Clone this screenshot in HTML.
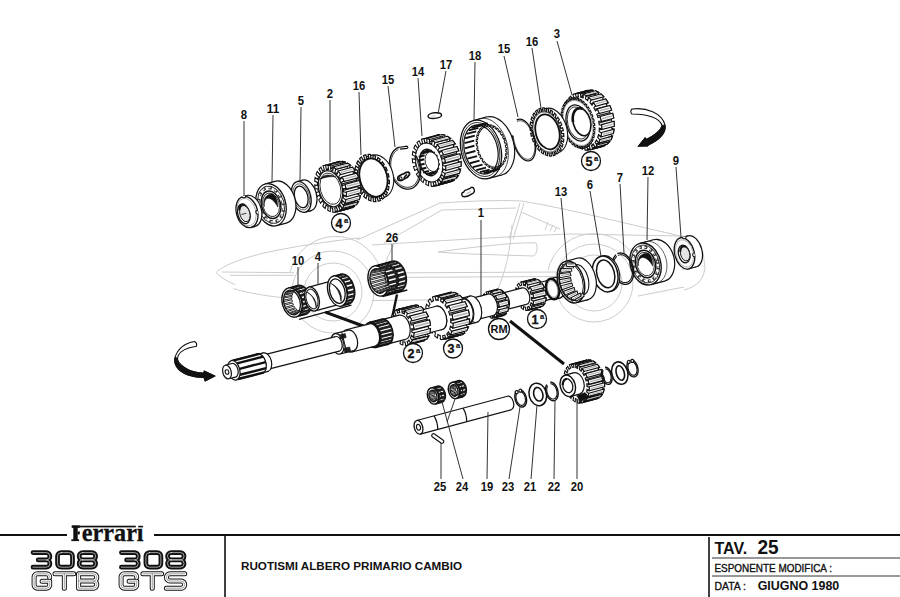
<!DOCTYPE html>
<html><head><meta charset="utf-8"><style>
html,body{margin:0;padding:0;background:#fff;width:900px;height:597px;overflow:hidden}
svg{display:block}
.lb{font-family:"Liberation Sans",sans-serif;font-weight:bold;fill:#111;text-anchor:middle}
.tt{font-family:"Liberation Sans",sans-serif;font-weight:bold;fill:#111}
.big{font-family:"Liberation Sans",sans-serif;font-weight:bold;fill:none;stroke:#111;stroke-linejoin:round}
.bigw{font-family:"Liberation Sans",sans-serif;font-weight:bold;fill:none;stroke:#fff;stroke-linejoin:round}
</style></head><body>
<svg width="900" height="597" viewBox="0 0 900 597">
<path d="M216,272.7 C222,266 240,259 262,253.5 C290,247 330,241 360,238" fill="none" stroke="#cccccc" stroke-width="1" /><path d="M357,240 L440,203 C470,201 500,200 521,201 C560,207 620,222 676,235 C690,240 700,246 703,252 L705,268 C703,280 698,286 684,290" fill="none" stroke="#cccccc" stroke-width="1" /><path d="M221.7,272 L294,272.7" fill="none" stroke="#cccccc" stroke-width="1" /><path d="M230,275.3 L294,275.3" fill="none" stroke="#cccccc" stroke-width="1" /><path d="M216,272.7 C222,278 228,282 235,284.5" fill="none" stroke="#cccccc" stroke-width="1" /><path d="M233.5,288.7 C245,292 262,296 296,299" fill="none" stroke="#cccccc" stroke-width="1" /><path d="M384,243 L442,210 L516,208" fill="none" stroke="#cccccc" stroke-width="1" /><path d="M520,203 L509,239" fill="none" stroke="#cccccc" stroke-width="1" /><path d="M524,203 L513,239" fill="none" stroke="#cccccc" stroke-width="1" /><path d="M378,273 L556,272" fill="none" stroke="#cccccc" stroke-width="1" /><path d="M378,277.5 L556,276.5" fill="none" stroke="#cccccc" stroke-width="1" /><path d="M372,245 C450,240 520,236 570,234 L681,236" fill="none" stroke="#cccccc" stroke-width="1" /><path d="M438,252 C480,246 520,242 536,243 C538,248 537,253 534,256 C500,255 460,254 438,252Z" fill="none" stroke="#cccccc" stroke-width="1" /><path d="M521,212 L560,229 M548,222 l-3,8 M553,225 l-3,6 M557,227 l-3,5" fill="none" stroke="#cccccc" stroke-width="1" /><path d="M681,236 L683,270" fill="none" stroke="#cccccc" stroke-width="1" /><path d="M372,300.5 C440,300 500,299 550,297" fill="none" stroke="#cccccc" stroke-width="1" /><path d="M638,296 L684,287" fill="none" stroke="#cccccc" stroke-width="1" /><path d="M397,240 C390,250 385,262 383,274" fill="none" stroke="#cccccc" stroke-width="1" /><path d="M512,225 C510,250 507,270 494,298" fill="none" stroke="#cccccc" stroke-width="1" /><path d="M290,272 A47,47 0 0 1 380,268" fill="none" stroke="#cccccc" stroke-width="1" /><path d="M548,270 A47,47 0 0 1 640,272" fill="none" stroke="#cccccc" stroke-width="1" /><circle cx="333" cy="292" r="41" fill="none" stroke="#cccccc" stroke-width="1"/><circle cx="333" cy="292" r="29" fill="none" stroke="#cccccc" stroke-width="1"/><circle cx="594" cy="283" r="39" fill="none" stroke="#cccccc" stroke-width="1"/><circle cx="594" cy="283" r="28" fill="none" stroke="#cccccc" stroke-width="1"/>
<g transform="translate(578.00,123.00) rotate(-15)"><g transform="translate(5,0)"><path d="M30.98,0.00 L30.93,2.07 L30.93,2.07 L30.80,4.13 L28.46,3.59 L28.27,5.36 L28.27,5.36 L27.99,7.10 L30.25,8.17 L29.85,10.13 L29.85,10.13 L29.36,12.05 L27.21,10.47 L26.71,12.08 L26.71,12.08 L26.14,13.62 L28.13,15.68 L27.39,17.38 L27.39,17.38 L26.59,18.99 L24.81,16.50 L24.05,17.82 L24.05,17.82 L23.23,19.04 L24.77,21.92 L23.78,23.22 L23.78,23.22 L22.72,24.40 L21.45,21.20 L20.49,22.12 L20.49,22.12 L19.49,22.92 L20.47,26.38 L19.28,27.17 L19.28,27.17 L18.07,27.83 L17.40,24.18 L16.32,24.62 L16.32,24.62 L15.22,24.94 L15.56,28.70 L14.28,28.93 L14.28,28.93 L13.00,29.00 L13.00,25.20 L11.89,25.14 L11.89,25.14 L10.78,24.94 L10.44,28.70 L9.18,28.34 L9.18,28.34 L7.93,27.83 L8.60,24.18 L7.54,23.61 L7.54,23.61 L6.51,22.92 L5.53,26.38 L4.38,25.45 L4.38,25.45 L3.28,24.40 L4.55,21.20 L3.64,20.17 L3.64,20.17 L2.77,19.04 L1.23,21.92 L0.29,20.51 L0.29,20.51 L-0.59,18.99 L1.19,16.50 L0.49,15.10 L0.49,15.10 L-0.14,13.62 L-2.13,15.68 L-2.78,13.90 L-2.78,13.90 L-3.36,12.05 L-1.21,10.47 L-1.64,8.81 L-1.64,8.81 L-1.99,7.10 L-4.25,8.17 L-4.57,6.16 L-4.57,6.16 L-4.80,4.13 L-2.46,3.59 L-2.58,1.80 L-2.58,1.80 L-2.62,0.00 L-4.98,0.00 L-4.93,-2.07 L-4.93,-2.07 L-4.80,-4.13 L-2.46,-3.59 L-2.27,-5.36 L-2.27,-5.36 L-1.99,-7.10 L-4.25,-8.17 L-3.85,-10.13 L-3.85,-10.13 L-3.36,-12.05 L-1.21,-10.47 L-0.71,-12.08 L-0.71,-12.08 L-0.14,-13.62 L-2.13,-15.68 L-1.39,-17.38 L-1.39,-17.38 L-0.59,-18.99 L1.19,-16.50 L1.95,-17.82 L1.95,-17.82 L2.77,-19.04 L1.23,-21.92 L2.22,-23.22 L2.22,-23.22 L3.28,-24.40 L4.55,-21.20 L5.51,-22.12 L5.51,-22.12 L6.51,-22.92 L5.53,-26.38 L6.72,-27.17 L6.72,-27.17 L7.93,-27.83 L8.60,-24.18 L9.68,-24.62 L9.68,-24.62 L10.78,-24.94 L10.44,-28.70 L11.72,-28.93 L11.72,-28.93 L13.00,-29.00 L13.00,-25.20 L14.11,-25.14 L14.11,-25.14 L15.22,-24.94 L15.56,-28.70 L16.82,-28.34 L16.82,-28.34 L18.07,-27.83 L17.40,-24.18 L18.46,-23.61 L18.46,-23.61 L19.49,-22.92 L20.47,-26.38 L21.62,-25.45 L21.62,-25.45 L22.72,-24.40 L21.45,-21.20 L22.36,-20.17 L22.36,-20.17 L23.23,-19.04 L24.77,-21.92 L25.71,-20.51 L25.71,-20.51 L26.59,-18.99 L24.81,-16.50 L25.51,-15.10 L25.51,-15.10 L26.14,-13.62 L28.13,-15.68 L28.78,-13.90 L28.78,-13.90 L29.36,-12.05 L27.21,-10.47 L27.64,-8.81 L27.64,-8.81 L27.99,-7.10 L30.25,-8.17 L30.57,-6.16 L30.57,-6.16 L30.80,-4.13 L28.46,-3.59 L28.58,-1.80 L28.58,-1.80 L28.62,-0.00Z" fill="#fff" stroke="#111" stroke-width="1.1" /><rect x="0" y="-29" width="13" height="58" fill="#fff"/><line x1="15.27" y1="5.36" x2="28.27" y2="5.36" stroke="#222" stroke-width="1.3" /><line x1="13.71" y1="12.08" x2="26.71" y2="12.08" stroke="#222" stroke-width="1.3" /><line x1="11.05" y1="17.82" x2="24.05" y2="17.82" stroke="#222" stroke-width="1.3" /><line x1="7.49" y1="22.12" x2="20.49" y2="22.12" stroke="#222" stroke-width="1.3" /><line x1="3.32" y1="24.62" x2="16.32" y2="24.62" stroke="#222" stroke-width="1.3" /><line x1="-1.11" y1="25.14" x2="11.89" y2="25.14" stroke="#222" stroke-width="1.3" /><line x1="-3.32" y1="-24.62" x2="9.68" y2="-24.62" stroke="#222" stroke-width="1.3" /><line x1="1.11" y1="-25.14" x2="14.11" y2="-25.14" stroke="#222" stroke-width="1.3" /><line x1="5.46" y1="-23.61" x2="18.46" y2="-23.61" stroke="#222" stroke-width="1.3" /><line x1="9.36" y1="-20.17" x2="22.36" y2="-20.17" stroke="#222" stroke-width="1.3" /><line x1="12.51" y1="-15.10" x2="25.51" y2="-15.10" stroke="#222" stroke-width="1.3" /><line x1="14.64" y1="-8.81" x2="27.64" y2="-8.81" stroke="#222" stroke-width="1.3" /><line x1="15.58" y1="-1.80" x2="28.58" y2="-1.80" stroke="#222" stroke-width="1.3" /><path d="M-2.25,28.77 L10.75,28.77 L7.64,27.68 L-5.36,27.68Z" fill="#fff" stroke="#111" stroke-width="1.15" /><path d="M-2.86,-28.63 L10.14,-28.63 L13.31,-29.00 L0.31,-29.00Z" fill="#fff" stroke="#111" stroke-width="1.15" /><path d="M2.86,28.63 L15.86,28.63 L12.69,29.00 L-0.31,29.00Z" fill="#fff" stroke="#111" stroke-width="1.15" /><path d="M2.25,-28.77 L15.25,-28.77 L18.36,-27.68 L5.36,-27.68Z" fill="#fff" stroke="#111" stroke-width="1.15" /><path d="M7.75,26.17 L20.75,26.17 L17.77,27.96 L4.77,27.96Z" fill="#fff" stroke="#111" stroke-width="1.15" /><path d="M7.19,-26.58 L20.19,-26.58 L22.98,-24.12 L9.98,-24.12Z" fill="#fff" stroke="#111" stroke-width="1.15" /><line x1="10.12" y1="-25.45" x2="20.12" y2="-25.45" stroke="#b4b4b4" stroke-width="0.7373298374865521" /><path d="M12.01,21.59 L25.01,21.59 L22.46,24.66 L9.46,24.66Z" fill="#fff" stroke="#111" stroke-width="1.15" /><line x1="12.28" y1="23.22" x2="22.28" y2="23.22" stroke="#b4b4b4" stroke-width="0.9219952815805061" /><path d="M11.54,-22.24 L24.54,-22.24 L26.79,-18.61 L13.79,-18.61Z" fill="#fff" stroke="#111" stroke-width="1.15" /><line x1="14.21" y1="-20.51" x2="24.21" y2="-20.51" stroke="#b4b4b4" stroke-width="1.0878915605563164" /><path d="M15.29,15.26 L28.29,15.26 L26.38,19.36 L13.38,19.36Z" fill="#fff" stroke="#111" stroke-width="1.15" /><line x1="15.89" y1="17.38" x2="25.89" y2="17.38" stroke="#b4b4b4" stroke-width="1.2316415045793936" /><path d="M14.96,-16.09 L27.96,-16.09 L29.48,-11.59 L16.48,-11.59Z" fill="#fff" stroke="#111" stroke-width="1.15" /><line x1="17.28" y1="-13.90" x2="27.28" y2="-13.90" stroke="#b4b4b4" stroke-width="1.35031877933004" /><path d="M17.34,7.69 L30.34,7.69 L29.22,12.50 L16.22,12.50Z" fill="#fff" stroke="#111" stroke-width="1.15" /><line x1="18.35" y1="10.13" x2="28.35" y2="10.13" stroke="#b4b4b4" stroke-width="1.4415074577313256" /><path d="M17.16,-8.65 L30.16,-8.65 L30.84,-3.63 L17.84,-3.63Z" fill="#fff" stroke="#111" stroke-width="1.15" /><line x1="19.07" y1="-6.16" x2="29.07" y2="-6.16" stroke="#b4b4b4" stroke-width="1.5033512012574406" /><path d="M17.98,-0.50 L30.98,-0.50 L30.75,4.62 L17.75,4.62Z" fill="#fff" stroke="#111" stroke-width="1.15" /><line x1="19.43" y1="2.07" x2="29.43" y2="2.07" stroke="#b4b4b4" stroke-width="1.5345910496328141" /><line x1="0.00" y1="-29.00" x2="13.00" y2="-29.00" stroke="#111" stroke-width="1.1" /><line x1="0.00" y1="29.00" x2="13.00" y2="29.00" stroke="#111" stroke-width="1.1" /><path d="M17.98,0.00 L17.93,2.07 L17.93,2.07 L17.80,4.13 L15.46,3.59 L15.27,5.36 L15.27,5.36 L14.99,7.10 L17.25,8.17 L16.85,10.13 L16.85,10.13 L16.36,12.05 L14.21,10.47 L13.71,12.08 L13.71,12.08 L13.14,13.62 L15.13,15.68 L14.39,17.38 L14.39,17.38 L13.59,18.99 L11.81,16.50 L11.05,17.82 L11.05,17.82 L10.23,19.04 L11.77,21.92 L10.78,23.22 L10.78,23.22 L9.72,24.40 L8.45,21.20 L7.49,22.12 L7.49,22.12 L6.49,22.92 L7.47,26.38 L6.28,27.17 L6.28,27.17 L5.07,27.83 L4.40,24.18 L3.32,24.62 L3.32,24.62 L2.22,24.94 L2.56,28.70 L1.28,28.93 L1.28,28.93 L0.00,29.00 L0.00,25.20 L-1.11,25.14 L-1.11,25.14 L-2.22,24.94 L-2.56,28.70 L-3.82,28.34 L-3.82,28.34 L-5.07,27.83 L-4.40,24.18 L-5.46,23.61 L-5.46,23.61 L-6.49,22.92 L-7.47,26.38 L-8.62,25.45 L-8.62,25.45 L-9.72,24.40 L-8.45,21.20 L-9.36,20.17 L-9.36,20.17 L-10.23,19.04 L-11.77,21.92 L-12.71,20.51 L-12.71,20.51 L-13.59,18.99 L-11.81,16.50 L-12.51,15.10 L-12.51,15.10 L-13.14,13.62 L-15.13,15.68 L-15.78,13.90 L-15.78,13.90 L-16.36,12.05 L-14.21,10.47 L-14.64,8.81 L-14.64,8.81 L-14.99,7.10 L-17.25,8.17 L-17.57,6.16 L-17.57,6.16 L-17.80,4.13 L-15.46,3.59 L-15.58,1.80 L-15.58,1.80 L-15.62,0.00 L-17.98,0.00 L-17.93,-2.07 L-17.93,-2.07 L-17.80,-4.13 L-15.46,-3.59 L-15.27,-5.36 L-15.27,-5.36 L-14.99,-7.10 L-17.25,-8.17 L-16.85,-10.13 L-16.85,-10.13 L-16.36,-12.05 L-14.21,-10.47 L-13.71,-12.08 L-13.71,-12.08 L-13.14,-13.62 L-15.13,-15.68 L-14.39,-17.38 L-14.39,-17.38 L-13.59,-18.99 L-11.81,-16.50 L-11.05,-17.82 L-11.05,-17.82 L-10.23,-19.04 L-11.77,-21.92 L-10.78,-23.22 L-10.78,-23.22 L-9.72,-24.40 L-8.45,-21.20 L-7.49,-22.12 L-7.49,-22.12 L-6.49,-22.92 L-7.47,-26.38 L-6.28,-27.17 L-6.28,-27.17 L-5.07,-27.83 L-4.40,-24.18 L-3.32,-24.62 L-3.32,-24.62 L-2.22,-24.94 L-2.56,-28.70 L-1.28,-28.93 L-1.28,-28.93 L-0.00,-29.00 L-0.00,-25.20 L1.11,-25.14 L1.11,-25.14 L2.22,-24.94 L2.56,-28.70 L3.82,-28.34 L3.82,-28.34 L5.07,-27.83 L4.40,-24.18 L5.46,-23.61 L5.46,-23.61 L6.49,-22.92 L7.47,-26.38 L8.62,-25.45 L8.62,-25.45 L9.72,-24.40 L8.45,-21.20 L9.36,-20.17 L9.36,-20.17 L10.23,-19.04 L11.77,-21.92 L12.71,-20.51 L12.71,-20.51 L13.59,-18.99 L11.81,-16.50 L12.51,-15.10 L12.51,-15.10 L13.14,-13.62 L15.13,-15.68 L15.78,-13.90 L15.78,-13.90 L16.36,-12.05 L14.21,-10.47 L14.64,-8.81 L14.64,-8.81 L14.99,-7.10 L17.25,-8.17 L17.57,-6.16 L17.57,-6.16 L17.80,-4.13 L15.46,-3.59 L15.58,-1.80 L15.58,-1.80 L15.62,-0.00Z" fill="#fff" stroke="#111" stroke-width="1.1" /></g><path d="M16.12,0.00 L16.10,1.13 L16.10,1.13 L16.06,2.27 L14.82,2.09 L14.75,3.13 L14.75,3.13 L14.65,4.17 L15.88,4.51 L15.74,5.63 L15.74,5.63 L15.57,6.73 L14.37,6.21 L14.19,7.22 L14.19,7.22 L13.98,8.21 L15.15,8.89 L14.89,9.95 L14.89,9.95 L14.61,10.99 L13.49,10.14 L13.20,11.08 L13.20,11.08 L12.89,12.00 L13.96,13.00 L13.60,13.97 L13.60,13.97 L13.20,14.91 L12.19,13.77 L11.81,14.61 L11.81,14.61 L11.40,15.43 L12.35,16.71 L11.88,17.57 L11.88,17.57 L11.40,18.38 L10.52,16.97 L10.05,17.69 L10.05,17.69 L9.56,18.39 L10.36,19.92 L9.81,20.63 L9.81,20.63 L9.25,21.30 L8.53,19.66 L8.00,20.24 L8.00,20.24 L7.44,20.78 L8.06,22.52 L7.44,23.06 L7.44,23.06 L6.81,23.56 L6.29,21.75 L5.69,22.17 L5.69,22.17 L5.09,22.55 L5.51,24.43 L4.85,24.80 L4.85,24.80 L4.17,25.11 L3.85,23.18 L3.22,23.43 L3.22,23.43 L2.58,23.64 L2.80,25.61 L2.10,25.78 L2.10,25.78 L1.40,25.90 L1.30,23.91 L0.65,23.98 L0.65,23.98 L0.00,24.00 L0.00,26.00 L-0.70,25.98 L-0.70,25.98 L-1.40,25.90 L-1.30,23.91 L-1.94,23.79 L-1.94,23.79 L-2.58,23.64 L-2.80,25.61 L-3.49,25.38 L-3.49,25.38 L-4.17,25.11 L-3.85,23.18 L-4.47,22.89 L-4.47,22.89 L-5.09,22.55 L-5.51,24.43 L-6.17,24.02 L-6.17,24.02 L-6.81,23.56 L-6.29,21.75 L-6.87,21.29 L-6.87,21.29 L-7.44,20.78 L-8.06,22.52 L-8.66,21.93 L-8.66,21.93 L-9.25,21.30 L-8.53,19.66 L-9.06,19.04 L-9.06,19.04 L-9.56,18.39 L-10.36,19.92 L-10.89,19.17 L-10.89,19.17 L-11.40,18.38 L-10.52,16.97 L-10.97,16.21 L-10.97,16.21 L-11.40,15.43 L-12.35,16.71 L-12.79,15.83 L-12.79,15.83 L-13.20,14.91 L-12.19,13.77 L-12.55,12.90 L-12.55,12.90 L-12.89,12.00 L-13.96,13.00 L-14.30,12.01 L-14.30,12.01 L-14.61,10.99 L-13.49,10.14 L-13.75,9.18 L-13.75,9.18 L-13.98,8.21 L-15.15,8.89 L-15.37,7.82 L-15.37,7.82 L-15.57,6.73 L-14.37,6.21 L-14.53,5.19 L-14.53,5.19 L-14.65,4.17 L-15.88,4.51 L-15.98,3.39 L-15.98,3.39 L-16.06,2.27 L-14.82,2.09 L-14.87,1.05 L-14.87,1.05 L-14.88,0.00 L-16.12,0.00 L-16.10,-1.13 L-16.10,-1.13 L-16.06,-2.27 L-14.82,-2.09 L-14.75,-3.13 L-14.75,-3.13 L-14.65,-4.17 L-15.88,-4.51 L-15.74,-5.63 L-15.74,-5.63 L-15.57,-6.73 L-14.37,-6.21 L-14.19,-7.22 L-14.19,-7.22 L-13.98,-8.21 L-15.15,-8.89 L-14.89,-9.95 L-14.89,-9.95 L-14.61,-10.99 L-13.49,-10.14 L-13.20,-11.08 L-13.20,-11.08 L-12.89,-12.00 L-13.96,-13.00 L-13.60,-13.97 L-13.60,-13.97 L-13.20,-14.91 L-12.19,-13.77 L-11.81,-14.61 L-11.81,-14.61 L-11.40,-15.43 L-12.35,-16.71 L-11.88,-17.57 L-11.88,-17.57 L-11.40,-18.38 L-10.52,-16.97 L-10.05,-17.69 L-10.05,-17.69 L-9.56,-18.39 L-10.36,-19.92 L-9.81,-20.63 L-9.81,-20.63 L-9.25,-21.30 L-8.53,-19.66 L-8.00,-20.24 L-8.00,-20.24 L-7.44,-20.78 L-8.06,-22.52 L-7.44,-23.06 L-7.44,-23.06 L-6.81,-23.56 L-6.29,-21.75 L-5.69,-22.17 L-5.69,-22.17 L-5.09,-22.55 L-5.51,-24.43 L-4.85,-24.80 L-4.85,-24.80 L-4.17,-25.11 L-3.85,-23.18 L-3.22,-23.43 L-3.22,-23.43 L-2.58,-23.64 L-2.80,-25.61 L-2.10,-25.78 L-2.10,-25.78 L-1.40,-25.90 L-1.30,-23.91 L-0.65,-23.98 L-0.65,-23.98 L-0.00,-24.00 L-0.00,-26.00 L0.70,-25.98 L0.70,-25.98 L1.40,-25.90 L1.30,-23.91 L1.94,-23.79 L1.94,-23.79 L2.58,-23.64 L2.80,-25.61 L3.49,-25.38 L3.49,-25.38 L4.17,-25.11 L3.85,-23.18 L4.47,-22.89 L4.47,-22.89 L5.09,-22.55 L5.51,-24.43 L6.17,-24.02 L6.17,-24.02 L6.81,-23.56 L6.29,-21.75 L6.87,-21.29 L6.87,-21.29 L7.44,-20.78 L8.06,-22.52 L8.66,-21.93 L8.66,-21.93 L9.25,-21.30 L8.53,-19.66 L9.06,-19.04 L9.06,-19.04 L9.56,-18.39 L10.36,-19.92 L10.89,-19.17 L10.89,-19.17 L11.40,-18.38 L10.52,-16.97 L10.97,-16.21 L10.97,-16.21 L11.40,-15.43 L12.35,-16.71 L12.79,-15.83 L12.79,-15.83 L13.20,-14.91 L12.19,-13.77 L12.55,-12.90 L12.55,-12.90 L12.89,-12.00 L13.96,-13.00 L14.30,-12.01 L14.30,-12.01 L14.61,-10.99 L13.49,-10.14 L13.75,-9.18 L13.75,-9.18 L13.98,-8.21 L15.15,-8.89 L15.37,-7.82 L15.37,-7.82 L15.57,-6.73 L14.37,-6.21 L14.53,-5.19 L14.53,-5.19 L14.65,-4.17 L15.88,-4.51 L15.98,-3.39 L15.98,-3.39 L16.06,-2.27 L14.82,-2.09 L14.87,-1.05 L14.87,-1.05 L14.88,-0.00Z" fill="#fff" stroke="#111" stroke-width="1.1" /><ellipse cx="0.00" cy="0.00" rx="14.26" ry="23.00" fill="none" stroke="#777" stroke-width="0.6" /><ellipse cx="0.00" cy="0.00" rx="11.47" ry="18.50" fill="#fff" stroke="#111" stroke-width="1.3" /><ellipse cx="0.00" cy="0.00" rx="10.23" ry="16.50" fill="#fff" stroke="#111" stroke-width="0.8" /><ellipse cx="4.00" cy="0.00" rx="8.68" ry="14.00" fill="#fff" stroke="#111" stroke-width="1.6" /><path d="M-4.57,-2.21 L-4.40,-3.51 L-4.16,-4.78 L-3.84,-6.01 L-3.45,-7.18 L-3.00,-8.29 L-2.48,-9.32 L-1.90,-10.27 L-1.27,-11.12 L-0.59,-11.88 L0.13,-12.53 L0.88,-13.07 L1.66,-13.48 L2.47,-13.78 L3.29,-13.95 L4.11,-14.00 L4.93,-13.92 L5.75,-13.71 L6.55,-13.38 L7.32,-12.93 L8.07,-12.37" fill="none" stroke="#111" stroke-width="2.6" /></g>
<g transform="translate(547.00,132.00) rotate(-15)"><ellipse cx="5.00" cy="0.00" rx="15.18" ry="23.00" fill="#fff" stroke="#111" stroke-width="1.1" /><rect x="0" y="-23.0" width="5" height="46.0" fill="#fff"/><line x1="0.00" y1="-23.00" x2="5.00" y2="-23.00" stroke="#111" stroke-width="1.1" /><line x1="0.00" y1="23.00" x2="5.00" y2="23.00" stroke="#111" stroke-width="1.1" /><path d="M16.17,0.00 L16.14,1.48 L16.14,1.48 L16.05,2.95 L14.09,2.59 L13.96,3.88 L13.96,3.88 L13.78,5.15 L15.70,5.86 L15.44,7.29 L15.44,7.29 L15.12,8.69 L13.27,7.62 L12.94,8.82 L12.94,8.82 L12.56,9.99 L14.32,11.39 L13.84,12.67 L13.84,12.67 L13.31,13.92 L11.68,12.21 L11.17,13.26 L11.17,13.26 L10.62,14.26 L12.10,16.25 L11.43,17.32 L11.43,17.32 L10.72,18.34 L9.41,16.09 L8.75,16.92 L8.75,16.92 L8.06,17.69 L9.19,20.16 L8.37,20.97 L8.37,20.97 L7.51,21.69 L6.59,19.04 L5.82,19.61 L5.82,19.61 L5.03,20.10 L5.73,22.91 L4.81,23.39 L4.81,23.39 L3.87,23.79 L3.40,20.88 L2.56,21.15 L2.56,21.15 L1.71,21.34 L1.95,24.32 L0.98,24.46 L0.98,24.46 L-0.00,24.50 L-0.00,21.50 L-0.86,21.46 L-0.86,21.46 L-1.71,21.34 L-1.95,24.32 L-2.91,24.10 L-2.91,24.10 L-3.87,23.79 L-3.40,20.88 L-4.22,20.53 L-4.22,20.53 L-5.03,20.10 L-5.73,22.91 L-6.64,22.34 L-6.64,22.34 L-7.51,21.69 L-6.59,19.04 L-7.34,18.40 L-7.34,18.40 L-8.06,17.69 L-9.19,20.16 L-9.97,19.29 L-9.97,19.29 L-10.72,18.34 L-9.41,16.09 L-10.03,15.20 L-10.03,15.20 L-10.62,14.26 L-12.10,16.25 L-12.73,15.11 L-12.73,15.11 L-13.31,13.92 L-11.68,12.21 L-12.14,11.12 L-12.14,11.12 L-12.56,9.99 L-14.32,11.39 L-14.75,10.06 L-14.75,10.06 L-15.12,8.69 L-13.27,7.62 L-13.55,6.40 L-13.55,6.40 L-13.78,5.15 L-15.70,5.86 L-15.91,4.42 L-15.91,4.42 L-16.05,2.95 L-14.09,2.59 L-14.16,1.30 L-14.16,1.30 L-14.19,-0.00 L-16.17,-0.00 L-16.14,-1.48 L-16.14,-1.48 L-16.05,-2.95 L-14.09,-2.59 L-13.96,-3.88 L-13.96,-3.88 L-13.78,-5.15 L-15.70,-5.86 L-15.44,-7.29 L-15.44,-7.29 L-15.12,-8.69 L-13.27,-7.62 L-12.94,-8.82 L-12.94,-8.82 L-12.56,-9.99 L-14.32,-11.39 L-13.84,-12.67 L-13.84,-12.67 L-13.31,-13.92 L-11.68,-12.21 L-11.17,-13.26 L-11.17,-13.26 L-10.62,-14.26 L-12.10,-16.25 L-11.43,-17.32 L-11.43,-17.32 L-10.72,-18.34 L-9.41,-16.09 L-8.75,-16.92 L-8.75,-16.92 L-8.06,-17.69 L-9.19,-20.16 L-8.37,-20.97 L-8.37,-20.97 L-7.51,-21.69 L-6.59,-19.04 L-5.82,-19.61 L-5.82,-19.61 L-5.03,-20.10 L-5.73,-22.91 L-4.81,-23.39 L-4.81,-23.39 L-3.87,-23.79 L-3.40,-20.88 L-2.56,-21.15 L-2.56,-21.15 L-1.71,-21.34 L-1.95,-24.32 L-0.98,-24.46 L-0.98,-24.46 L-0.00,-24.50 L-0.00,-21.50 L0.86,-21.46 L0.86,-21.46 L1.71,-21.34 L1.95,-24.32 L2.91,-24.10 L2.91,-24.10 L3.87,-23.79 L3.40,-20.88 L4.22,-20.53 L4.22,-20.53 L5.03,-20.10 L5.73,-22.91 L6.64,-22.34 L6.64,-22.34 L7.51,-21.69 L6.59,-19.04 L7.34,-18.40 L7.34,-18.40 L8.06,-17.69 L9.19,-20.16 L9.97,-19.29 L9.97,-19.29 L10.72,-18.34 L9.41,-16.09 L10.03,-15.20 L10.03,-15.20 L10.62,-14.26 L12.10,-16.25 L12.73,-15.11 L12.73,-15.11 L13.31,-13.92 L11.68,-12.21 L12.14,-11.12 L12.14,-11.12 L12.56,-9.99 L14.32,-11.39 L14.75,-10.06 L14.75,-10.06 L15.12,-8.69 L13.27,-7.62 L13.55,-6.40 L13.55,-6.40 L13.78,-5.15 L15.70,-5.86 L15.91,-4.42 L15.91,-4.42 L16.05,-2.95 L14.09,-2.59 L14.16,-1.30 L14.16,-1.30 L14.19,0.00Z" fill="#fff" stroke="#111" stroke-width="1.2" /><ellipse cx="0.00" cy="0.00" rx="13.53" ry="20.50" fill="none" stroke="#111" stroke-width="0.7" /><ellipse cx="0.50" cy="0.00" rx="11.75" ry="17.80" fill="#fff" stroke="#111" stroke-width="1.8" /></g>
<g transform="translate(524.00,140.00) rotate(-15)"><path d="M-1.91,-21.06 L-0.98,-21.31 L-0.04,-21.40 L0.89,-21.33 L1.82,-21.09 L2.73,-20.69 L3.63,-20.13 L4.49,-19.42 L5.32,-18.56 L6.11,-17.56 L6.86,-16.43 L7.55,-15.16 L8.18,-13.79 L8.75,-12.30 L9.26,-10.73 L9.69,-9.07 L10.05,-7.34 L10.33,-5.55 L10.54,-3.73 L10.66,-1.87 L10.70,0.00 L10.66,1.87 L10.54,3.73 L10.33,5.55 L10.05,7.34 L9.69,9.07 L9.26,10.73 L8.75,12.30 L8.18,13.79 L7.55,15.16 L6.86,16.43 L6.11,17.56 L5.32,18.56 L4.49,19.42 L3.63,20.13 L2.73,20.69 L1.82,21.09 L0.89,21.33 L-0.04,21.40 L-0.98,21.31 L-1.91,21.06 L-2.82,20.64 L-3.71,20.07 L-4.57,19.35 L-5.40,18.47 L-6.19,17.46 L-6.93,16.31 L-7.61,15.04 L-8.24,13.65 L-8.81,12.16 L-9.30,10.57 L-9.73,8.90 L-10.08,7.17 L-10.36,5.38 L-10.55,3.55 L-10.67,1.69 L-10.70,-0.18 L-10.65,-2.05 L-10.52,-3.90 L-10.31,-5.73 L-10.02,-7.51" fill="none" stroke="#111" stroke-width="1.3" /><path d="M-1.76,-19.48 L-0.91,-19.72 L-0.04,-19.80 L0.82,-19.73 L1.68,-19.51 L2.53,-19.14 L3.36,-18.63 L4.16,-17.97 L4.93,-17.17 L5.66,-16.25 L6.35,-15.20 L6.99,-14.03 L7.57,-12.76 L8.10,-11.38 L8.57,-9.92 L8.97,-8.39 L9.30,-6.79 L9.56,-5.14 L9.75,-3.45 L9.86,-1.73 L9.90,0.00 L9.86,1.73 L9.75,3.45 L9.56,5.14 L9.30,6.79 L8.97,8.39 L8.57,9.92 L8.10,11.38 L7.57,12.76 L6.99,14.03 L6.35,15.20 L5.66,16.25 L4.93,17.17 L4.16,17.97 L3.36,18.63 L2.53,19.14 L1.68,19.51 L0.82,19.73 L-0.04,19.80 L-0.91,19.72 L-1.76,19.48 L-2.61,19.10 L-3.43,18.57 L-4.23,17.90 L-5.00,17.09 L-5.73,16.15 L-6.41,15.09 L-7.04,13.91 L-7.63,12.63 L-8.15,11.25 L-8.61,9.78 L-9.00,8.24 L-9.33,6.63 L-9.58,4.98 L-9.76,3.28 L-9.87,1.56 L-9.90,-0.17 L-9.85,-1.90 L-9.73,-3.61 L-9.54,-5.30 L-9.27,-6.95" fill="none" stroke="#111" stroke-width="0.7" /></g>
<g transform="translate(468.30,193.50) rotate(-10)"><path d="M-6.5,1 q-0.5,-3 2,-3 q1,-2 4,-2 q3,-0.5 4.5,-1.5 q2.5,0 2.5,2.5 q0.5,3 -3,4 q-4,2 -8,1.5 q-2,-0.5 -2,-1.5z" fill="#fff" stroke="#111" stroke-width="1.4" /><line x1="-2.00" y1="0.00" x2="3.00" y2="-1.50" stroke="#999" stroke-width="0.8" /></g>
<g transform="translate(481.00,149.50) rotate(-15)"><ellipse cx="13.50" cy="0.00" rx="19.80" ry="30.00" fill="#fff" stroke="#111" stroke-width="1.2" /><rect x="0" y="-30" width="13.5" height="60" fill="#fff"/><line x1="0.00" y1="-30.00" x2="13.50" y2="-30.00" stroke="#111" stroke-width="1.2" /><line x1="0.00" y1="30.00" x2="13.50" y2="30.00" stroke="#111" stroke-width="1.2" /><ellipse cx="7.00" cy="0.00" rx="19.80" ry="30.00" fill="none" stroke="#111" stroke-width="0.7" /><ellipse cx="0.00" cy="0.00" rx="19.80" ry="30.00" fill="#fff" stroke="#111" stroke-width="1.3" /><ellipse cx="0.00" cy="0.00" rx="18.15" ry="27.50" fill="#fff" stroke="#111" stroke-width="0.8" /><ellipse cx="0.00" cy="0.00" rx="16.50" ry="25.00" fill="#fff" stroke="#111" stroke-width="1.2" /><line x1="3.52" y1="23.40" x2="13.52" y2="23.40" stroke="#111" stroke-width="1.9" /><line x1="0.00" y1="24.00" x2="10.00" y2="24.00" stroke="#111" stroke-width="1.9" /><line x1="-3.52" y1="23.40" x2="6.48" y2="23.40" stroke="#111" stroke-width="1.9" /><line x1="-6.87" y1="21.62" x2="3.13" y2="21.62" stroke="#111" stroke-width="1.9" /><line x1="-9.88" y1="18.76" x2="0.12" y2="18.76" stroke="#111" stroke-width="1.9" /><line x1="-12.38" y1="14.96" x2="-2.38" y2="14.96" stroke="#111" stroke-width="1.9" /><line x1="-14.27" y1="10.41" x2="-4.27" y2="10.41" stroke="#111" stroke-width="1.9" /><line x1="-15.44" y1="5.34" x2="-5.44" y2="5.34" stroke="#111" stroke-width="1.9" /><line x1="-15.84" y1="0.00" x2="-5.84" y2="0.00" stroke="#111" stroke-width="1.9" /><line x1="-15.44" y1="-5.34" x2="-5.44" y2="-5.34" stroke="#111" stroke-width="1.9" /><line x1="-14.27" y1="-10.41" x2="-4.27" y2="-10.41" stroke="#111" stroke-width="1.9" /><line x1="-12.38" y1="-14.96" x2="-2.38" y2="-14.96" stroke="#111" stroke-width="1.9" /><line x1="-9.88" y1="-18.76" x2="0.12" y2="-18.76" stroke="#111" stroke-width="1.9" /><line x1="-6.87" y1="-21.62" x2="3.13" y2="-21.62" stroke="#111" stroke-width="1.9" /><line x1="-3.52" y1="-23.40" x2="6.48" y2="-23.40" stroke="#111" stroke-width="1.9" /><line x1="-0.00" y1="-24.00" x2="10.00" y2="-24.00" stroke="#111" stroke-width="1.9" /><line x1="3.52" y1="-23.40" x2="13.52" y2="-23.40" stroke="#111" stroke-width="1.9" /><path d="M25.85,0.00 L25.83,1.18 L25.83,1.18 L25.77,2.35 L24.59,2.16 L24.49,3.24 L24.49,3.24 L24.36,4.30 L25.53,4.68 L25.34,5.82 L25.34,5.82 L25.12,6.95 L23.99,6.40 L23.75,7.42 L23.75,7.42 L23.48,8.42 L24.57,9.15 L24.23,10.21 L24.23,10.21 L23.86,11.25 L22.83,10.35 L22.46,11.27 L22.46,11.27 L22.05,12.17 L23.01,13.23 L22.54,14.16 L22.54,14.16 L22.04,15.06 L21.15,13.85 L20.66,14.64 L20.66,14.64 L20.14,15.38 L20.94,16.72 L20.35,17.49 L20.35,17.49 L19.73,18.20 L19.03,16.75 L18.44,17.36 L18.44,17.36 L17.83,17.93 L18.43,19.49 L17.74,20.05 L17.74,20.05 L17.04,20.55 L16.56,18.91 L15.90,19.33 L15.90,19.33 L15.22,19.69 L15.59,21.40 L14.84,21.73 L14.84,21.73 L14.09,22.01 L13.84,20.25 L13.14,20.45 L13.14,20.45 L12.43,20.59 L12.55,22.38 L11.78,22.47 L11.78,22.47 L11.00,22.50 L11.00,20.70 L10.28,20.67 L10.28,20.67 L9.57,20.59 L9.45,22.38 L8.68,22.22 L8.68,22.22 L7.91,22.01 L8.16,20.25 L7.46,19.99 L7.46,19.99 L6.78,19.69 L6.41,21.40 L5.68,21.01 L5.68,21.01 L4.96,20.55 L5.44,18.91 L4.80,18.44 L4.80,18.44 L4.17,17.93 L3.58,19.49 L2.91,18.87 L2.91,18.87 L2.27,18.20 L2.97,16.75 L2.40,16.09 L2.40,16.09 L1.86,15.38 L1.06,16.72 L0.50,15.91 L0.50,15.91 L-0.04,15.06 L0.85,13.85 L0.38,13.03 L0.38,13.03 L-0.05,12.17 L-1.01,13.23 L-1.45,12.25 L-1.45,12.25 L-1.86,11.25 L-0.83,10.35 L-1.17,9.40 L-1.17,9.40 L-1.48,8.42 L-2.57,9.15 L-2.86,8.06 L-2.86,8.06 L-3.12,6.95 L-1.99,6.40 L-2.20,5.36 L-2.20,5.36 L-2.36,4.30 L-3.53,4.68 L-3.67,3.52 L-3.67,3.52 L-3.77,2.35 L-2.59,2.16 L-2.64,1.08 L-2.64,1.08 L-2.66,0.00 L-3.85,0.00 L-3.83,-1.18 L-3.83,-1.18 L-3.77,-2.35 L-2.59,-2.16 L-2.49,-3.24 L-2.49,-3.24 L-2.36,-4.30 L-3.53,-4.68 L-3.34,-5.82 L-3.34,-5.82 L-3.12,-6.95 L-1.99,-6.40 L-1.75,-7.42 L-1.75,-7.42 L-1.48,-8.42 L-2.57,-9.15 L-2.23,-10.21 L-2.23,-10.21 L-1.86,-11.25 L-0.83,-10.35 L-0.46,-11.27 L-0.46,-11.27 L-0.05,-12.17 L-1.01,-13.23 L-0.54,-14.16 L-0.54,-14.16 L-0.04,-15.06 L0.85,-13.85 L1.34,-14.64 L1.34,-14.64 L1.86,-15.38 L1.06,-16.72 L1.65,-17.49 L1.65,-17.49 L2.27,-18.20 L2.97,-16.75 L3.56,-17.36 L3.56,-17.36 L4.17,-17.93 L3.57,-19.49 L4.26,-20.05 L4.26,-20.05 L4.96,-20.55 L5.44,-18.91 L6.10,-19.33 L6.10,-19.33 L6.78,-19.69 L6.41,-21.40 L7.16,-21.73 L7.16,-21.73 L7.91,-22.01 L8.16,-20.25 L8.86,-20.45 L8.86,-20.45 L9.57,-20.59 L9.45,-22.38 L10.22,-22.47 L10.22,-22.47 L11.00,-22.50 L11.00,-20.70 L11.72,-20.67 L11.72,-20.67 L12.43,-20.59 L12.55,-22.38 L13.32,-22.22 L13.32,-22.22 L14.09,-22.01 L13.84,-20.25 L14.54,-19.99 L14.54,-19.99 L15.22,-19.69 L15.59,-21.40 L16.32,-21.01 L16.32,-21.01 L17.04,-20.55 L16.56,-18.91 L17.20,-18.44 L17.20,-18.44 L17.83,-17.93 L18.43,-19.49 L19.09,-18.87 L19.09,-18.87 L19.73,-18.20 L19.03,-16.75 L19.60,-16.09 L19.60,-16.09 L20.14,-15.38 L20.94,-16.72 L21.50,-15.91 L21.50,-15.91 L22.04,-15.06 L21.15,-13.85 L21.62,-13.03 L21.62,-13.03 L22.05,-12.17 L23.01,-13.23 L23.45,-12.25 L23.45,-12.25 L23.86,-11.25 L22.83,-10.35 L23.17,-9.40 L23.17,-9.40 L23.48,-8.42 L24.57,-9.15 L24.86,-8.06 L24.86,-8.06 L25.12,-6.95 L23.99,-6.40 L24.20,-5.36 L24.20,-5.36 L24.36,-4.30 L25.53,-4.68 L25.67,-3.52 L25.67,-3.52 L25.77,-2.35 L24.59,-2.16 L24.64,-1.08 L24.64,-1.08 L24.66,-0.00Z" fill="none" stroke="#111" stroke-width="1.0" /></g>
<g transform="translate(434.80,115.60) rotate(-5)"><ellipse cx="0.00" cy="0.00" rx="6.80" ry="2.80" fill="#fff" stroke="#111" stroke-width="1.4" /><ellipse cx="-1.50" cy="0.50" rx="2.50" ry="1.00" fill="#ddd" stroke="#111" stroke-width="0" /></g>
<g transform="translate(429.00,162.50) rotate(-15)"><path d="M32.04,0.00 L31.98,2.01 L31.98,2.01 L31.82,4.00 L29.09,3.31 L28.86,4.93 L28.86,4.93 L28.55,6.53 L31.17,7.89 L30.69,9.76 L30.69,9.76 L30.11,11.57 L27.67,9.57 L27.11,10.99 L27.11,10.99 L26.47,12.35 L28.66,14.93 L27.80,16.46 L27.80,16.46 L26.86,17.88 L24.98,14.79 L24.15,15.86 L24.15,15.86 L23.26,16.83 L24.77,20.34 L23.63,21.37 L23.63,21.37 L22.44,22.25 L21.33,18.41 L20.31,19.01 L20.31,19.01 L19.26,19.48 L19.94,23.56 L18.64,23.97 L18.64,23.97 L17.32,24.22 L17.10,20.03 L16.00,20.10 L16.00,20.10 L14.90,20.03 L14.68,24.22 L13.36,23.97 L13.36,23.97 L12.06,23.56 L12.74,19.48 L11.69,19.01 L11.69,19.01 L10.67,18.41 L9.56,22.25 L8.37,21.37 L8.37,21.37 L7.23,20.34 L8.74,16.83 L7.85,15.86 L7.85,15.86 L7.02,14.79 L5.14,17.88 L4.20,16.46 L4.20,16.46 L3.34,14.93 L5.53,12.35 L4.89,10.99 L4.89,10.99 L4.33,9.57 L1.89,11.57 L1.31,9.76 L1.31,9.76 L0.83,7.89 L3.45,6.53 L3.14,4.93 L3.14,4.93 L2.91,3.31 L0.18,4.00 L0.02,2.01 L0.02,2.01 L-0.04,0.00 L2.73,0.00 L2.78,-1.66 L2.78,-1.66 L2.91,-3.31 L0.18,-4.00 L0.45,-5.97 L0.45,-5.97 L0.83,-7.89 L3.45,-6.53 L3.85,-8.07 L3.85,-8.07 L4.33,-9.57 L1.89,-11.57 L2.57,-13.29 L2.57,-13.29 L3.34,-14.93 L5.53,-12.35 L6.24,-13.61 L6.24,-13.61 L7.02,-14.79 L5.14,-17.88 L6.15,-19.18 L6.15,-19.18 L7.23,-20.34 L8.74,-16.83 L9.69,-17.68 L9.69,-17.68 L10.67,-18.41 L9.56,-22.25 L10.79,-22.98 L10.79,-22.98 L12.06,-23.56 L12.74,-19.48 L13.82,-19.83 L13.82,-19.83 L14.90,-20.03 L14.68,-24.22 L16.00,-24.30 L16.00,-24.30 L17.32,-24.22 L17.10,-20.03 L18.18,-19.83 L18.18,-19.83 L19.26,-19.48 L19.94,-23.56 L21.21,-22.98 L21.21,-22.98 L22.44,-22.25 L21.33,-18.41 L22.31,-17.68 L22.31,-17.68 L23.26,-16.83 L24.77,-20.34 L25.85,-19.18 L25.85,-19.18 L26.86,-17.88 L24.98,-14.79 L25.76,-13.61 L25.76,-13.61 L26.47,-12.35 L28.66,-14.93 L29.43,-13.29 L29.43,-13.29 L30.11,-11.57 L27.67,-9.57 L28.15,-8.07 L28.15,-8.07 L28.55,-6.53 L31.17,-7.89 L31.55,-5.97 L31.55,-5.97 L31.82,-4.00 L29.09,-3.31 L29.22,-1.66 L29.22,-1.66 L29.27,-0.00Z" fill="#fff" stroke="#111" stroke-width="1.1" /><rect x="0" y="-24.3" width="16" height="48.6" fill="#fff"/><line x1="12.86" y1="4.93" x2="28.86" y2="4.93" stroke="#222" stroke-width="1.3" /><line x1="11.11" y1="10.99" x2="27.11" y2="10.99" stroke="#222" stroke-width="1.3" /><line x1="8.15" y1="15.86" x2="24.15" y2="15.86" stroke="#222" stroke-width="1.3" /><line x1="4.31" y1="19.01" x2="20.31" y2="19.01" stroke="#222" stroke-width="1.3" /><line x1="0.00" y1="20.10" x2="16.00" y2="20.10" stroke="#222" stroke-width="1.3" /><line x1="-2.18" y1="-19.83" x2="13.82" y2="-19.83" stroke="#222" stroke-width="1.3" /><line x1="2.18" y1="-19.83" x2="18.18" y2="-19.83" stroke="#222" stroke-width="1.3" /><line x1="6.31" y1="-17.68" x2="22.31" y2="-17.68" stroke="#222" stroke-width="1.3" /><line x1="9.76" y1="-13.61" x2="25.76" y2="-13.61" stroke="#222" stroke-width="1.3" /><line x1="12.15" y1="-8.07" x2="28.15" y2="-8.07" stroke="#222" stroke-width="1.3" /><line x1="13.22" y1="-1.66" x2="29.22" y2="-1.66" stroke="#222" stroke-width="1.3" /><path d="M-1.01,24.25 L14.99,24.25 L11.76,23.43 L-4.24,23.43Z" fill="#fff" stroke="#111" stroke-width="1.15" /><path d="M-1.64,-24.17 L14.36,-24.17 L17.64,-24.17 L1.64,-24.17Z" fill="#fff" stroke="#111" stroke-width="1.15" /><path d="M4.24,23.43 L20.24,23.43 L17.01,24.25 L1.01,24.25Z" fill="#fff" stroke="#111" stroke-width="1.15" /><path d="M3.63,-23.67 L19.63,-23.67 L22.73,-22.06 L6.73,-22.06Z" fill="#fff" stroke="#111" stroke-width="1.15" /><path d="M9.04,20.08 L25.04,20.08 L22.15,22.44 L6.15,22.44Z" fill="#fff" stroke="#111" stroke-width="1.15" /><line x1="9.13" y1="21.37" x2="22.13" y2="21.37" stroke="#b4b4b4" stroke-width="0.7101391871141806" /><path d="M8.50,-20.60 L24.50,-20.60 L27.09,-17.55 L11.09,-17.55Z" fill="#fff" stroke="#111" stroke-width="1.15" /><line x1="11.35" y1="-19.18" x2="24.35" y2="-19.18" stroke="#b4b4b4" stroke-width="0.9164385032584074" /><path d="M12.85,14.54 L28.85,14.54 L26.63,18.20 L10.63,18.20Z" fill="#fff" stroke="#111" stroke-width="1.15" /><line x1="13.30" y1="16.46" x2="26.30" y2="16.46" stroke="#b4b4b4" stroke-width="1.0977397660106254" /><path d="M12.46,-15.30 L28.46,-15.30 L30.25,-11.14 L14.25,-11.14Z" fill="#fff" stroke="#111" stroke-width="1.15" /><line x1="14.93" y1="-13.29" x2="27.93" y2="-13.29" stroke="#b4b4b4" stroke-width="1.2490975495400707" /><path d="M15.27,7.43 L31.27,7.43 L29.95,11.99 L13.95,11.99Z" fill="#fff" stroke="#111" stroke-width="1.15" /><line x1="16.19" y1="9.76" x2="29.19" y2="9.76" stroke="#b4b4b4" stroke-width="1.3663832080723581" /><path d="M15.06,-8.34 L31.06,-8.34 L31.87,-3.52 L15.87,-3.52Z" fill="#fff" stroke="#111" stroke-width="1.15" /><line x1="17.05" y1="-5.97" x2="30.05" y2="-5.97" stroke="#b4b4b4" stroke-width="1.4463974945836158" /><path d="M16.03,-0.48 L32.03,-0.48 L31.76,4.47 L15.76,4.47Z" fill="#fff" stroke="#111" stroke-width="1.15" /><line x1="17.48" y1="2.01" x2="30.48" y2="2.01" stroke="#b4b4b4" stroke-width="1.4869578279194988" /><line x1="0.00" y1="-24.30" x2="16.00" y2="-24.30" stroke="#111" stroke-width="1.1" /><line x1="0.00" y1="24.30" x2="16.00" y2="24.30" stroke="#111" stroke-width="1.1" /><path d="M16.04,0.00 L15.98,2.01 L15.98,2.01 L15.82,4.00 L13.09,3.31 L12.86,4.93 L12.86,4.93 L12.55,6.53 L15.17,7.89 L14.69,9.76 L14.69,9.76 L14.11,11.57 L11.67,9.57 L11.11,10.99 L11.11,10.99 L10.47,12.35 L12.66,14.93 L11.80,16.46 L11.80,16.46 L10.86,17.88 L8.98,14.79 L8.15,15.86 L8.15,15.86 L7.26,16.83 L8.77,20.34 L7.63,21.37 L7.63,21.37 L6.44,22.25 L5.33,18.41 L4.31,19.01 L4.31,19.01 L3.26,19.48 L3.94,23.56 L2.64,23.97 L2.64,23.97 L1.32,24.22 L1.10,20.03 L0.00,20.10 L0.00,20.10 L-1.10,20.03 L-1.32,24.22 L-2.64,23.97 L-2.64,23.97 L-3.94,23.56 L-3.26,19.48 L-4.31,19.01 L-4.31,19.01 L-5.33,18.41 L-6.44,22.25 L-7.63,21.37 L-7.63,21.37 L-8.77,20.34 L-7.26,16.83 L-8.15,15.86 L-8.15,15.86 L-8.98,14.79 L-10.86,17.88 L-11.80,16.46 L-11.80,16.46 L-12.66,14.93 L-10.47,12.35 L-11.11,10.99 L-11.11,10.99 L-11.67,9.57 L-14.11,11.57 L-14.69,9.76 L-14.69,9.76 L-15.17,7.89 L-12.55,6.53 L-12.86,4.93 L-12.86,4.93 L-13.09,3.31 L-15.82,4.00 L-15.98,2.01 L-15.98,2.01 L-16.04,0.00 L-13.27,0.00 L-13.22,-1.66 L-13.22,-1.66 L-13.09,-3.31 L-15.82,-4.00 L-15.55,-5.97 L-15.55,-5.97 L-15.17,-7.89 L-12.55,-6.53 L-12.15,-8.07 L-12.15,-8.07 L-11.67,-9.57 L-14.11,-11.57 L-13.43,-13.29 L-13.43,-13.29 L-12.66,-14.93 L-10.47,-12.35 L-9.76,-13.61 L-9.76,-13.61 L-8.98,-14.79 L-10.86,-17.88 L-9.85,-19.18 L-9.85,-19.18 L-8.77,-20.34 L-7.26,-16.83 L-6.31,-17.68 L-6.31,-17.68 L-5.33,-18.41 L-6.44,-22.25 L-5.21,-22.98 L-5.21,-22.98 L-3.94,-23.56 L-3.26,-19.48 L-2.18,-19.83 L-2.18,-19.83 L-1.10,-20.03 L-1.32,-24.22 L-0.00,-24.30 L-0.00,-24.30 L1.32,-24.22 L1.10,-20.03 L2.18,-19.83 L2.18,-19.83 L3.26,-19.48 L3.94,-23.56 L5.21,-22.98 L5.21,-22.98 L6.44,-22.25 L5.33,-18.41 L6.31,-17.68 L6.31,-17.68 L7.26,-16.83 L8.77,-20.34 L9.85,-19.18 L9.85,-19.18 L10.86,-17.88 L8.98,-14.79 L9.76,-13.61 L9.76,-13.61 L10.47,-12.35 L12.66,-14.93 L13.43,-13.29 L13.43,-13.29 L14.11,-11.57 L11.67,-9.57 L12.15,-8.07 L12.15,-8.07 L12.55,-6.53 L15.17,-7.89 L15.55,-5.97 L15.55,-5.97 L15.82,-4.00 L13.09,-3.31 L13.22,-1.66 L13.22,-1.66 L13.27,-0.00Z" fill="#fff" stroke="#111" stroke-width="1.1" /><ellipse cx="0.00" cy="0.00" rx="13.07" ry="19.80" fill="none" stroke="#111" stroke-width="0.8" /><ellipse cx="0.00" cy="0.00" rx="8.91" ry="13.50" fill="#fff" stroke="#111" stroke-width="1.3" /><line x1="4.59" y1="0.00" x2="10.59" y2="0.00" stroke="#111" stroke-width="2.2" /><line x1="4.01" y1="4.40" x2="10.01" y2="4.40" stroke="#111" stroke-width="2.2" /><line x1="2.37" y1="8.13" x2="8.37" y2="8.13" stroke="#111" stroke-width="2.2" /><line x1="-0.10" y1="10.62" x2="5.90" y2="10.62" stroke="#111" stroke-width="2.2" /><line x1="-3.00" y1="11.50" x2="3.00" y2="11.50" stroke="#111" stroke-width="2.2" /><line x1="-5.90" y1="10.62" x2="0.10" y2="10.62" stroke="#111" stroke-width="2.2" /><line x1="-8.37" y1="8.13" x2="-2.37" y2="8.13" stroke="#111" stroke-width="2.2" /><line x1="-10.01" y1="4.40" x2="-4.01" y2="4.40" stroke="#111" stroke-width="2.2" /><line x1="-10.59" y1="0.00" x2="-4.59" y2="0.00" stroke="#111" stroke-width="2.2" /><line x1="-10.01" y1="-4.40" x2="-4.01" y2="-4.40" stroke="#111" stroke-width="2.2" /><line x1="-8.37" y1="-8.13" x2="-2.37" y2="-8.13" stroke="#111" stroke-width="2.2" /><line x1="-5.90" y1="-10.62" x2="0.10" y2="-10.62" stroke="#111" stroke-width="2.2" /><line x1="-3.00" y1="-11.50" x2="3.00" y2="-11.50" stroke="#111" stroke-width="2.2" /><line x1="-0.10" y1="-10.62" x2="5.90" y2="-10.62" stroke="#111" stroke-width="2.2" /><line x1="2.37" y1="-8.13" x2="8.37" y2="-8.13" stroke="#111" stroke-width="2.2" /><line x1="4.01" y1="-4.40" x2="10.01" y2="-4.40" stroke="#111" stroke-width="2.2" /><ellipse cx="3.00" cy="0.00" rx="6.60" ry="10.00" fill="#fff" stroke="#111" stroke-width="0.8" /></g>
<g transform="translate(403.60,177.00) rotate(-20)"><path d="M-6,1 q-0.5,-3.5 3,-3.5 q2,-1 4,-0.5 q3,-1 5,0 q1.5,1.5 0,3 q-3,2.5 -6,2 q-4,1.5 -6,-1z" fill="#fff" stroke="#111" stroke-width="1.8" /><circle cx="-3.2" cy="0.3" r="1.3" fill="#fff" stroke="#111" stroke-width="1"/><line x1="0.00" y1="1.00" x2="4.00" y2="-1.50" stroke="#111" stroke-width="1.6" /></g>
<g transform="translate(405.00,168.00) rotate(-15)"><path d="M13.62,-9.16 L14.12,-7.46 L14.51,-5.70 L14.80,-3.90 L14.98,-2.08 L15.05,-0.23 L15.01,1.61 L14.86,3.44 L14.59,5.25 L14.23,7.02 L13.75,8.73 L13.18,10.39 L12.51,11.96 L11.74,13.45 L10.89,14.84 L9.96,16.12 L8.96,17.28 L7.89,18.31 L6.76,19.21 L5.58,19.97 L4.36,20.58 L3.11,21.04 L1.84,21.34 L0.55,21.49 L-0.74,21.47 L-2.03,21.30 L-3.30,20.98 L-4.54,20.50 L-5.76,19.86 L-6.93,19.09 L-8.05,18.17 L-9.11,17.12 L-10.10,15.94 L-11.02,14.64 L-11.86,13.24 L-12.61,11.74 L-13.27,10.15 L-13.83,8.49 L-14.29,6.76 L-14.64,4.99 L-14.88,3.18 L-15.02,1.34 L-15.05,-0.50 L-14.96,-2.34 L-14.76,-4.17 L-14.46,-5.96 L-14.05,-7.71 L-13.53,-9.40 L-12.92,-11.02 L-12.21,-12.57 L-11.41,-14.02 L-10.53,-15.36 L-9.57,-16.59 L-8.54,-17.71 L-7.44,-18.69 L-6.30,-19.53 L-5.10,-20.23 L-3.87,-20.78 L-2.61,-21.18 L-1.33,-21.42 L-0.04,-21.50" fill="none" stroke="#111" stroke-width="1.4" /><path d="M12.48,-8.39 L12.93,-6.87 L13.28,-5.29 L13.55,-3.68 L13.72,-2.05 L13.79,-0.39 L13.76,1.26 L13.64,2.90 L13.42,4.53 L13.11,6.12 L12.70,7.67 L12.21,9.17 L11.62,10.60 L10.96,11.95 L10.22,13.23 L9.41,14.40 L8.53,15.48 L7.59,16.45 L6.60,17.30 L5.56,18.03 L4.48,18.63 L3.37,19.10 L2.24,19.44 L1.09,19.64 L-0.07,19.70 L-1.23,19.62 L-2.38,19.41 L-3.51,19.05 L-4.61,18.56 L-5.69,17.95 L-6.72,17.20 L-7.71,16.33 L-8.64,15.35 L-9.51,14.26 L-10.32,13.07 L-11.05,11.79 L-11.70,10.42 L-12.27,8.98 L-12.76,7.48 L-13.15,5.93 L-13.45,4.33 L-13.66,2.70 L-13.77,1.06 L-13.78,-0.60 L-13.70,-2.25 L-13.52,-3.88 L-13.24,-5.49 L-12.87,-7.06 L-12.41,-8.58 L-11.87,-10.03 L-11.24,-11.42 L-10.53,-12.73 L-9.74,-13.94 L-8.89,-15.06 L-7.97,-16.07 L-7.00,-16.97 L-5.98,-17.75 L-4.91,-18.41 L-3.82,-18.93 L-2.69,-19.32 L-1.55,-19.58" fill="none" stroke="#111" stroke-width="0.8" /><path d="M-1,-21.5 L7.5,-20.6 Q9,-19 7,-18.4 L0,-19.6" fill="#fff" stroke="#111" stroke-width="1.2" /></g>
<g transform="translate(372.00,178.00) rotate(-15)"><ellipse cx="6.00" cy="0.00" rx="15.40" ry="22.00" fill="#fff" stroke="#111" stroke-width="1.1" /><rect x="0" y="-22" width="6" height="44" fill="#fff"/><line x1="0.00" y1="-22.00" x2="6.00" y2="-22.00" stroke="#111" stroke-width="1.1" /><line x1="0.00" y1="22.00" x2="6.00" y2="22.00" stroke="#111" stroke-width="1.1" /><path d="M16.80,0.00 L16.76,1.71 L16.76,1.71 L16.63,3.42 L13.86,2.85 L13.68,4.25 L13.68,4.25 L13.43,5.63 L16.12,6.76 L15.74,8.39 L15.74,8.39 L15.28,9.97 L12.73,8.31 L12.29,9.58 L12.29,9.58 L11.78,10.81 L14.13,12.98 L13.45,14.38 L13.45,14.38 L12.70,15.72 L10.58,13.10 L9.90,14.14 L9.90,14.14 L9.17,15.11 L11.00,18.14 L10.07,19.21 L10.07,19.21 L9.08,20.19 L7.57,16.83 L6.71,17.55 L6.71,17.55 L5.82,18.19 L6.98,21.83 L5.87,22.49 L5.87,22.49 L4.73,23.03 L3.94,19.19 L2.98,19.54 L2.98,19.54 L1.99,19.80 L2.39,23.76 L1.20,23.94 L1.20,23.94 L0.00,24.00 L0.00,20.00 L-1.00,19.95 L-1.00,19.95 L-1.99,19.80 L-2.39,23.76 L-3.57,23.45 L-3.57,23.45 L-4.73,23.03 L-3.94,19.19 L-4.89,18.74 L-4.89,18.74 L-5.82,18.19 L-6.98,21.83 L-8.05,21.06 L-8.05,21.06 L-9.08,20.19 L-7.57,16.83 L-8.39,16.01 L-8.39,16.01 L-9.17,15.11 L-11.00,18.14 L-11.88,16.97 L-11.88,16.97 L-12.70,15.72 L-10.58,13.10 L-11.21,11.99 L-11.21,11.99 L-11.78,10.81 L-14.13,12.98 L-14.75,11.50 L-14.75,11.50 L-15.28,9.97 L-12.73,8.31 L-13.12,6.99 L-13.12,6.99 L-13.43,5.63 L-16.12,6.76 L-16.42,5.10 L-16.42,5.10 L-16.63,3.42 L-13.86,2.85 L-13.96,1.43 L-13.96,1.43 L-14.00,0.00 L-16.80,0.00 L-16.76,-1.71 L-16.76,-1.71 L-16.63,-3.42 L-13.86,-2.85 L-13.68,-4.25 L-13.68,-4.25 L-13.43,-5.63 L-16.12,-6.76 L-15.74,-8.39 L-15.74,-8.39 L-15.28,-9.97 L-12.73,-8.31 L-12.29,-9.58 L-12.29,-9.58 L-11.78,-10.81 L-14.13,-12.98 L-13.45,-14.38 L-13.45,-14.38 L-12.70,-15.72 L-10.58,-13.10 L-9.90,-14.14 L-9.90,-14.14 L-9.17,-15.11 L-11.00,-18.14 L-10.07,-19.21 L-10.07,-19.21 L-9.08,-20.19 L-7.57,-16.83 L-6.71,-17.55 L-6.71,-17.55 L-5.82,-18.19 L-6.98,-21.83 L-5.87,-22.49 L-5.87,-22.49 L-4.73,-23.03 L-3.94,-19.19 L-2.98,-19.54 L-2.98,-19.54 L-1.99,-19.80 L-2.39,-23.76 L-1.20,-23.94 L-1.20,-23.94 L-0.00,-24.00 L-0.00,-20.00 L1.00,-19.95 L1.00,-19.95 L1.99,-19.80 L2.39,-23.76 L3.57,-23.45 L3.57,-23.45 L4.73,-23.03 L3.94,-19.19 L4.89,-18.74 L4.89,-18.74 L5.82,-18.19 L6.98,-21.83 L8.05,-21.06 L8.05,-21.06 L9.08,-20.19 L7.57,-16.83 L8.39,-16.01 L8.39,-16.01 L9.17,-15.11 L11.00,-18.14 L11.88,-16.97 L11.88,-16.97 L12.70,-15.72 L10.58,-13.10 L11.21,-11.99 L11.21,-11.99 L11.78,-10.81 L14.13,-12.98 L14.75,-11.50 L14.75,-11.50 L15.28,-9.97 L12.73,-8.31 L13.12,-6.99 L13.12,-6.99 L13.43,-5.63 L16.12,-6.76 L16.42,-5.10 L16.42,-5.10 L16.63,-3.42 L13.86,-2.85 L13.96,-1.43 L13.96,-1.43 L14.00,-0.00Z" fill="#fff" stroke="#111" stroke-width="1.25" /><ellipse cx="0.00" cy="0.00" rx="13.65" ry="19.50" fill="#fff" stroke="#111" stroke-width="0.8" /><ellipse cx="1.50" cy="0.00" rx="13.65" ry="19.50" fill="#fff" stroke="#111" stroke-width="1.8" /></g>
<g transform="translate(330.50,188.70) rotate(-15)"><path d="M30.12,0.00 L30.07,1.98 L30.07,1.98 L29.91,3.95 L27.30,3.26 L27.09,4.86 L27.09,4.86 L26.80,6.43 L29.30,7.79 L28.85,9.64 L28.85,9.64 L28.30,11.42 L25.97,9.42 L25.44,10.83 L25.44,10.83 L24.84,12.16 L26.93,14.74 L26.12,16.25 L26.12,16.25 L25.24,17.66 L23.45,14.57 L22.66,15.62 L22.66,15.62 L21.82,16.58 L23.27,20.09 L22.20,21.11 L22.20,21.11 L21.07,21.98 L20.01,18.13 L19.05,18.73 L19.05,18.73 L18.06,19.19 L18.71,23.27 L17.49,23.67 L17.49,23.67 L16.25,23.92 L16.03,19.73 L15.00,19.80 L15.00,19.80 L13.97,19.73 L13.75,23.92 L12.51,23.67 L12.51,23.67 L11.29,23.27 L11.94,19.19 L10.95,18.73 L10.95,18.73 L9.99,18.13 L8.93,21.98 L7.80,21.11 L7.80,21.11 L6.73,20.09 L8.18,16.58 L7.34,15.62 L7.34,15.62 L6.55,14.57 L4.76,17.66 L3.88,16.25 L3.88,16.25 L3.07,14.74 L5.16,12.16 L4.56,10.83 L4.56,10.83 L4.03,9.42 L1.70,11.42 L1.15,9.64 L1.15,9.64 L0.70,7.79 L3.20,6.43 L2.91,4.86 L2.91,4.86 L2.70,3.26 L0.09,3.95 L-0.07,1.98 L-0.07,1.98 L-0.12,0.00 L2.53,0.00 L2.57,-1.64 L2.57,-1.64 L2.70,-3.26 L0.09,-3.95 L0.34,-5.89 L0.34,-5.89 L0.70,-7.79 L3.20,-6.43 L3.58,-7.95 L3.58,-7.95 L4.03,-9.42 L1.70,-11.42 L2.34,-13.13 L2.34,-13.13 L3.07,-14.74 L5.16,-12.16 L5.82,-13.41 L5.82,-13.41 L6.55,-14.57 L4.76,-17.66 L5.71,-18.94 L5.71,-18.94 L6.73,-20.09 L8.18,-16.58 L9.06,-17.41 L9.06,-17.41 L9.99,-18.13 L8.93,-21.98 L10.09,-22.70 L10.09,-22.70 L11.29,-23.27 L11.94,-19.19 L12.95,-19.53 L12.95,-19.53 L13.97,-19.73 L13.75,-23.92 L15.00,-24.00 L15.00,-24.00 L16.25,-23.92 L16.03,-19.73 L17.05,-19.53 L17.05,-19.53 L18.06,-19.19 L18.71,-23.27 L19.91,-22.70 L19.91,-22.70 L21.07,-21.98 L20.01,-18.13 L20.94,-17.41 L20.94,-17.41 L21.82,-16.58 L23.27,-20.09 L24.29,-18.94 L24.29,-18.94 L25.24,-17.66 L23.45,-14.57 L24.18,-13.41 L24.18,-13.41 L24.84,-12.16 L26.93,-14.74 L27.66,-13.13 L27.66,-13.13 L28.30,-11.42 L25.97,-9.42 L26.42,-7.95 L26.42,-7.95 L26.80,-6.43 L29.30,-7.79 L29.66,-5.89 L29.66,-5.89 L29.91,-3.95 L27.30,-3.26 L27.43,-1.64 L27.43,-1.64 L27.47,-0.00Z" fill="#fff" stroke="#111" stroke-width="1.1" /><rect x="0" y="-24" width="15" height="48" fill="#fff"/><line x1="12.09" y1="4.86" x2="27.09" y2="4.86" stroke="#222" stroke-width="1.3" /><line x1="10.44" y1="10.83" x2="25.44" y2="10.83" stroke="#222" stroke-width="1.3" /><line x1="7.66" y1="15.62" x2="22.66" y2="15.62" stroke="#222" stroke-width="1.3" /><line x1="4.05" y1="18.73" x2="19.05" y2="18.73" stroke="#222" stroke-width="1.3" /><line x1="0.00" y1="19.80" x2="15.00" y2="19.80" stroke="#222" stroke-width="1.3" /><line x1="-2.05" y1="-19.53" x2="12.95" y2="-19.53" stroke="#222" stroke-width="1.3" /><line x1="2.05" y1="-19.53" x2="17.05" y2="-19.53" stroke="#222" stroke-width="1.3" /><line x1="5.94" y1="-17.41" x2="20.94" y2="-17.41" stroke="#222" stroke-width="1.3" /><line x1="9.18" y1="-13.41" x2="24.18" y2="-13.41" stroke="#222" stroke-width="1.3" /><line x1="11.42" y1="-7.95" x2="26.42" y2="-7.95" stroke="#222" stroke-width="1.3" /><line x1="12.43" y1="-1.64" x2="27.43" y2="-1.64" stroke="#222" stroke-width="1.3" /><path d="M-0.95,23.95 L14.05,23.95 L11.00,23.14 L-4.00,23.14Z" fill="#fff" stroke="#111" stroke-width="1.15" /><path d="M-1.55,-23.87 L13.45,-23.87 L16.55,-23.87 L1.55,-23.87Z" fill="#fff" stroke="#111" stroke-width="1.15" /><path d="M4.00,23.14 L19.00,23.14 L15.95,23.95 L0.95,23.95Z" fill="#fff" stroke="#111" stroke-width="1.15" /><path d="M3.42,-23.38 L18.42,-23.38 L21.35,-21.78 L6.35,-21.78Z" fill="#fff" stroke="#111" stroke-width="1.15" /><path d="M8.52,19.83 L23.52,19.83 L20.80,22.17 L5.80,22.17Z" fill="#fff" stroke="#111" stroke-width="1.15" /><line x1="8.70" y1="21.11" x2="20.70" y2="21.11" stroke="#b4b4b4" stroke-width="0.7013720366559807" /><path d="M8.02,-20.35 L23.02,-20.35 L25.46,-17.33 L10.46,-17.33Z" fill="#fff" stroke="#111" stroke-width="1.15" /><line x1="10.79" y1="-18.94" x2="22.79" y2="-18.94" stroke="#b4b4b4" stroke-width="0.9051244476626246" /><path d="M12.11,14.36 L27.11,14.36 L25.02,17.98 L10.02,17.98Z" fill="#fff" stroke="#111" stroke-width="1.15" /><line x1="12.62" y1="16.25" x2="24.62" y2="16.25" stroke="#b4b4b4" stroke-width="1.0841874232203708" /><path d="M11.75,-15.11 L26.75,-15.11 L28.44,-11.00 L13.44,-11.00Z" fill="#fff" stroke="#111" stroke-width="1.15" /><line x1="14.16" y1="-13.13" x2="26.16" y2="-13.13" stroke="#b4b4b4" stroke-width="1.2336765921383412" /><path d="M14.40,7.34 L29.40,7.34 L28.15,11.84 L13.15,11.84Z" fill="#fff" stroke="#111" stroke-width="1.15" /><line x1="15.35" y1="9.64" x2="27.35" y2="9.64" stroke="#b4b4b4" stroke-width="1.3495142795776376" /><path d="M14.20,-8.24 L29.20,-8.24 L29.96,-3.48 L14.96,-3.48Z" fill="#fff" stroke="#111" stroke-width="1.15" /><line x1="16.16" y1="-5.89" x2="28.16" y2="-5.89" stroke="#b4b4b4" stroke-width="1.4285407353912254" /><path d="M15.12,-0.48 L30.12,-0.48 L29.86,4.42 L14.86,4.42Z" fill="#fff" stroke="#111" stroke-width="1.15" /><line x1="16.57" y1="1.98" x2="28.57" y2="1.98" stroke="#b4b4b4" stroke-width="1.4686003238711098" /><line x1="0.00" y1="-24.00" x2="15.00" y2="-24.00" stroke="#111" stroke-width="1.1" /><line x1="0.00" y1="24.00" x2="15.00" y2="24.00" stroke="#111" stroke-width="1.1" /><path d="M15.12,0.00 L15.07,1.98 L15.07,1.98 L14.91,3.95 L12.30,3.26 L12.09,4.86 L12.09,4.86 L11.80,6.43 L14.30,7.79 L13.85,9.64 L13.85,9.64 L13.30,11.42 L10.97,9.42 L10.44,10.83 L10.44,10.83 L9.84,12.16 L11.93,14.74 L11.12,16.25 L11.12,16.25 L10.24,17.66 L8.45,14.57 L7.66,15.62 L7.66,15.62 L6.82,16.58 L8.27,20.09 L7.20,21.11 L7.20,21.11 L6.07,21.98 L5.01,18.13 L4.05,18.73 L4.05,18.73 L3.06,19.19 L3.71,23.27 L2.49,23.67 L2.49,23.67 L1.25,23.92 L1.03,19.73 L0.00,19.80 L0.00,19.80 L-1.03,19.73 L-1.25,23.92 L-2.49,23.67 L-2.49,23.67 L-3.71,23.27 L-3.06,19.19 L-4.05,18.73 L-4.05,18.73 L-5.01,18.13 L-6.07,21.98 L-7.20,21.11 L-7.20,21.11 L-8.27,20.09 L-6.82,16.58 L-7.66,15.62 L-7.66,15.62 L-8.45,14.57 L-10.24,17.66 L-11.12,16.25 L-11.12,16.25 L-11.93,14.74 L-9.84,12.16 L-10.44,10.83 L-10.44,10.83 L-10.97,9.42 L-13.30,11.42 L-13.85,9.64 L-13.85,9.64 L-14.30,7.79 L-11.80,6.43 L-12.09,4.86 L-12.09,4.86 L-12.30,3.26 L-14.91,3.95 L-15.07,1.98 L-15.07,1.98 L-15.12,0.00 L-12.47,0.00 L-12.43,-1.64 L-12.43,-1.64 L-12.30,-3.26 L-14.91,-3.95 L-14.66,-5.89 L-14.66,-5.89 L-14.30,-7.79 L-11.80,-6.43 L-11.42,-7.95 L-11.42,-7.95 L-10.97,-9.42 L-13.30,-11.42 L-12.66,-13.13 L-12.66,-13.13 L-11.93,-14.74 L-9.84,-12.16 L-9.18,-13.41 L-9.18,-13.41 L-8.45,-14.57 L-10.24,-17.66 L-9.29,-18.94 L-9.29,-18.94 L-8.27,-20.09 L-6.82,-16.58 L-5.94,-17.41 L-5.94,-17.41 L-5.01,-18.13 L-6.07,-21.98 L-4.91,-22.70 L-4.91,-22.70 L-3.71,-23.27 L-3.06,-19.19 L-2.05,-19.53 L-2.05,-19.53 L-1.03,-19.73 L-1.25,-23.92 L-0.00,-24.00 L-0.00,-24.00 L1.25,-23.92 L1.03,-19.73 L2.05,-19.53 L2.05,-19.53 L3.06,-19.19 L3.71,-23.27 L4.91,-22.70 L4.91,-22.70 L6.07,-21.98 L5.01,-18.13 L5.94,-17.41 L5.94,-17.41 L6.82,-16.58 L8.27,-20.09 L9.29,-18.94 L9.29,-18.94 L10.24,-17.66 L8.45,-14.57 L9.18,-13.41 L9.18,-13.41 L9.84,-12.16 L11.93,-14.74 L12.66,-13.13 L12.66,-13.13 L13.30,-11.42 L10.97,-9.42 L11.42,-7.95 L11.42,-7.95 L11.80,-6.43 L14.30,-7.79 L14.66,-5.89 L14.66,-5.89 L14.91,-3.95 L12.30,-3.26 L12.43,-1.64 L12.43,-1.64 L12.47,-0.00Z" fill="#fff" stroke="#111" stroke-width="1.1" /><ellipse cx="0.00" cy="0.00" rx="11.65" ry="18.50" fill="#fff" stroke="#111" stroke-width="1.3" /><ellipse cx="0.00" cy="0.00" rx="10.08" ry="16.00" fill="#fff" stroke="#111" stroke-width="0.8" /><path d="M-8,-12 Q0,-17 8,-10 Q2,-13 -8,-12Z" fill="#222" stroke="#111" stroke-width="0.6" /></g>
<g transform="translate(301.20,196.90) rotate(-15)"><ellipse cx="6.00" cy="0.00" rx="9.48" ry="15.80" fill="#fff" stroke="#111" stroke-width="1.2" /><rect x="0" y="-15.8" width="6" height="31.6" fill="#fff"/><line x1="0.00" y1="-15.80" x2="6.00" y2="-15.80" stroke="#111" stroke-width="1.2" /><line x1="0.00" y1="15.80" x2="6.00" y2="15.80" stroke="#111" stroke-width="1.2" /><ellipse cx="0.00" cy="0.00" rx="9.48" ry="15.80" fill="#fff" stroke="#111" stroke-width="1.3" /><ellipse cx="0.00" cy="0.00" rx="6.60" ry="11.00" fill="#fff" stroke="#111" stroke-width="1.3" /><ellipse cx="0.00" cy="0.00" rx="8.06" ry="13.43" fill="none" stroke="#111" stroke-width="0.6" /></g>
<g transform="translate(271.00,204.80) rotate(-15)"><ellipse cx="10.00" cy="0.00" rx="14.69" ry="21.60" fill="#fff" stroke="#111" stroke-width="1.2" /><rect x="0" y="-21.6" width="10" height="43.2" fill="#fff"/><line x1="0.00" y1="-21.60" x2="10.00" y2="-21.60" stroke="#111" stroke-width="1.2" /><line x1="0.00" y1="21.60" x2="10.00" y2="21.60" stroke="#111" stroke-width="1.2" /><ellipse cx="0.00" cy="0.00" rx="14.69" ry="21.60" fill="#fff" stroke="#111" stroke-width="1.3" /><ellipse cx="0.00" cy="0.00" rx="12.99" ry="19.10" fill="#fff" stroke="#111" stroke-width="0.8" /><ellipse cx="0.00" cy="0.00" rx="11.90" ry="17.50" fill="none" stroke="#333" stroke-width="3.2" stroke-dasharray="3.5 3"/><ellipse cx="0.00" cy="0.00" rx="11.90" ry="17.50" fill="none" stroke="#fff" stroke-width="1.4" stroke-dasharray="2 4.5"/><ellipse cx="0.00" cy="0.00" rx="9.52" ry="14.00" fill="#fff" stroke="#111" stroke-width="1.5" /><ellipse cx="0.00" cy="0.00" rx="8.16" ry="12.00" fill="#fff" stroke="#111" stroke-width="0.8" /><path d="M-7,0 C-7,-8 -1,-12 4,-10 C7,-8.5 7.5,-3 6,4 C4.5,-3 1,-8 -3,-7 C-5,-6 -6.5,-3 -7,0 Z" fill="#111" stroke="#111" stroke-width="0.5" /></g>
<g transform="translate(247.00,212.00) rotate(-15)"><ellipse cx="4.00" cy="0.00" rx="10.56" ry="16.00" fill="#fff" stroke="#111" stroke-width="1.2" /><rect x="0" y="-16" width="4" height="32" fill="#fff"/><line x1="0.00" y1="-16.00" x2="4.00" y2="-16.00" stroke="#111" stroke-width="1.2" /><line x1="0.00" y1="16.00" x2="4.00" y2="16.00" stroke="#111" stroke-width="1.2" /><ellipse cx="0.00" cy="0.00" rx="10.56" ry="16.00" fill="#fff" stroke="#111" stroke-width="1.3" /><ellipse cx="-0.50" cy="0.00" rx="9.24" ry="14.00" fill="none" stroke="#888" stroke-width="0.6" /><ellipse cx="-3.50" cy="1.00" rx="6.00" ry="10.00" fill="#fff" stroke="#111" stroke-width="1.3" /><ellipse cx="-2.50" cy="1.00" rx="4.98" ry="8.30" fill="#e4e4e4" stroke="#111" stroke-width="0.9" /><path d="M-6.97,-3.67 L-6.63,-4.63 L-6.23,-5.50 L-5.76,-6.28 L-5.23,-6.95 L-4.65,-7.49 L-4.03,-7.90 L-3.39,-8.17 L-2.73,-8.29 L-2.06,-8.27 L-1.41,-8.10 L-0.77,-7.78 L-0.17,-7.33" fill="none" stroke="#111" stroke-width="2.0" /><line x1="-6.00" y1="1.00" x2="-1.00" y2="1.00" stroke="#444" stroke-width="1.0" /><path d="M-1,-16.5 a2,2 0 0 0 4,0" fill="#fff" stroke="#111" stroke-width="1.0" /><path d="M10.5,1 a2,2 0 0 0 0,4" fill="#fff" stroke="#111" stroke-width="1.0" /></g>
<g transform="translate(292.00,302.50) rotate(-15)"><ellipse cx="10.00" cy="0.00" rx="9.75" ry="15.00" fill="#222" stroke="#111" stroke-width="1.3" /><rect x="0" y="-15" width="10" height="30" fill="#222"/><path d="M-1.55,-14.12 L6.85,-14.12 L8.51,-14.51 L0.11,-14.51Z" fill="#fff" stroke="#111" stroke-width="0.8" /><path d="M0.11,14.51 L8.51,14.51 L6.85,14.12 L-1.55,14.12Z" fill="#fff" stroke="#111" stroke-width="0.8" /><path d="M1.49,-14.51 L9.89,-14.51 L11.55,-14.12 L3.15,-14.12Z" fill="#fff" stroke="#111" stroke-width="0.8" /><path d="M3.15,14.12 L11.55,14.12 L9.89,14.51 L1.49,14.51Z" fill="#fff" stroke="#111" stroke-width="0.8" /><path d="M4.46,-13.49 L12.86,-13.49 L14.36,-12.35 L5.96,-12.35Z" fill="#fff" stroke="#111" stroke-width="0.8" /><path d="M5.96,12.35 L14.36,12.35 L12.86,13.49 L4.46,13.49Z" fill="#fff" stroke="#111" stroke-width="0.8" /><path d="M7.07,-11.14 L15.47,-11.14 L16.66,-9.36 L8.26,-9.36Z" fill="#fff" stroke="#111" stroke-width="0.8" /><path d="M8.26,9.36 L16.66,9.36 L15.47,11.14 L7.07,11.14Z" fill="#fff" stroke="#111" stroke-width="0.8" /><path d="M9.07,-7.70 L17.47,-7.70 L18.24,-5.46 L9.84,-5.46Z" fill="#fff" stroke="#111" stroke-width="0.8" /><path d="M9.84,5.46 L18.24,5.46 L17.47,7.70 L9.07,7.70Z" fill="#fff" stroke="#111" stroke-width="0.8" /><path d="M10.26,-3.51 L18.66,-3.51 L18.93,-1.03 L10.53,-1.03Z" fill="#fff" stroke="#111" stroke-width="0.8" /><path d="M10.53,1.03 L18.93,1.03 L18.66,3.51 L10.26,3.51Z" fill="#fff" stroke="#111" stroke-width="0.8" /><line x1="0.00" y1="-15.00" x2="10.00" y2="-15.00" stroke="#111" stroke-width="1.3" /><line x1="0.00" y1="15.00" x2="10.00" y2="15.00" stroke="#111" stroke-width="1.3" /><ellipse cx="0.00" cy="0.00" rx="9.75" ry="15.00" fill="#fff" stroke="#111" stroke-width="1.3" /><ellipse cx="0.00" cy="0.00" rx="8.12" ry="12.50" fill="#fff" stroke="#111" stroke-width="1.3" /><path d="M-0.48,11.98 L7.06,10.78 L5.75,10.46 L-1.95,11.62Z" fill="#fff" stroke="#111" stroke-width="0.8" /><path d="M-2.87,11.16 L4.92,10.04 L3.73,9.11 L-4.18,10.13Z" fill="#fff" stroke="#111" stroke-width="0.8" /><path d="M-4.97,9.25 L3.03,8.33 L2.09,6.88 L-6.01,7.64Z" fill="#fff" stroke="#111" stroke-width="0.8" /><path d="M-6.58,6.44 L1.58,5.79 L0.97,3.97 L-7.25,4.41Z" fill="#fff" stroke="#111" stroke-width="0.8" /><path d="M-7.55,2.99 L0.70,2.69 L0.49,0.67 L-7.78,0.74Z" fill="#fff" stroke="#111" stroke-width="0.8" /><path d="M-7.78,-0.74 L0.49,-0.67 L0.70,-2.69 L-7.55,-2.99Z" fill="#fff" stroke="#111" stroke-width="0.8" /><path d="M-7.25,-4.41 L0.97,-3.97 L1.58,-5.79 L-6.58,-6.44Z" fill="#fff" stroke="#111" stroke-width="0.8" /><path d="M-6.01,-7.64 L2.09,-6.88 L3.03,-8.33 L-4.97,-9.25Z" fill="#fff" stroke="#111" stroke-width="0.8" /><path d="M-4.18,-10.13 L3.73,-9.11 L4.92,-10.04 L-2.87,-11.16Z" fill="#fff" stroke="#111" stroke-width="0.8" /><path d="M-1.95,-11.62 L5.75,-10.46 L7.06,-10.78 L-0.48,-11.98Z" fill="#fff" stroke="#111" stroke-width="0.8" /><path d="M6.25,-10.63 L7.47,-10.80 L8.69,-10.64 L9.88,-10.16 L10.99,-9.37 L12.00,-8.29 L12.87,-6.96 L13.57,-5.41 L14.09,-3.70 L14.41,-1.88 L14.52,0.00 L14.41,1.88 L14.09,3.70 L13.57,5.41 L12.87,6.96 L12.00,8.29 L10.99,9.37 L9.88,10.16 L8.69,10.64 L7.47,10.80 L6.25,10.63" fill="none" stroke="#111" stroke-width="0.9" /></g>
<g transform="translate(312.00,299.00) rotate(-15)"><ellipse cx="24.00" cy="0.00" rx="7.01" ry="12.30" fill="#fff" stroke="#111" stroke-width="1.2" /><rect x="0" y="-12.3" width="24" height="24.6" fill="#fff"/><line x1="0.00" y1="-12.30" x2="24.00" y2="-12.30" stroke="#111" stroke-width="1.2" /><line x1="0.00" y1="12.30" x2="24.00" y2="12.30" stroke="#111" stroke-width="1.2" /><ellipse cx="0.00" cy="0.00" rx="7.01" ry="12.30" fill="#fff" stroke="#111" stroke-width="1.3" /><ellipse cx="0.00" cy="0.00" rx="5.76" ry="10.10" fill="#fff" stroke="#111" stroke-width="1.0" /><path d="M-3,-8 Q3,-3 2,9 Q5,0 -3,-8Z" fill="#222" stroke="#111" stroke-width="0.6" /></g>
<g transform="translate(337.30,291.10) rotate(-15)"><ellipse cx="8.00" cy="0.00" rx="9.30" ry="15.50" fill="#222" stroke="#111" stroke-width="1.3" /><rect x="0" y="-15.5" width="8" height="31.0" fill="#222"/><path d="M-1.44,-14.59 L4.96,-14.59 L6.54,-15.00 L0.14,-15.00Z" fill="#fff" stroke="#111" stroke-width="0.8" /><path d="M0.14,15.00 L6.54,15.00 L4.96,14.59 L-1.44,14.59Z" fill="#fff" stroke="#111" stroke-width="0.8" /><path d="M1.46,-15.00 L7.86,-15.00 L9.44,-14.59 L3.04,-14.59Z" fill="#fff" stroke="#111" stroke-width="0.8" /><path d="M3.04,14.59 L9.44,14.59 L7.86,15.00 L1.46,15.00Z" fill="#fff" stroke="#111" stroke-width="0.8" /><path d="M4.29,-13.94 L10.69,-13.94 L12.12,-12.76 L5.72,-12.76Z" fill="#fff" stroke="#111" stroke-width="0.8" /><path d="M5.72,12.76 L12.12,12.76 L10.69,13.94 L4.29,13.94Z" fill="#fff" stroke="#111" stroke-width="0.8" /><path d="M6.78,-11.51 L13.18,-11.51 L14.32,-9.67 L7.92,-9.67Z" fill="#fff" stroke="#111" stroke-width="0.8" /><path d="M7.92,9.67 L14.32,9.67 L13.18,11.51 L6.78,11.51Z" fill="#fff" stroke="#111" stroke-width="0.8" /><path d="M8.69,-7.96 L15.09,-7.96 L15.82,-5.64 L9.42,-5.64Z" fill="#fff" stroke="#111" stroke-width="0.8" /><path d="M9.42,5.64 L15.82,5.64 L15.09,7.96 L8.69,7.96Z" fill="#fff" stroke="#111" stroke-width="0.8" /><path d="M9.83,-3.62 L16.23,-3.62 L16.48,-1.06 L10.08,-1.06Z" fill="#fff" stroke="#111" stroke-width="0.8" /><path d="M10.08,1.06 L16.48,1.06 L16.23,3.62 L9.83,3.62Z" fill="#fff" stroke="#111" stroke-width="0.8" /><line x1="0.00" y1="-15.50" x2="8.00" y2="-15.50" stroke="#111" stroke-width="1.3" /><line x1="0.00" y1="15.50" x2="8.00" y2="15.50" stroke="#111" stroke-width="1.3" /><ellipse cx="0.00" cy="0.00" rx="9.30" ry="15.50" fill="#fff" stroke="#111" stroke-width="1.3" /><ellipse cx="0.00" cy="0.00" rx="7.50" ry="12.50" fill="#fff" stroke="#111" stroke-width="1.3" /><path d="M-4,-9 Q3,-2 1,11 Q6,0 -4,-9Z" fill="#222" stroke="#111" stroke-width="0.6" /></g>
<line x1="299.00" y1="319.30" x2="351.40" y2="305.20" stroke="#111" stroke-width="1.3" />
<line x1="325.20" y1="312.20" x2="366.00" y2="327.00" stroke="#111" stroke-width="3" />
<g transform="translate(378.00,281.00) rotate(-15)"><ellipse cx="19.00" cy="0.00" rx="9.61" ry="15.50" fill="#222" stroke="#111" stroke-width="1.3" /><rect x="0" y="-15.5" width="19" height="31.0" fill="#222"/><path d="M-1.52,-14.59 L6.38,-14.59 L8.02,-15.00 L0.12,-15.00Z" fill="#fff" stroke="#111" stroke-width="0.8" /><path d="M7.98,-14.59 L15.88,-14.59 L17.52,-15.00 L9.62,-15.00Z" fill="#fff" stroke="#111" stroke-width="0.8" /><path d="M0.12,15.00 L8.02,15.00 L6.38,14.59 L-1.52,14.59Z" fill="#fff" stroke="#111" stroke-width="0.8" /><path d="M9.62,15.00 L17.52,15.00 L15.88,14.59 L7.98,14.59Z" fill="#fff" stroke="#111" stroke-width="0.8" /><path d="M1.48,-15.00 L9.38,-15.00 L11.02,-14.59 L3.12,-14.59Z" fill="#fff" stroke="#111" stroke-width="0.8" /><path d="M10.98,-15.00 L18.88,-15.00 L20.52,-14.59 L12.62,-14.59Z" fill="#fff" stroke="#111" stroke-width="0.8" /><path d="M3.12,14.59 L11.02,14.59 L9.38,15.00 L1.48,15.00Z" fill="#fff" stroke="#111" stroke-width="0.8" /><path d="M12.62,14.59 L20.52,14.59 L18.88,15.00 L10.98,15.00Z" fill="#fff" stroke="#111" stroke-width="0.8" /><path d="M4.41,-13.94 L12.31,-13.94 L13.79,-12.76 L5.89,-12.76Z" fill="#fff" stroke="#111" stroke-width="0.8" /><path d="M13.91,-13.94 L21.81,-13.94 L23.29,-12.76 L15.39,-12.76Z" fill="#fff" stroke="#111" stroke-width="0.8" /><path d="M5.89,12.76 L13.79,12.76 L12.31,13.94 L4.41,13.94Z" fill="#fff" stroke="#111" stroke-width="0.8" /><path d="M15.39,12.76 L23.29,12.76 L21.81,13.94 L13.91,13.94Z" fill="#fff" stroke="#111" stroke-width="0.8" /><path d="M6.98,-11.51 L14.88,-11.51 L16.06,-9.67 L8.16,-9.67Z" fill="#fff" stroke="#111" stroke-width="0.8" /><path d="M16.48,-11.51 L24.38,-11.51 L25.56,-9.67 L17.66,-9.67Z" fill="#fff" stroke="#111" stroke-width="0.8" /><path d="M8.16,9.67 L16.06,9.67 L14.88,11.51 L6.98,11.51Z" fill="#fff" stroke="#111" stroke-width="0.8" /><path d="M17.66,9.67 L25.56,9.67 L24.38,11.51 L16.48,11.51Z" fill="#fff" stroke="#111" stroke-width="0.8" /><path d="M8.95,-7.96 L16.85,-7.96 L17.61,-5.64 L9.71,-5.64Z" fill="#fff" stroke="#111" stroke-width="0.8" /><path d="M18.45,-7.96 L26.35,-7.96 L27.11,-5.64 L19.21,-5.64Z" fill="#fff" stroke="#111" stroke-width="0.8" /><path d="M9.71,5.64 L17.61,5.64 L16.85,7.96 L8.95,7.96Z" fill="#fff" stroke="#111" stroke-width="0.8" /><path d="M19.21,5.64 L27.11,5.64 L26.35,7.96 L18.45,7.96Z" fill="#fff" stroke="#111" stroke-width="0.8" /><path d="M10.13,-3.62 L18.03,-3.62 L18.29,-1.06 L10.39,-1.06Z" fill="#fff" stroke="#111" stroke-width="0.8" /><path d="M19.63,-3.62 L27.53,-3.62 L27.79,-1.06 L19.89,-1.06Z" fill="#fff" stroke="#111" stroke-width="0.8" /><path d="M10.39,1.06 L18.29,1.06 L18.03,3.62 L10.13,3.62Z" fill="#fff" stroke="#111" stroke-width="0.8" /><path d="M19.89,1.06 L27.79,1.06 L27.53,3.62 L19.63,3.62Z" fill="#fff" stroke="#111" stroke-width="0.8" /><line x1="0.00" y1="-15.50" x2="19.00" y2="-15.50" stroke="#111" stroke-width="1.3" /><line x1="0.00" y1="15.50" x2="19.00" y2="15.50" stroke="#111" stroke-width="1.3" /><ellipse cx="0.00" cy="0.00" rx="9.61" ry="15.50" fill="#fff" stroke="#111" stroke-width="1.3" /><ellipse cx="0.00" cy="0.00" rx="7.75" ry="12.50" fill="#fff" stroke="#111" stroke-width="1.3" /><path d="M-0.46,11.98 L13.83,10.78 L12.58,10.46 L-1.86,11.62Z" fill="#fff" stroke="#111" stroke-width="0.8" /><path d="M-2.73,11.16 L11.79,10.04 L10.66,9.11 L-3.99,10.13Z" fill="#fff" stroke="#111" stroke-width="0.8" /><path d="M-4.74,9.25 L9.99,8.33 L9.09,6.88 L-5.74,7.64Z" fill="#fff" stroke="#111" stroke-width="0.8" /><path d="M-6.28,6.44 L8.60,5.79 L8.02,3.97 L-6.92,4.41Z" fill="#fff" stroke="#111" stroke-width="0.8" /><path d="M-7.20,2.99 L7.77,2.69 L7.57,0.67 L-7.43,0.74Z" fill="#fff" stroke="#111" stroke-width="0.8" /><path d="M-7.43,-0.74 L7.57,-0.67 L7.77,-2.69 L-7.20,-2.99Z" fill="#fff" stroke="#111" stroke-width="0.8" /><path d="M-6.92,-4.41 L8.02,-3.97 L8.60,-5.79 L-6.28,-6.44Z" fill="#fff" stroke="#111" stroke-width="0.8" /><path d="M-5.74,-7.64 L9.09,-6.88 L9.99,-8.33 L-4.74,-9.25Z" fill="#fff" stroke="#111" stroke-width="0.8" /><path d="M-3.99,-10.13 L10.66,-9.11 L11.79,-10.04 L-2.73,-11.16Z" fill="#fff" stroke="#111" stroke-width="0.8" /><path d="M-1.86,-11.62 L12.58,-10.46 L13.83,-10.78 L-0.46,-11.98Z" fill="#fff" stroke="#111" stroke-width="0.8" /><path d="M13.06,-10.63 L14.22,-10.80 L15.39,-10.64 L16.52,-10.16 L17.58,-9.37 L18.54,-8.29 L19.37,-6.96 L20.04,-5.41 L20.54,-3.70 L20.84,-1.88 L20.95,0.00 L20.84,1.88 L20.54,3.70 L20.04,5.41 L19.37,6.96 L18.54,8.29 L17.58,9.37 L16.52,10.16 L15.39,10.64 L14.22,10.80 L13.06,10.63" fill="none" stroke="#111" stroke-width="0.9" /></g>
<line x1="382.40" y1="296.50" x2="407.30" y2="290.00" stroke="#111" stroke-width="1.3" />
<line x1="397.00" y1="294.60" x2="392.50" y2="316.00" stroke="#111" stroke-width="2.4" />
<g transform="translate(227,372) rotate(-14.3)"><ellipse cx="350.00" cy="0.00" rx="5.70" ry="9.50" fill="#fff" stroke="#111" stroke-width="1.2" /><rect x="322" y="-9.5" width="28" height="19.0" fill="#fff"/><line x1="322.00" y1="-9.50" x2="350.00" y2="-9.50" stroke="#111" stroke-width="1.2" /><line x1="322.00" y1="9.50" x2="350.00" y2="9.50" stroke="#111" stroke-width="1.2" /><ellipse cx="322.00" cy="0.00" rx="5.70" ry="9.50" fill="#fff" stroke="#111" stroke-width="1.2" /><ellipse cx="341.00" cy="0.00" rx="6.30" ry="10.50" fill="#fff" stroke="#111" stroke-width="1.2" /><rect x="336" y="-10.5" width="5" height="21.0" fill="#fff"/><line x1="336.00" y1="-10.50" x2="341.00" y2="-10.50" stroke="#111" stroke-width="1.2" /><line x1="336.00" y1="10.50" x2="341.00" y2="10.50" stroke="#111" stroke-width="1.2" /><ellipse cx="341.00" cy="0.00" rx="6.30" ry="10.50" fill="#fff" stroke="#111" stroke-width="1" /><ellipse cx="336.00" cy="0.00" rx="6.30" ry="10.50" fill="#fff" stroke="#111" stroke-width="2.4" /><ellipse cx="336.00" cy="0.00" rx="5.10" ry="8.50" fill="none" stroke="#777" stroke-width="0.7" /><g transform="translate(307,0)"><path d="M21.70,0.00 L21.63,1.89 L21.63,1.89 L21.40,3.75 L19.55,2.92 L19.26,4.32 L19.26,4.32 L18.87,5.65 L20.53,7.25 L19.90,8.83 L19.90,8.83 L19.15,10.25 L17.79,7.99 L17.13,8.96 L17.13,8.96 L16.39,9.79 L17.35,12.56 L16.33,13.40 L16.33,13.40 L15.25,14.01 L14.75,10.91 L13.88,11.20 L13.88,11.20 L13.00,11.30 L13.00,14.50 L11.86,14.38 L11.86,14.38 L10.75,14.01 L11.25,10.91 L10.41,10.44 L10.41,10.44 L9.61,9.79 L8.65,12.56 L7.70,11.50 L7.70,11.50 L6.85,10.25 L8.21,7.99 L7.62,6.88 L7.62,6.88 L7.13,5.65 L5.47,7.25 L4.96,5.55 L4.96,5.55 L4.60,3.75 L6.45,2.92 L6.28,1.47 L6.28,1.47 L6.22,0.00 L4.30,0.00 L4.37,-1.89 L4.37,-1.89 L4.60,-3.75 L6.45,-2.92 L6.74,-4.32 L6.74,-4.32 L7.13,-5.65 L5.47,-7.25 L6.10,-8.83 L6.10,-8.83 L6.85,-10.25 L8.21,-7.99 L8.87,-8.96 L8.87,-8.96 L9.61,-9.79 L8.65,-12.56 L9.67,-13.40 L9.67,-13.40 L10.75,-14.01 L11.25,-10.91 L12.12,-11.20 L12.12,-11.20 L13.00,-11.30 L13.00,-14.50 L14.14,-14.38 L14.14,-14.38 L15.25,-14.01 L14.75,-10.91 L15.59,-10.44 L15.59,-10.44 L16.39,-9.79 L17.35,-12.56 L18.30,-11.50 L18.30,-11.50 L19.15,-10.25 L17.79,-7.99 L18.38,-6.88 L18.38,-6.88 L18.87,-5.65 L20.53,-7.25 L21.04,-5.55 L21.04,-5.55 L21.40,-3.75 L19.55,-2.92 L19.72,-1.47 L19.72,-1.47 L19.78,-0.00Z" fill="#fff" stroke="#111" stroke-width="1.1" /><rect x="0" y="-14.5" width="13" height="29.0" fill="#fff"/><line x1="6.26" y1="4.32" x2="19.26" y2="4.32" stroke="#222" stroke-width="1.3" /><line x1="4.13" y1="8.96" x2="17.13" y2="8.96" stroke="#222" stroke-width="1.3" /><line x1="0.88" y1="11.20" x2="13.88" y2="11.20" stroke="#222" stroke-width="1.3" /><line x1="-0.88" y1="-11.20" x2="12.12" y2="-11.20" stroke="#222" stroke-width="1.3" /><line x1="2.59" y1="-10.44" x2="15.59" y2="-10.44" stroke="#222" stroke-width="1.3" /><line x1="5.38" y1="-6.88" x2="18.38" y2="-6.88" stroke="#222" stroke-width="1.3" /><line x1="6.72" y1="-1.47" x2="19.72" y2="-1.47" stroke="#222" stroke-width="1.3" /><path d="M0.27,14.49 L13.27,14.49 L10.49,13.88 L-2.51,13.88Z" fill="#fff" stroke="#111" stroke-width="1.15" /><path d="M-0.27,-14.49 L12.73,-14.49 L15.51,-13.88 L2.51,-13.88Z" fill="#fff" stroke="#111" stroke-width="1.15" /><path d="M4.58,12.32 L17.58,12.32 L14.99,14.12 L1.99,14.12Z" fill="#fff" stroke="#111" stroke-width="1.15" /><path d="M4.11,-12.78 L17.11,-12.78 L19.34,-9.93 L6.34,-9.93Z" fill="#fff" stroke="#111" stroke-width="1.15" /><line x1="6.80" y1="-11.50" x2="16.80" y2="-11.50" stroke="#b4b4b4" stroke-width="0.8558901056929175" /><path d="M7.67,6.85 L20.67,6.85 L18.96,10.57 L5.96,10.57Z" fill="#fff" stroke="#111" stroke-width="1.15" /><line x1="8.40" y1="8.83" x2="18.40" y2="8.83" stroke="#b4b4b4" stroke-width="1.1154177021027554" /><path d="M7.39,-7.64 L20.39,-7.64 L21.47,-3.31 L8.47,-3.31Z" fill="#fff" stroke="#111" stroke-width="1.15" /><line x1="9.54" y1="-5.55" x2="19.54" y2="-5.55" stroke="#b4b4b4" stroke-width="1.2989314254291922" /><path d="M8.70,-0.46 L21.70,-0.46 L21.33,4.19 L8.33,4.19Z" fill="#fff" stroke="#111" stroke-width="1.15" /><line x1="10.13" y1="1.89" x2="20.13" y2="1.89" stroke="#b4b4b4" stroke-width="1.3939251186983095" /><line x1="0.00" y1="-14.50" x2="13.00" y2="-14.50" stroke="#111" stroke-width="1.1" /><line x1="0.00" y1="14.50" x2="13.00" y2="14.50" stroke="#111" stroke-width="1.1" /><path d="M8.70,0.00 L8.63,1.89 L8.63,1.89 L8.40,3.75 L6.55,2.92 L6.26,4.32 L6.26,4.32 L5.87,5.65 L7.53,7.25 L6.90,8.83 L6.90,8.83 L6.15,10.25 L4.79,7.99 L4.13,8.96 L4.13,8.96 L3.39,9.79 L4.35,12.56 L3.33,13.40 L3.33,13.40 L2.25,14.01 L1.75,10.91 L0.88,11.20 L0.88,11.20 L0.00,11.30 L0.00,14.50 L-1.14,14.38 L-1.14,14.38 L-2.25,14.01 L-1.75,10.91 L-2.59,10.44 L-2.59,10.44 L-3.39,9.79 L-4.35,12.56 L-5.30,11.50 L-5.30,11.50 L-6.15,10.25 L-4.79,7.99 L-5.38,6.88 L-5.38,6.88 L-5.87,5.65 L-7.53,7.25 L-8.04,5.55 L-8.04,5.55 L-8.40,3.75 L-6.55,2.92 L-6.72,1.47 L-6.72,1.47 L-6.78,0.00 L-8.70,0.00 L-8.63,-1.89 L-8.63,-1.89 L-8.40,-3.75 L-6.55,-2.92 L-6.26,-4.32 L-6.26,-4.32 L-5.87,-5.65 L-7.53,-7.25 L-6.90,-8.83 L-6.90,-8.83 L-6.15,-10.25 L-4.79,-7.99 L-4.13,-8.96 L-4.13,-8.96 L-3.39,-9.79 L-4.35,-12.56 L-3.33,-13.40 L-3.33,-13.40 L-2.25,-14.01 L-1.75,-10.91 L-0.88,-11.20 L-0.88,-11.20 L-0.00,-11.30 L-0.00,-14.50 L1.14,-14.38 L1.14,-14.38 L2.25,-14.01 L1.75,-10.91 L2.59,-10.44 L2.59,-10.44 L3.39,-9.79 L4.35,-12.56 L5.30,-11.50 L5.30,-11.50 L6.15,-10.25 L4.79,-7.99 L5.38,-6.88 L5.38,-6.88 L5.87,-5.65 L7.53,-7.25 L8.04,-5.55 L8.04,-5.55 L8.40,-3.75 L6.55,-2.92 L6.72,-1.47 L6.72,-1.47 L6.78,-0.00Z" fill="#fff" stroke="#111" stroke-width="1.1" /></g><ellipse cx="307.00" cy="0.00" rx="5.10" ry="8.50" fill="#fff" stroke="#111" stroke-width="1.2" /><rect x="286" y="-8.5" width="21" height="17.0" fill="#fff"/><line x1="286.00" y1="-8.50" x2="307.00" y2="-8.50" stroke="#111" stroke-width="1.2" /><line x1="286.00" y1="8.50" x2="307.00" y2="8.50" stroke="#111" stroke-width="1.2" /><ellipse cx="286.00" cy="0.00" rx="5.10" ry="8.50" fill="#fff" stroke="#111" stroke-width="1.2" /><g transform="translate(272,0)"><path d="M18.10,0.00 L18.02,1.92 L18.02,1.92 L17.77,3.80 L16.04,2.96 L15.73,4.36 L15.73,4.36 L15.30,5.68 L16.81,7.30 L16.12,8.84 L16.12,8.84 L15.30,10.20 L14.13,7.94 L13.41,8.83 L13.41,8.83 L12.62,9.55 L13.36,12.28 L12.28,12.95 L12.28,12.95 L11.15,13.36 L10.90,10.39 L10.00,10.50 L10.00,10.50 L9.10,10.39 L8.85,13.36 L7.72,12.95 L7.72,12.95 L6.64,12.28 L7.38,9.55 L6.59,8.83 L6.59,8.83 L5.87,7.94 L4.70,10.20 L3.88,8.84 L3.88,8.84 L3.19,7.30 L4.70,5.68 L4.27,4.36 L4.27,4.36 L3.96,2.96 L2.23,3.80 L1.98,1.92 L1.98,1.92 L1.90,0.00 L3.70,0.00 L3.76,-1.49 L3.76,-1.49 L3.96,-2.96 L2.23,-3.80 L2.63,-5.61 L2.63,-5.61 L3.19,-7.30 L4.70,-5.68 L5.24,-6.88 L5.24,-6.88 L5.87,-7.94 L4.70,-10.20 L5.62,-11.36 L5.62,-11.36 L6.64,-12.28 L7.38,-9.55 L8.23,-10.07 L8.23,-10.07 L9.10,-10.39 L8.85,-13.36 L10.00,-13.50 L10.00,-13.50 L11.15,-13.36 L10.90,-10.39 L11.77,-10.07 L11.77,-10.07 L12.62,-9.55 L13.36,-12.28 L14.38,-11.36 L14.38,-11.36 L15.30,-10.20 L14.13,-7.94 L14.76,-6.88 L14.76,-6.88 L15.30,-5.68 L16.81,-7.30 L17.37,-5.61 L17.37,-5.61 L17.77,-3.80 L16.04,-2.96 L16.24,-1.49 L16.24,-1.49 L16.30,-0.00Z" fill="#fff" stroke="#111" stroke-width="1.1" /><rect x="0" y="-13.5" width="10" height="27.0" fill="#fff"/><line x1="5.73" y1="4.36" x2="15.73" y2="4.36" stroke="#222" stroke-width="1.3" /><line x1="3.41" y1="8.83" x2="13.41" y2="8.83" stroke="#222" stroke-width="1.3" /><line x1="0.00" y1="10.50" x2="10.00" y2="10.50" stroke="#222" stroke-width="1.3" /><line x1="-1.77" y1="-10.07" x2="8.23" y2="-10.07" stroke="#222" stroke-width="1.3" /><line x1="1.77" y1="-10.07" x2="11.77" y2="-10.07" stroke="#222" stroke-width="1.3" /><line x1="4.76" y1="-6.88" x2="14.76" y2="-6.88" stroke="#222" stroke-width="1.3" /><line x1="6.24" y1="-1.49" x2="16.24" y2="-1.49" stroke="#222" stroke-width="1.3" /><path d="M-0.88,13.42 L9.12,13.42 L6.38,12.08 L-3.62,12.08Z" fill="#fff" stroke="#111" stroke-width="1.15" /><path d="M-1.43,-13.29 L8.57,-13.29 L11.43,-13.29 L1.43,-13.29Z" fill="#fff" stroke="#111" stroke-width="1.15" /><path d="M3.62,12.08 L13.62,12.08 L10.88,13.42 L0.88,13.42Z" fill="#fff" stroke="#111" stroke-width="1.15" /><path d="M3.11,-12.46 L13.11,-12.46 L15.51,-9.89 L5.51,-9.89Z" fill="#fff" stroke="#111" stroke-width="1.15" /><line x1="5.88" y1="-11.36" x2="12.88" y2="-11.36" stroke="#b4b4b4" stroke-width="0.7713843916736736" /><path d="M6.96,6.91 L16.96,6.91 L15.09,10.50 L5.09,10.50Z" fill="#fff" stroke="#111" stroke-width="1.15" /><line x1="7.62" y1="8.84" x2="14.62" y2="8.84" stroke="#b4b4b4" stroke-width="1.078300799437466" /><path d="M6.66,-7.68 L16.66,-7.68 L17.85,-3.36 L7.85,-3.36Z" fill="#fff" stroke="#111" stroke-width="1.15" /><line x1="8.87" y1="-5.61" x2="15.87" y2="-5.61" stroke="#b4b4b4" stroke-width="1.2978596893326177" /><path d="M8.10,-0.46 L18.10,-0.46 L17.69,4.24 L7.69,4.24Z" fill="#fff" stroke="#111" stroke-width="1.15" /><line x1="9.52" y1="1.92" x2="16.52" y2="1.92" stroke="#b4b4b4" stroke-width="1.4122737058668131" /><line x1="0.00" y1="-13.50" x2="10.00" y2="-13.50" stroke="#111" stroke-width="1.1" /><line x1="0.00" y1="13.50" x2="10.00" y2="13.50" stroke="#111" stroke-width="1.1" /><path d="M8.10,0.00 L8.02,1.92 L8.02,1.92 L7.77,3.80 L6.04,2.96 L5.73,4.36 L5.73,4.36 L5.30,5.68 L6.81,7.30 L6.12,8.84 L6.12,8.84 L5.30,10.20 L4.13,7.94 L3.41,8.83 L3.41,8.83 L2.62,9.55 L3.36,12.28 L2.28,12.95 L2.28,12.95 L1.15,13.36 L0.90,10.39 L0.00,10.50 L0.00,10.50 L-0.90,10.39 L-1.15,13.36 L-2.28,12.95 L-2.28,12.95 L-3.36,12.28 L-2.62,9.55 L-3.41,8.83 L-3.41,8.83 L-4.13,7.94 L-5.30,10.20 L-6.12,8.84 L-6.12,8.84 L-6.81,7.30 L-5.30,5.68 L-5.73,4.36 L-5.73,4.36 L-6.04,2.96 L-7.77,3.80 L-8.02,1.92 L-8.02,1.92 L-8.10,0.00 L-6.30,0.00 L-6.24,-1.49 L-6.24,-1.49 L-6.04,-2.96 L-7.77,-3.80 L-7.37,-5.61 L-7.37,-5.61 L-6.81,-7.30 L-5.30,-5.68 L-4.76,-6.88 L-4.76,-6.88 L-4.13,-7.94 L-5.30,-10.20 L-4.38,-11.36 L-4.38,-11.36 L-3.36,-12.28 L-2.62,-9.55 L-1.77,-10.07 L-1.77,-10.07 L-0.90,-10.39 L-1.15,-13.36 L-0.00,-13.50 L-0.00,-13.50 L1.15,-13.36 L0.90,-10.39 L1.77,-10.07 L1.77,-10.07 L2.62,-9.55 L3.36,-12.28 L4.38,-11.36 L4.38,-11.36 L5.30,-10.20 L4.13,-7.94 L4.76,-6.88 L4.76,-6.88 L5.30,-5.68 L6.81,-7.30 L7.37,-5.61 L7.37,-5.61 L7.77,-3.80 L6.04,-2.96 L6.24,-1.49 L6.24,-1.49 L6.30,-0.00Z" fill="#fff" stroke="#111" stroke-width="1.1" /></g><ellipse cx="272.00" cy="0.00" rx="6.60" ry="11.00" fill="#fff" stroke="#111" stroke-width="1.2" /><rect x="254" y="-11" width="18" height="22" fill="#fff"/><line x1="254.00" y1="-11.00" x2="272.00" y2="-11.00" stroke="#111" stroke-width="1.2" /><line x1="254.00" y1="11.00" x2="272.00" y2="11.00" stroke="#111" stroke-width="1.2" /><ellipse cx="254.00" cy="0.00" rx="6.60" ry="11.00" fill="#fff" stroke="#111" stroke-width="1.2" /><ellipse cx="254.00" cy="0.00" rx="8.10" ry="13.50" fill="#fff" stroke="#111" stroke-width="1.2" /><rect x="246" y="-13.5" width="8" height="27.0" fill="#fff"/><line x1="246.00" y1="-13.50" x2="254.00" y2="-13.50" stroke="#111" stroke-width="1.2" /><line x1="246.00" y1="13.50" x2="254.00" y2="13.50" stroke="#111" stroke-width="1.2" /><ellipse cx="254.00" cy="0.00" rx="8.10" ry="13.50" fill="#fff" stroke="#111" stroke-width="1" /><ellipse cx="246.00" cy="0.00" rx="8.10" ry="13.50" fill="#fff" stroke="#111" stroke-width="1.2" /><ellipse cx="246.00" cy="0.00" rx="7.50" ry="12.50" fill="#fff" stroke="#111" stroke-width="1.2" /><rect x="236" y="-12.5" width="10" height="25.0" fill="#fff"/><line x1="236.00" y1="-12.50" x2="246.00" y2="-12.50" stroke="#111" stroke-width="1.2" /><line x1="236.00" y1="12.50" x2="246.00" y2="12.50" stroke="#111" stroke-width="1.2" /><ellipse cx="236.00" cy="0.00" rx="7.50" ry="12.50" fill="#fff" stroke="#111" stroke-width="1.2" /><g transform="translate(219,0)"><path d="M30.20,0.00 L30.13,2.30 L30.13,2.30 L29.91,4.57 L27.68,3.78 L27.39,5.62 L27.39,5.62 L26.98,7.40 L29.06,8.95 L28.43,11.00 L28.43,11.00 L27.68,12.93 L25.83,10.70 L25.12,12.18 L25.12,12.18 L24.31,13.53 L25.83,16.35 L24.76,17.80 L24.76,17.80 L23.60,19.05 L22.46,15.76 L21.44,16.63 L21.44,16.63 L20.37,17.31 L21.08,20.92 L19.74,21.52 L19.74,21.52 L18.38,21.88 L18.14,18.10 L17.00,18.20 L17.00,18.20 L15.86,18.10 L15.62,21.88 L14.26,21.52 L14.26,21.52 L12.92,20.92 L13.63,17.31 L12.56,16.63 L12.56,16.63 L11.54,15.76 L10.40,19.05 L9.24,17.80 L9.24,17.80 L8.17,16.35 L9.69,13.53 L8.88,12.18 L8.88,12.18 L8.17,10.70 L6.32,12.93 L5.57,11.00 L5.57,11.00 L4.94,8.95 L7.02,7.40 L6.61,5.62 L6.61,5.62 L6.32,3.78 L4.09,4.57 L3.87,2.30 L3.87,2.30 L3.80,0.00 L6.08,0.00 L6.14,-1.90 L6.14,-1.90 L6.32,-3.78 L4.09,-4.57 L4.45,-6.80 L4.45,-6.80 L4.94,-8.95 L7.02,-7.40 L7.54,-9.10 L7.54,-9.10 L8.17,-10.70 L6.32,-12.93 L7.19,-14.72 L7.19,-14.72 L8.17,-16.35 L9.69,-13.53 L10.58,-14.72 L10.58,-14.72 L11.54,-15.76 L10.40,-19.05 L11.63,-20.10 L11.63,-20.10 L12.92,-20.92 L13.63,-17.31 L14.73,-17.80 L14.73,-17.80 L15.86,-18.10 L15.62,-21.88 L17.00,-22.00 L17.00,-22.00 L18.38,-21.88 L18.14,-18.10 L19.27,-17.80 L19.27,-17.80 L20.37,-17.31 L21.08,-20.92 L22.37,-20.10 L22.37,-20.10 L23.60,-19.05 L22.46,-15.76 L23.42,-14.72 L23.42,-14.72 L24.31,-13.53 L25.83,-16.35 L26.81,-14.72 L26.81,-14.72 L27.68,-12.93 L25.83,-10.70 L26.46,-9.10 L26.46,-9.10 L26.98,-7.40 L29.06,-8.95 L29.55,-6.80 L29.55,-6.80 L29.91,-4.57 L27.68,-3.78 L27.86,-1.90 L27.86,-1.90 L27.92,-0.00Z" fill="#fff" stroke="#111" stroke-width="1.1" /><rect x="0" y="-22" width="17" height="44" fill="#fff"/><line x1="10.39" y1="5.62" x2="27.39" y2="5.62" stroke="#222" stroke-width="1.3" /><line x1="8.12" y1="12.18" x2="25.12" y2="12.18" stroke="#222" stroke-width="1.3" /><line x1="4.44" y1="16.63" x2="21.44" y2="16.63" stroke="#222" stroke-width="1.3" /><line x1="0.00" y1="18.20" x2="17.00" y2="18.20" stroke="#222" stroke-width="1.3" /><line x1="-2.27" y1="-17.80" x2="14.73" y2="-17.80" stroke="#222" stroke-width="1.3" /><line x1="2.27" y1="-17.80" x2="19.27" y2="-17.80" stroke="#222" stroke-width="1.3" /><line x1="6.42" y1="-14.72" x2="23.42" y2="-14.72" stroke="#222" stroke-width="1.3" /><line x1="9.46" y1="-9.10" x2="26.46" y2="-9.10" stroke="#222" stroke-width="1.3" /><line x1="10.86" y1="-1.90" x2="27.86" y2="-1.90" stroke="#222" stroke-width="1.3" /><path d="M-1.05,21.93 L15.95,21.93 L12.61,20.75 L-4.39,20.75Z" fill="#fff" stroke="#111" stroke-width="1.15" /><path d="M-1.71,-21.81 L15.29,-21.81 L18.71,-21.81 L1.71,-21.81Z" fill="#fff" stroke="#111" stroke-width="1.15" /><path d="M4.39,20.75 L21.39,20.75 L18.05,21.93 L1.05,21.93Z" fill="#fff" stroke="#111" stroke-width="1.15" /><path d="M3.76,-21.09 L20.76,-21.09 L23.89,-18.77 L6.89,-18.77Z" fill="#fff" stroke="#111" stroke-width="1.15" /><line x1="6.87" y1="-20.10" x2="20.87" y2="-20.10" stroke="#b4b4b4" stroke-width="0.6952105581831658" /><path d="M9.08,15.97 L26.08,15.97 L23.31,19.32 L6.31,19.32Z" fill="#fff" stroke="#111" stroke-width="1.15" /><line x1="9.26" y1="17.80" x2="23.26" y2="17.80" stroke="#b4b4b4" stroke-width="1.0046660911786345" /><path d="M8.58,-16.71 L25.58,-16.71 L27.87,-12.48 L10.87,-12.48Z" fill="#fff" stroke="#111" stroke-width="1.15" /><line x1="11.31" y1="-14.72" x2="25.31" y2="-14.72" stroke="#b4b4b4" stroke-width="1.270212895066817" /><path d="M12.19,8.44 L29.19,8.44 L27.48,13.37 L10.48,13.37Z" fill="#fff" stroke="#111" stroke-width="1.15" /><line x1="12.93" y1="11.00" x2="26.93" y2="11.00" stroke="#b4b4b4" stroke-width="1.4802453002828644" /><path d="M11.92,-9.45 L28.92,-9.45 L29.98,-4.03 L12.98,-4.03Z" fill="#fff" stroke="#111" stroke-width="1.15" /><line x1="14.05" y1="-6.80" x2="28.05" y2="-6.80" stroke="#b4b4b4" stroke-width="1.6255838828715308" /><path d="M13.20,-0.55 L30.20,-0.55 L29.84,5.11 L12.84,5.11Z" fill="#fff" stroke="#111" stroke-width="1.15" /><line x1="14.63" y1="2.30" x2="28.63" y2="2.30" stroke="#b4b4b4" stroke-width="1.6998766493618016" /><line x1="0.00" y1="-22.00" x2="17.00" y2="-22.00" stroke="#111" stroke-width="1.1" /><line x1="0.00" y1="22.00" x2="17.00" y2="22.00" stroke="#111" stroke-width="1.1" /><path d="M13.20,0.00 L13.13,2.30 L13.13,2.30 L12.91,4.57 L10.68,3.78 L10.39,5.62 L10.39,5.62 L9.98,7.40 L12.06,8.95 L11.43,11.00 L11.43,11.00 L10.68,12.93 L8.83,10.70 L8.12,12.18 L8.12,12.18 L7.31,13.53 L8.83,16.35 L7.76,17.80 L7.76,17.80 L6.60,19.05 L5.46,15.76 L4.44,16.63 L4.44,16.63 L3.37,17.31 L4.08,20.92 L2.74,21.52 L2.74,21.52 L1.38,21.88 L1.14,18.10 L0.00,18.20 L0.00,18.20 L-1.14,18.10 L-1.38,21.88 L-2.74,21.52 L-2.74,21.52 L-4.08,20.92 L-3.37,17.31 L-4.44,16.63 L-4.44,16.63 L-5.46,15.76 L-6.60,19.05 L-7.76,17.80 L-7.76,17.80 L-8.83,16.35 L-7.31,13.53 L-8.12,12.18 L-8.12,12.18 L-8.83,10.70 L-10.68,12.93 L-11.43,11.00 L-11.43,11.00 L-12.06,8.95 L-9.98,7.40 L-10.39,5.62 L-10.39,5.62 L-10.68,3.78 L-12.91,4.57 L-13.13,2.30 L-13.13,2.30 L-13.20,0.00 L-10.92,0.00 L-10.86,-1.90 L-10.86,-1.90 L-10.68,-3.78 L-12.91,-4.57 L-12.55,-6.80 L-12.55,-6.80 L-12.06,-8.95 L-9.98,-7.40 L-9.46,-9.10 L-9.46,-9.10 L-8.83,-10.70 L-10.68,-12.93 L-9.81,-14.72 L-9.81,-14.72 L-8.83,-16.35 L-7.31,-13.53 L-6.42,-14.72 L-6.42,-14.72 L-5.46,-15.76 L-6.60,-19.05 L-5.37,-20.10 L-5.37,-20.10 L-4.08,-20.92 L-3.37,-17.31 L-2.27,-17.80 L-2.27,-17.80 L-1.14,-18.10 L-1.38,-21.88 L-0.00,-22.00 L-0.00,-22.00 L1.38,-21.88 L1.14,-18.10 L2.27,-17.80 L2.27,-17.80 L3.37,-17.31 L4.08,-20.92 L5.37,-20.10 L5.37,-20.10 L6.60,-19.05 L5.46,-15.76 L6.42,-14.72 L6.42,-14.72 L7.31,-13.53 L8.83,-16.35 L9.81,-14.72 L9.81,-14.72 L10.68,-12.93 L8.83,-10.70 L9.46,-9.10 L9.46,-9.10 L9.98,-7.40 L12.06,-8.95 L12.55,-6.80 L12.55,-6.80 L12.91,-4.57 L10.68,-3.78 L10.86,-1.90 L10.86,-1.90 L10.92,-0.00Z" fill="#fff" stroke="#111" stroke-width="1.1" /></g><ellipse cx="219.00" cy="0.00" rx="7.20" ry="12.00" fill="#fff" stroke="#111" stroke-width="1.1" /><ellipse cx="219.00" cy="0.00" rx="7.20" ry="12.00" fill="#fff" stroke="#111" stroke-width="1.2" /><rect x="198" y="-12" width="21" height="24" fill="#fff"/><line x1="198.00" y1="-12.00" x2="219.00" y2="-12.00" stroke="#111" stroke-width="1.2" /><line x1="198.00" y1="12.00" x2="219.00" y2="12.00" stroke="#111" stroke-width="1.2" /><ellipse cx="198.00" cy="0.00" rx="7.20" ry="12.00" fill="#fff" stroke="#111" stroke-width="1.2" /><g transform="translate(181,0)"><path d="M28.10,0.00 L28.02,2.23 L28.02,2.23 L27.78,4.43 L25.74,3.59 L25.42,5.32 L25.42,5.32 L24.97,6.97 L26.83,8.60 L26.14,10.51 L26.14,10.51 L25.31,12.27 L23.74,9.95 L22.97,11.23 L22.97,11.23 L22.11,12.34 L23.31,15.23 L22.16,16.38 L22.16,16.38 L20.94,17.30 L20.19,14.03 L19.15,14.56 L19.15,14.56 L18.08,14.89 L18.34,18.37 L17.00,18.50 L17.00,18.50 L15.66,18.37 L15.92,14.89 L14.85,14.56 L14.85,14.56 L13.81,14.03 L13.06,17.30 L11.84,16.38 L11.84,16.38 L10.69,15.23 L11.89,12.34 L11.03,11.23 L11.03,11.23 L10.26,9.95 L8.69,12.27 L7.86,10.51 L7.86,10.51 L7.17,8.60 L9.03,6.97 L8.58,5.32 L8.58,5.32 L8.26,3.59 L6.22,4.43 L5.98,2.23 L5.98,2.23 L5.90,-0.00 L8.00,-0.00 L8.07,-1.81 L8.07,-1.81 L8.26,-3.59 L6.22,-4.43 L6.62,-6.56 L6.62,-6.56 L7.17,-8.60 L9.03,-6.97 L9.59,-8.52 L9.59,-8.52 L10.26,-9.95 L8.69,-12.27 L9.64,-13.85 L9.64,-13.85 L10.69,-15.23 L11.89,-12.34 L12.82,-13.28 L12.82,-13.28 L13.81,-14.03 L13.06,-17.30 L14.34,-17.96 L14.34,-17.96 L15.66,-18.37 L15.92,-14.89 L17.00,-15.00 L17.00,-15.00 L18.08,-14.89 L18.34,-18.37 L19.66,-17.96 L19.66,-17.96 L20.94,-17.30 L20.19,-14.03 L21.18,-13.28 L21.18,-13.28 L22.11,-12.34 L23.31,-15.23 L24.36,-13.85 L24.36,-13.85 L25.31,-12.27 L23.74,-9.95 L24.41,-8.52 L24.41,-8.52 L24.97,-6.97 L26.83,-8.60 L27.38,-6.56 L27.38,-6.56 L27.78,-4.43 L25.74,-3.59 L25.93,-1.81 L25.93,-1.81 L26.00,0.00Z" fill="#fff" stroke="#111" stroke-width="1.1" /><rect x="0" y="-18.5" width="17" height="37.0" fill="#fff"/><line x1="8.42" y1="5.32" x2="25.42" y2="5.32" stroke="#222" stroke-width="1.3" /><line x1="5.97" y1="11.23" x2="22.97" y2="11.23" stroke="#222" stroke-width="1.3" /><line x1="2.15" y1="14.56" x2="19.15" y2="14.56" stroke="#222" stroke-width="1.3" /><line x1="-2.15" y1="14.56" x2="14.85" y2="14.56" stroke="#222" stroke-width="1.3" /><line x1="-0.00" y1="-15.00" x2="17.00" y2="-15.00" stroke="#222" stroke-width="1.3" /><line x1="4.18" y1="-13.28" x2="21.18" y2="-13.28" stroke="#222" stroke-width="1.3" /><line x1="7.41" y1="-8.52" x2="24.41" y2="-8.52" stroke="#222" stroke-width="1.3" /><line x1="8.93" y1="-1.81" x2="25.93" y2="-1.81" stroke="#222" stroke-width="1.3" /><path d="M-4.24,-17.10 L12.76,-17.10 L15.98,-18.42 L-1.02,-18.42Z" fill="#fff" stroke="#111" stroke-width="1.15" /><path d="M1.66,18.29 L18.66,18.29 L15.34,18.29 L-1.66,18.29Z" fill="#fff" stroke="#111" stroke-width="1.15" /><path d="M1.02,-18.42 L18.02,-18.42 L21.24,-17.10 L4.24,-17.10Z" fill="#fff" stroke="#111" stroke-width="1.15" /><path d="M6.57,14.91 L23.57,14.91 L20.63,17.48 L3.63,17.48Z" fill="#fff" stroke="#111" stroke-width="1.15" /><line x1="6.66" y1="16.38" x2="20.66" y2="16.38" stroke="#b4b4b4" stroke-width="0.76999762958173" /><path d="M6.04,-15.52 L23.04,-15.52 L25.52,-11.86 L8.52,-11.86Z" fill="#fff" stroke="#111" stroke-width="1.15" /><line x1="8.86" y1="-13.85" x2="22.86" y2="-13.85" stroke="#b4b4b4" stroke-width="1.0987248015239033" /><path d="M9.97,8.12 L26.97,8.12 L25.09,12.66 L8.09,12.66Z" fill="#fff" stroke="#111" stroke-width="1.15" /><line x1="10.64" y1="10.51" x2="24.64" y2="10.51" stroke="#b4b4b4" stroke-width="1.3635980817036615" /><path d="M9.67,-9.07 L26.67,-9.07 L27.85,-3.90 L10.85,-3.90Z" fill="#fff" stroke="#111" stroke-width="1.15" /><line x1="11.88" y1="-6.56" x2="25.88" y2="-6.56" stroke="#b4b4b4" stroke-width="1.5492239978521627" /><path d="M11.10,-0.54 L28.10,-0.54 L27.70,4.95 L10.70,4.95Z" fill="#fff" stroke="#111" stroke-width="1.15" /><line x1="12.52" y1="2.23" x2="26.52" y2="2.23" stroke="#b4b4b4" stroke-width="1.6448146464456004" /><line x1="0.00" y1="-18.50" x2="17.00" y2="-18.50" stroke="#111" stroke-width="1.1" /><line x1="0.00" y1="18.50" x2="17.00" y2="18.50" stroke="#111" stroke-width="1.1" /><path d="M11.10,0.00 L11.02,2.23 L11.02,2.23 L10.78,4.43 L8.74,3.59 L8.42,5.32 L8.42,5.32 L7.97,6.97 L9.83,8.60 L9.14,10.51 L9.14,10.51 L8.31,12.27 L6.74,9.95 L5.97,11.23 L5.97,11.23 L5.11,12.34 L6.31,15.23 L5.16,16.38 L5.16,16.38 L3.94,17.30 L3.19,14.03 L2.15,14.56 L2.15,14.56 L1.08,14.89 L1.34,18.37 L-0.00,18.50 L-0.00,18.50 L-1.34,18.37 L-1.08,14.89 L-2.15,14.56 L-2.15,14.56 L-3.19,14.03 L-3.94,17.30 L-5.16,16.38 L-5.16,16.38 L-6.31,15.23 L-5.11,12.34 L-5.97,11.23 L-5.97,11.23 L-6.74,9.95 L-8.31,12.27 L-9.14,10.51 L-9.14,10.51 L-9.83,8.60 L-7.97,6.97 L-8.42,5.32 L-8.42,5.32 L-8.74,3.59 L-10.78,4.43 L-11.02,2.23 L-11.02,2.23 L-11.10,-0.00 L-9.00,-0.00 L-8.93,-1.81 L-8.93,-1.81 L-8.74,-3.59 L-10.78,-4.43 L-10.38,-6.56 L-10.38,-6.56 L-9.83,-8.60 L-7.97,-6.97 L-7.41,-8.52 L-7.41,-8.52 L-6.74,-9.95 L-8.31,-12.27 L-7.36,-13.85 L-7.36,-13.85 L-6.31,-15.23 L-5.11,-12.34 L-4.18,-13.28 L-4.18,-13.28 L-3.19,-14.03 L-3.94,-17.30 L-2.66,-17.96 L-2.66,-17.96 L-1.34,-18.37 L-1.08,-14.89 L-0.00,-15.00 L-0.00,-15.00 L1.08,-14.89 L1.34,-18.37 L2.66,-17.96 L2.66,-17.96 L3.94,-17.30 L3.19,-14.03 L4.18,-13.28 L4.18,-13.28 L5.11,-12.34 L6.31,-15.23 L7.36,-13.85 L7.36,-13.85 L8.31,-12.27 L6.74,-9.95 L7.41,-8.52 L7.41,-8.52 L7.97,-6.97 L9.83,-8.60 L10.38,-6.56 L10.38,-6.56 L10.78,-4.43 L8.74,-3.59 L8.93,-1.81 L8.93,-1.81 L9.00,0.00Z" fill="#fff" stroke="#111" stroke-width="1.1" /></g><ellipse cx="181.00" cy="0.00" rx="7.50" ry="12.50" fill="#fff" stroke="#111" stroke-width="1.2" /><rect x="163" y="-12.5" width="18" height="25.0" fill="#fff"/><line x1="163.00" y1="-12.50" x2="181.00" y2="-12.50" stroke="#111" stroke-width="1.2" /><line x1="163.00" y1="12.50" x2="181.00" y2="12.50" stroke="#111" stroke-width="1.2" /><ellipse cx="163.00" cy="0.00" rx="7.50" ry="12.50" fill="#fff" stroke="#111" stroke-width="1.2" /><g transform="translate(150,0)"><ellipse cx="13.00" cy="0.00" rx="7.80" ry="13.00" fill="#222" stroke="#111" stroke-width="1.3" /><rect x="0" y="-13" width="13" height="26" fill="#222"/><path d="M-1.08,-12.24 L10.32,-12.24 L11.65,-12.58 L0.25,-12.58Z" fill="#fff" stroke="#111" stroke-width="0.8" /><path d="M0.25,12.58 L11.65,12.58 L10.32,12.24 L-1.08,12.24Z" fill="#fff" stroke="#111" stroke-width="0.8" /><path d="M1.35,-12.58 L12.75,-12.58 L14.08,-12.24 L2.68,-12.24Z" fill="#fff" stroke="#111" stroke-width="0.8" /><path d="M2.68,12.24 L14.08,12.24 L12.75,12.58 L1.35,12.58Z" fill="#fff" stroke="#111" stroke-width="0.8" /><path d="M3.73,-11.69 L15.13,-11.69 L16.33,-10.70 L4.93,-10.70Z" fill="#fff" stroke="#111" stroke-width="0.8" /><path d="M4.93,10.70 L16.33,10.70 L15.13,11.69 L3.73,11.69Z" fill="#fff" stroke="#111" stroke-width="0.8" /><path d="M5.82,-9.65 L17.22,-9.65 L18.17,-8.11 L6.77,-8.11Z" fill="#fff" stroke="#111" stroke-width="0.8" /><path d="M6.77,8.11 L18.17,8.11 L17.22,9.65 L5.82,9.65Z" fill="#fff" stroke="#111" stroke-width="0.8" /><path d="M7.42,-6.67 L18.82,-6.67 L19.43,-4.73 L8.03,-4.73Z" fill="#fff" stroke="#111" stroke-width="0.8" /><path d="M8.03,4.73 L19.43,4.73 L18.82,6.67 L7.42,6.67Z" fill="#fff" stroke="#111" stroke-width="0.8" /><path d="M8.37,-3.04 L19.77,-3.04 L19.98,-0.89 L8.58,-0.89Z" fill="#fff" stroke="#111" stroke-width="0.8" /><path d="M8.58,0.89 L19.98,0.89 L19.77,3.04 L8.37,3.04Z" fill="#fff" stroke="#111" stroke-width="0.8" /><line x1="0.00" y1="-13.00" x2="13.00" y2="-13.00" stroke="#111" stroke-width="1.3" /><line x1="0.00" y1="13.00" x2="13.00" y2="13.00" stroke="#111" stroke-width="1.3" /></g><ellipse cx="150.00" cy="0.00" rx="7.80" ry="13.00" fill="none" stroke="#111" stroke-width="1.2" /><ellipse cx="150.00" cy="0.00" rx="6.90" ry="11.50" fill="#fff" stroke="#111" stroke-width="1.2" /><rect x="126" y="-11.5" width="24" height="23.0" fill="#fff"/><line x1="126.00" y1="-11.50" x2="150.00" y2="-11.50" stroke="#111" stroke-width="1.2" /><line x1="126.00" y1="11.50" x2="150.00" y2="11.50" stroke="#111" stroke-width="1.2" /><ellipse cx="126.00" cy="0.00" rx="6.90" ry="11.50" fill="#fff" stroke="#111" stroke-width="1.2" /><ellipse cx="128.00" cy="0.00" rx="6.30" ry="10.50" fill="#fff" stroke="#111" stroke-width="1.2" /><rect x="114" y="-10.5" width="14" height="21.0" fill="#fff"/><line x1="114.00" y1="-10.50" x2="128.00" y2="-10.50" stroke="#111" stroke-width="1.2" /><line x1="114.00" y1="10.50" x2="128.00" y2="10.50" stroke="#111" stroke-width="1.2" /><ellipse cx="114.00" cy="0.00" rx="6.30" ry="10.50" fill="#fff" stroke="#111" stroke-width="1.2" /><path d="M118,-8 L124,-8 L124,-4 L118,-4Z M119,6 L125,6 L125,10 L119,10Z" fill="#222" stroke="#111" stroke-width="0.6" /><line x1="121.00" y1="-10.50" x2="121.00" y2="10.50" stroke="#111" stroke-width="0.9" /><ellipse cx="114.00" cy="0.00" rx="4.50" ry="7.50" fill="#fff" stroke="#111" stroke-width="1.2" /><rect x="38" y="-7.5" width="76" height="15.0" fill="#fff"/><line x1="38.00" y1="-7.50" x2="114.00" y2="-7.50" stroke="#111" stroke-width="1.2" /><line x1="38.00" y1="7.50" x2="114.00" y2="7.50" stroke="#111" stroke-width="1.2" /><ellipse cx="38.00" cy="0.00" rx="4.50" ry="7.50" fill="#fff" stroke="#111" stroke-width="1.2" /><ellipse cx="40.00" cy="0.00" rx="5.70" ry="9.50" fill="#fff" stroke="#111" stroke-width="1.2" /><rect x="34" y="-9.5" width="6" height="19.0" fill="#fff"/><line x1="34.00" y1="-9.50" x2="40.00" y2="-9.50" stroke="#111" stroke-width="1.2" /><line x1="34.00" y1="9.50" x2="40.00" y2="9.50" stroke="#111" stroke-width="1.2" /><ellipse cx="34.00" cy="0.00" rx="5.70" ry="9.50" fill="#fff" stroke="#111" stroke-width="1.2" /><ellipse cx="34.00" cy="0.00" rx="6.00" ry="10.00" fill="#fff" stroke="#111" stroke-width="1.2" /><rect x="7" y="-10" width="27" height="20" fill="#fff"/><line x1="7.00" y1="-10.00" x2="34.00" y2="-10.00" stroke="#111" stroke-width="1.2" /><line x1="7.00" y1="10.00" x2="34.00" y2="10.00" stroke="#111" stroke-width="1.2" /><line x1="13.00" y1="0.00" x2="40.00" y2="0.00" stroke="#111" stroke-width="2.4" /><line x1="11.85" y1="5.88" x2="38.85" y2="5.88" stroke="#111" stroke-width="2.4" /><line x1="8.85" y1="9.51" x2="35.85" y2="9.51" stroke="#111" stroke-width="2.4" /><line x1="8.85" y1="-9.51" x2="35.85" y2="-9.51" stroke="#111" stroke-width="2.4" /><line x1="11.85" y1="-5.88" x2="38.85" y2="-5.88" stroke="#111" stroke-width="2.4" /><ellipse cx="7.00" cy="0.00" rx="6.00" ry="10.00" fill="#fff" stroke="#111" stroke-width="1.2" /><ellipse cx="7.00" cy="0.00" rx="4.20" ry="7.00" fill="#fff" stroke="#111" stroke-width="1.2" /><rect x="0" y="-7" width="7" height="14" fill="#fff"/><line x1="0.00" y1="-7.00" x2="7.00" y2="-7.00" stroke="#111" stroke-width="1.2" /><line x1="0.00" y1="7.00" x2="7.00" y2="7.00" stroke="#111" stroke-width="1.2" /><ellipse cx="0.00" cy="0.00" rx="4.20" ry="7.00" fill="#fff" stroke="#111" stroke-width="1.2" /><ellipse cx="0.00" cy="0.00" rx="1.80" ry="2.30" fill="#fff" stroke="#111" stroke-width="1.1" /></g>
<g transform="translate(684.50,253.40) rotate(-15)"><ellipse cx="8.00" cy="0.00" rx="9.76" ry="16.00" fill="#fff" stroke="#111" stroke-width="1.2" /><rect x="0" y="-16" width="8" height="32" fill="#fff"/><line x1="0.00" y1="-16.00" x2="8.00" y2="-16.00" stroke="#111" stroke-width="1.2" /><line x1="0.00" y1="16.00" x2="8.00" y2="16.00" stroke="#111" stroke-width="1.2" /><ellipse cx="0.00" cy="0.00" rx="9.76" ry="16.00" fill="#fff" stroke="#111" stroke-width="1.3" /><ellipse cx="0.00" cy="0.00" rx="8.54" ry="14.00" fill="none" stroke="#888" stroke-width="0.6" /><ellipse cx="-0.50" cy="0.50" rx="5.58" ry="9.00" fill="#fff" stroke="#111" stroke-width="1.3" /><ellipse cx="0.50" cy="0.50" rx="4.53" ry="7.30" fill="#e4e4e4" stroke="#111" stroke-width="0.9" /><path d="M-3.74,-2.56 L-3.45,-3.55 L-3.08,-4.47 L-2.63,-5.28 L-2.10,-5.97 L-1.52,-6.53 L-0.89,-6.95 L-0.23,-7.20 L0.44,-7.30 L1.12,-7.23 L1.78,-7.00 L2.42,-6.61 L3.01,-6.08" fill="none" stroke="#111" stroke-width="2.0" /><path d="M2,-16.2 a2,2 0 0 0 4,0" fill="#fff" stroke="#111" stroke-width="1.0" /><path d="M9.5,2 a2,2 0 0 0 0,4" fill="#fff" stroke="#111" stroke-width="1.0" /></g>
<g transform="translate(645.50,264.00) rotate(-15)"><ellipse cx="14.00" cy="0.00" rx="15.19" ry="21.40" fill="#fff" stroke="#111" stroke-width="1.2" /><rect x="0" y="-21.4" width="14" height="42.8" fill="#fff"/><line x1="0.00" y1="-21.40" x2="14.00" y2="-21.40" stroke="#111" stroke-width="1.2" /><line x1="0.00" y1="21.40" x2="14.00" y2="21.40" stroke="#111" stroke-width="1.2" /><ellipse cx="6.00" cy="0.00" rx="15.19" ry="21.40" fill="none" stroke="#111" stroke-width="0.6" /><ellipse cx="0.00" cy="0.00" rx="15.19" ry="21.40" fill="#fff" stroke="#111" stroke-width="1.4" /><ellipse cx="0.00" cy="0.00" rx="13.63" ry="19.20" fill="#fff" stroke="#111" stroke-width="0.8" /><ellipse cx="0.00" cy="0.00" rx="12.21" ry="17.20" fill="none" stroke="#333" stroke-width="3.0" stroke-dasharray="3 2.6"/><ellipse cx="0.00" cy="0.00" rx="12.21" ry="17.20" fill="none" stroke="#fff" stroke-width="1.2" stroke-dasharray="1.6 4"/><ellipse cx="0.00" cy="0.00" rx="9.94" ry="14.00" fill="#fff" stroke="#111" stroke-width="1.5" /><ellipse cx="0.00" cy="0.00" rx="8.52" ry="12.00" fill="#fff" stroke="#111" stroke-width="0.8" /><path d="M-7.5,0 C-7.5,-8 -1,-12 4.5,-10 C7.5,-8.5 8,-3 6.5,4 C5,-3 1,-8 -3,-7 C-5.5,-6 -7,-3 -7.5,0 Z" fill="#111" stroke="#111" stroke-width="0.5" /></g>
<g transform="translate(623.00,268.70) rotate(-15)"><path d="M-1.52,-15.82 L-0.48,-15.98 L0.56,-15.98 L1.60,-15.80 L2.62,-15.47 L3.61,-14.97 L4.57,-14.32 L5.48,-13.52 L6.33,-12.57 L7.12,-11.50 L7.83,-10.31 L8.46,-9.01 L9.01,-7.61 L9.46,-6.14 L9.81,-4.61 L10.06,-3.02 L10.20,-1.41 L10.24,0.22 L10.17,1.85 L10.00,3.46 L9.72,5.03 L9.34,6.55 L8.87,8.01 L8.30,9.37 L7.64,10.65 L6.91,11.81 L6.11,12.85 L5.24,13.75 L4.31,14.51 L3.35,15.12 L2.34,15.58 L1.32,15.87 L0.27,15.99 L-0.77,15.95 L-1.81,15.75 L-2.82,15.38 L-3.81,14.85 L-4.76,14.17 L-5.66,13.34 L-6.50,12.37 L-7.27,11.27 L-7.96,10.06 L-8.58,8.74 L-9.10,7.33 L-9.53,5.84 L-9.86,4.29 L-10.09,2.70 L-10.22,1.08 L-10.23,-0.55 L-10.14,-2.18 L-9.95,-3.78 L-9.65,-5.34 L-9.25,-6.85 L-8.76,-8.29 L-8.17,-9.64 L-7.50,-10.89 L-6.76,-12.02 L-5.94,-13.04 L-5.06,-13.91 L-4.12,-14.65 L-3.15,-15.23" fill="none" stroke="#111" stroke-width="1.4" /><path d="M-1.35,-14.04 L-0.43,-14.18 L0.50,-14.18 L1.42,-14.03 L2.33,-13.73 L3.21,-13.29 L4.06,-12.71 L4.86,-11.99 L5.62,-11.16 L6.32,-10.21 L6.95,-9.15 L7.51,-7.99 L7.99,-6.76 L8.39,-5.45 L8.70,-4.09 L8.92,-2.68 L9.05,-1.25 L9.09,0.20 L9.03,1.64 L8.87,3.07 L8.63,4.47 L8.29,5.82 L7.87,7.10 L7.36,8.32 L6.78,9.45 L6.13,10.48 L5.42,11.40 L4.65,12.20 L3.83,12.88 L2.97,13.42 L2.08,13.82 L1.17,14.08 L0.24,14.19 L-0.68,14.16 L-1.60,13.98 L-2.50,13.65 L-3.38,13.18 L-4.22,12.57 L-5.02,11.84 L-5.77,10.98 L-6.45,10.00 L-7.07,8.92 L-7.61,7.75 L-8.08,6.50 L-8.46,5.18 L-8.75,3.81 L-8.96,2.40 L-9.07,0.96 L-9.08,-0.49 L-9.00,-1.93 L-8.83,-3.35 L-8.57,-4.74 L-8.21,-6.08 L-7.77,-7.35 L-7.25,-8.55 L-6.66,-9.66 L-6.00,-10.67 L-5.27,-11.57 L-4.49,-12.35 L-3.66,-13.00 L-2.79,-13.51" fill="none" stroke="#111" stroke-width="1.0" /></g>
<g transform="translate(605.20,274.00) rotate(-15)"><ellipse cx="1.80" cy="0.00" rx="12.38" ry="18.20" fill="#fff" stroke="#111" stroke-width="1.1" /><rect x="0" y="-18.2" width="1.8" height="36.4" fill="#fff"/><line x1="0.00" y1="-18.20" x2="1.80" y2="-18.20" stroke="#111" stroke-width="1.1" /><line x1="0.00" y1="18.20" x2="1.80" y2="18.20" stroke="#111" stroke-width="1.1" /><ellipse cx="0.00" cy="0.00" rx="12.38" ry="18.20" fill="#fff" stroke="#111" stroke-width="1.5" /><ellipse cx="0.50" cy="0.00" rx="8.74" ry="14.10" fill="#fff" stroke="#111" stroke-width="1.5" /></g>
<g transform="translate(571.00,282.00) rotate(-15)"><ellipse cx="12.00" cy="0.00" rx="13.05" ry="21.40" fill="#fff" stroke="#111" stroke-width="1.2" /><rect x="0" y="-21.4" width="12" height="42.8" fill="#fff"/><line x1="0.00" y1="-21.40" x2="12.00" y2="-21.40" stroke="#111" stroke-width="1.2" /><line x1="0.00" y1="21.40" x2="12.00" y2="21.40" stroke="#111" stroke-width="1.2" /><ellipse cx="0.00" cy="0.00" rx="13.05" ry="21.40" fill="#fff" stroke="#111" stroke-width="1.4" /><ellipse cx="0.00" cy="0.00" rx="11.71" ry="19.20" fill="#fff" stroke="#111" stroke-width="0.9" /><path d="M6.24,-14.67 L7.29,-15.18 L8.35,-15.46 L9.43,-15.48 L10.50,-15.26 L11.55,-14.79 L12.56,-14.08 L13.51,-13.15 L14.39,-12.01 L15.18,-10.68 L15.87,-9.17 L16.45,-7.52 L16.92,-5.75 L17.25,-3.88 L17.46,-1.96 L17.52,0.00 L17.46,1.96 L17.25,3.88 L16.92,5.75 L16.45,7.52 L15.87,9.17 L15.18,10.68 L14.39,12.01 L13.51,13.15 L12.56,14.08 L11.55,14.79 L10.50,15.26 L9.43,15.48 L8.35,15.46 L7.29,15.18 L6.24,14.67" fill="none" stroke="#111" stroke-width="1.1" /><path d="M0.00,16.00 L9.00,13.90 L9.00,17.10 L0.00,20.00Z" fill="#fff" stroke="#111" stroke-width="1.0" /><line x1="1.50" y1="18.00" x2="8.00" y2="15.50" stroke="#999" stroke-width="0.9" /><path d="M-3.76,14.91 L6.08,12.97 L6.08,16.17 L-3.76,18.91Z" fill="#fff" stroke="#111" stroke-width="1.0" /><line x1="-2.26" y1="16.91" x2="5.08" y2="14.57" stroke="#999" stroke-width="0.9" /><path d="M-7.06,11.79 L3.52,10.27 L3.52,13.47 L-7.06,15.79Z" fill="#fff" stroke="#111" stroke-width="1.0" /><line x1="-5.56" y1="13.79" x2="2.52" y2="11.87" stroke="#999" stroke-width="0.9" /><path d="M-9.51,7.00 L1.62,6.15 L1.62,9.35 L-9.51,11.00Z" fill="#fff" stroke="#111" stroke-width="1.0" /><line x1="-8.01" y1="9.00" x2="0.62" y2="7.75" stroke="#999" stroke-width="0.9" /><path d="M-10.81,1.13 L0.60,1.09 L0.60,4.29 L-10.81,5.13Z" fill="#fff" stroke="#111" stroke-width="1.0" /><line x1="-9.31" y1="3.13" x2="-0.40" y2="2.69" stroke="#999" stroke-width="0.9" /><path d="M-10.81,-5.13 L0.60,-4.29 L0.60,-1.09 L-10.81,-1.13Z" fill="#fff" stroke="#111" stroke-width="1.0" /><line x1="-9.31" y1="-3.13" x2="-0.40" y2="-2.69" stroke="#999" stroke-width="0.9" /><path d="M-9.51,-11.00 L1.62,-9.35 L1.62,-6.15 L-9.51,-7.00Z" fill="#fff" stroke="#111" stroke-width="1.0" /><line x1="-8.01" y1="-9.00" x2="0.62" y2="-7.75" stroke="#999" stroke-width="0.9" /><path d="M-7.06,-15.79 L3.52,-13.47 L3.52,-10.27 L-7.06,-11.79Z" fill="#fff" stroke="#111" stroke-width="1.0" /><line x1="-5.56" y1="-13.79" x2="2.52" y2="-11.87" stroke="#999" stroke-width="0.9" /><path d="M-3.76,-18.91 L6.08,-16.17 L6.08,-12.97 L-3.76,-14.91Z" fill="#fff" stroke="#111" stroke-width="1.0" /><line x1="-2.26" y1="-16.91" x2="5.08" y2="-14.57" stroke="#999" stroke-width="0.9" /><path d="M-0.00,-20.00 L9.00,-17.10 L9.00,-13.90 L-0.00,-16.00Z" fill="#fff" stroke="#111" stroke-width="1.0" /><line x1="1.50" y1="-18.00" x2="8.00" y2="-15.50" stroke="#999" stroke-width="0.9" /><path d="M-1.96,17.71 L-2.96,17.34 L-3.93,16.81 L-4.87,16.14 L-5.76,15.32 L-6.61,14.37 L-7.40,13.30 L-8.12,12.11 L-8.77,10.82 L-9.35,9.43 L-9.85,7.96 L-10.26,6.42 L-10.58,4.83 L-10.81,3.19 L-10.94,1.53 L-10.98,-0.15 L-10.92,-1.83 L-10.77,-3.49 L-10.53,-5.12 L-10.19,-6.71 L-9.76,-8.23 L-9.25,-9.69 L-8.66,-11.06 L-8.00,-12.34 L-7.26,-13.50 L-6.46,-14.55 L-5.60,-15.48 L-4.70,-16.27 L-3.76,-16.91 L-2.78,-17.41 L-1.78,-17.76" fill="none" stroke="#111" stroke-width="1.0" /></g>
<g transform="translate(418.50,427.30) rotate(-15)"><ellipse cx="94.00" cy="0.00" rx="4.20" ry="7.00" fill="#fff" stroke="#111" stroke-width="1.2" /><rect x="0" y="-7" width="94" height="14" fill="#fff"/><line x1="0.00" y1="-7.00" x2="94.00" y2="-7.00" stroke="#111" stroke-width="1.2" /><line x1="0.00" y1="7.00" x2="94.00" y2="7.00" stroke="#111" stroke-width="1.2" /><path d="M18,-7 Q20,0 18,7" fill="none" stroke="#111" stroke-width="1.2" /><path d="M48,-7 Q50,0 48,7" fill="none" stroke="#111" stroke-width="1.2" /><ellipse cx="0.00" cy="0.00" rx="4.20" ry="7.00" fill="#fff" stroke="#111" stroke-width="1.3" /><ellipse cx="0.00" cy="0.00" rx="2.00" ry="3.00" fill="#fff" stroke="#111" stroke-width="1.2" /></g>
<g transform="translate(433.00,396.00) rotate(-15)"><ellipse cx="7.00" cy="0.00" rx="5.48" ry="8.30" fill="#222" stroke="#111" stroke-width="1.4" /><rect x="0" y="-8.3" width="7" height="16.6" fill="#222"/><path d="M1.52,-7.98 L6.92,-7.98 L8.30,-7.44 L2.90,-7.44Z" fill="#fff" stroke="#111" stroke-width="0.8" /><path d="M2.90,7.44 L8.30,7.44 L6.92,7.98 L1.52,7.98Z" fill="#fff" stroke="#111" stroke-width="0.8" /><path d="M4.13,-6.39 L9.53,-6.39 L10.55,-4.90 L5.15,-4.90Z" fill="#fff" stroke="#111" stroke-width="0.8" /><path d="M5.15,4.90 L10.55,4.90 L9.53,6.39 L4.13,6.39Z" fill="#fff" stroke="#111" stroke-width="0.8" /><path d="M5.86,-3.08 L11.26,-3.08 L11.63,-1.05 L6.23,-1.05Z" fill="#fff" stroke="#111" stroke-width="0.8" /><path d="M6.23,1.05 L11.63,1.05 L11.26,3.08 L5.86,3.08Z" fill="#fff" stroke="#111" stroke-width="0.8" /><line x1="0.00" y1="-8.30" x2="7.00" y2="-8.30" stroke="#111" stroke-width="1.4" /><line x1="0.00" y1="8.30" x2="7.00" y2="8.30" stroke="#111" stroke-width="1.4" /><ellipse cx="0.00" cy="0.00" rx="5.48" ry="8.30" fill="#fff" stroke="#111" stroke-width="1.4" /><ellipse cx="0.00" cy="0.00" rx="3.83" ry="5.80" fill="#fff" stroke="#111" stroke-width="1.4" /><path d="M-0.43,5.53 L4.86,4.98 L3.94,4.60 L-1.45,5.12Z" fill="#fff" stroke="#111" stroke-width="0.8" /><path d="M-2.20,4.46 L3.27,4.02 L2.60,3.00 L-2.94,3.33Z" fill="#fff" stroke="#111" stroke-width="0.8" /><path d="M-3.38,2.20 L2.21,1.98 L1.97,0.59 L-3.65,0.65Z" fill="#fff" stroke="#111" stroke-width="0.8" /><path d="M-3.65,-0.65 L1.97,-0.59 L2.21,-1.98 L-3.38,-2.20Z" fill="#fff" stroke="#111" stroke-width="0.8" /><path d="M-2.94,-3.33 L2.60,-3.00 L3.27,-4.02 L-2.20,-4.46Z" fill="#fff" stroke="#111" stroke-width="0.8" /><path d="M-1.45,-5.12 L3.94,-4.60 L4.86,-4.98 L-0.43,-5.53Z" fill="#fff" stroke="#111" stroke-width="0.8" /><path d="M4.66,-4.93 L5.24,-5.01 L5.81,-4.94 L6.37,-4.71 L6.90,-4.35 L7.37,-3.85 L7.78,-3.23 L8.11,-2.51 L8.36,-1.72 L8.51,-0.87 L8.56,0.00 L8.51,0.87 L8.36,1.72 L8.11,2.51 L7.78,3.23 L7.37,3.85 L6.90,4.35 L6.37,4.71 L5.81,4.94 L5.24,5.01 L4.66,4.93" fill="none" stroke="#111" stroke-width="0.9" /></g>
<g transform="translate(454.00,390.50) rotate(-15)"><ellipse cx="7.00" cy="0.00" rx="5.48" ry="8.30" fill="#222" stroke="#111" stroke-width="1.4" /><rect x="0" y="-8.3" width="7" height="16.6" fill="#222"/><path d="M1.52,-7.98 L6.92,-7.98 L8.30,-7.44 L2.90,-7.44Z" fill="#fff" stroke="#111" stroke-width="0.8" /><path d="M2.90,7.44 L8.30,7.44 L6.92,7.98 L1.52,7.98Z" fill="#fff" stroke="#111" stroke-width="0.8" /><path d="M4.13,-6.39 L9.53,-6.39 L10.55,-4.90 L5.15,-4.90Z" fill="#fff" stroke="#111" stroke-width="0.8" /><path d="M5.15,4.90 L10.55,4.90 L9.53,6.39 L4.13,6.39Z" fill="#fff" stroke="#111" stroke-width="0.8" /><path d="M5.86,-3.08 L11.26,-3.08 L11.63,-1.05 L6.23,-1.05Z" fill="#fff" stroke="#111" stroke-width="0.8" /><path d="M6.23,1.05 L11.63,1.05 L11.26,3.08 L5.86,3.08Z" fill="#fff" stroke="#111" stroke-width="0.8" /><line x1="0.00" y1="-8.30" x2="7.00" y2="-8.30" stroke="#111" stroke-width="1.4" /><line x1="0.00" y1="8.30" x2="7.00" y2="8.30" stroke="#111" stroke-width="1.4" /><ellipse cx="0.00" cy="0.00" rx="5.48" ry="8.30" fill="#fff" stroke="#111" stroke-width="1.4" /><ellipse cx="0.00" cy="0.00" rx="3.83" ry="5.80" fill="#fff" stroke="#111" stroke-width="1.4" /><path d="M-0.43,5.53 L4.86,4.98 L3.94,4.60 L-1.45,5.12Z" fill="#fff" stroke="#111" stroke-width="0.8" /><path d="M-2.20,4.46 L3.27,4.02 L2.60,3.00 L-2.94,3.33Z" fill="#fff" stroke="#111" stroke-width="0.8" /><path d="M-3.38,2.20 L2.21,1.98 L1.97,0.59 L-3.65,0.65Z" fill="#fff" stroke="#111" stroke-width="0.8" /><path d="M-3.65,-0.65 L1.97,-0.59 L2.21,-1.98 L-3.38,-2.20Z" fill="#fff" stroke="#111" stroke-width="0.8" /><path d="M-2.94,-3.33 L2.60,-3.00 L3.27,-4.02 L-2.20,-4.46Z" fill="#fff" stroke="#111" stroke-width="0.8" /><path d="M-1.45,-5.12 L3.94,-4.60 L4.86,-4.98 L-0.43,-5.53Z" fill="#fff" stroke="#111" stroke-width="0.8" /><path d="M4.66,-4.93 L5.24,-5.01 L5.81,-4.94 L6.37,-4.71 L6.90,-4.35 L7.37,-3.85 L7.78,-3.23 L8.11,-2.51 L8.36,-1.72 L8.51,-0.87 L8.56,0.00 L8.51,0.87 L8.36,1.72 L8.11,2.51 L7.78,3.23 L7.37,3.85 L6.90,4.35 L6.37,4.71 L5.81,4.94 L5.24,5.01 L4.66,4.93" fill="none" stroke="#111" stroke-width="0.9" /></g>
<path d="M434.5,434 L443,440 A1.8,1.8 0 0 1 441,443 L432.5,437 A1.8,1.8 0 0 1 434.5,434Z" fill="#fff" stroke="#111" stroke-width="1.2" />
<g transform="translate(520.70,398.40) rotate(-15)"><path d="M1.78,-8.35 L2.49,-7.89 L3.16,-7.28 L3.77,-6.54 L4.31,-5.67 L4.76,-4.69 L5.13,-3.63 L5.40,-2.50 L5.57,-1.32 L5.63,-0.11 L5.59,1.10 L5.44,2.28 L5.19,3.43 L4.84,4.51 L4.40,5.50 L3.87,6.39 L3.28,7.16 L2.62,7.79 L1.91,8.28 L1.16,8.61 L0.40,8.78 L-0.38,8.78 L-1.14,8.62 L-1.89,8.29 L-2.60,7.81 L-3.26,7.18 L-3.86,6.41 L-4.38,5.53 L-4.83,4.54 L-5.18,3.46 L-5.43,2.32 L-5.59,1.13 L-5.63,-0.07 L-5.57,-1.28 L-5.41,-2.46 L-5.14,-3.60 L-4.78,-4.66 L-4.32,-5.64 L-3.79,-6.51 L-3.18,-7.26 L-2.51,-7.88" fill="none" stroke="#111" stroke-width="1.4" /><path d="M1.43,-6.74 L2.01,-6.37 L2.55,-5.88 L3.04,-5.28 L3.48,-4.57 L3.84,-3.79 L4.14,-2.93 L4.36,-2.01 L4.49,-1.06 L4.54,-0.09 L4.51,0.89 L4.39,1.84 L4.19,2.76 L3.90,3.64 L3.55,4.44 L3.12,5.15 L2.64,5.78 L2.11,6.29 L1.54,6.68 L0.94,6.95 L0.32,7.08 L-0.30,7.08 L-0.92,6.95 L-1.52,6.69 L-2.10,6.30 L-2.63,5.79 L-3.11,5.17 L-3.54,4.46 L-3.89,3.66 L-4.18,2.79 L-4.38,1.87 L-4.51,0.91 L-4.54,-0.06 L-4.50,-1.03 L-4.36,-1.99 L-4.15,-2.90 L-3.85,-3.76 L-3.49,-4.55 L-3.06,-5.26 L-2.57,-5.86 L-2.03,-6.35" fill="none" stroke="#111" stroke-width="1.1199999999999999" /><circle cx="1.60" cy="-7.54" r="1.5" fill="#fff" stroke="#111" stroke-width="1.2"/><circle cx="-2.27" cy="-7.12" r="1.5" fill="#fff" stroke="#111" stroke-width="1.2"/></g>
<g transform="translate(537.80,394.40) rotate(-15)"><ellipse cx="0.00" cy="0.00" rx="8.70" ry="11.40" fill="#fff" stroke="#111" stroke-width="1.5" /><ellipse cx="0.50" cy="0.00" rx="4.50" ry="6.90" fill="#fff" stroke="#111" stroke-width="1.6" /></g>
<g transform="translate(551.90,391.40) rotate(-15)"><path d="M0.72,-9.43 L1.54,-9.18 L2.34,-8.75 L3.08,-8.14 L3.77,-7.38 L4.38,-6.48 L4.91,-5.44 L5.34,-4.30 L5.66,-3.08 L5.88,-1.79 L5.98,-0.47 L5.96,0.85 L5.83,2.17 L5.58,3.44 L5.22,4.64 L4.76,5.75 L4.21,6.75 L3.58,7.62 L2.87,8.33 L2.11,8.89 L1.31,9.27 L0.48,9.47 L-0.35,9.48 L-1.18,9.31 L-1.99,8.96 L-2.76,8.43 L-3.47,7.74 L-4.12,6.89 L-4.69,5.91 L-5.16,4.82 L-5.53,3.63 L-5.80,2.36 L-5.95,1.06 L-5.98,-0.27 L-5.90,-1.59 L-5.70,-2.88 L-5.39,-4.12 L-4.98,-5.27 L-4.47,-6.32 L-3.87,-7.25 L-3.19,-8.04" fill="none" stroke="#111" stroke-width="1.4" /><path d="M0.59,-7.74 L1.27,-7.54 L1.92,-7.18 L2.53,-6.69 L3.09,-6.06 L3.60,-5.32 L4.03,-4.47 L4.38,-3.53 L4.65,-2.53 L4.83,-1.47 L4.91,-0.39 L4.89,0.70 L4.78,1.78 L4.58,2.82 L4.29,3.81 L3.91,4.72 L3.46,5.54 L2.94,6.25 L2.36,6.84 L1.73,7.30 L1.08,7.61 L0.40,7.77 L-0.29,7.79 L-0.97,7.65 L-1.64,7.36 L-2.27,6.92 L-2.85,6.35 L-3.38,5.66 L-3.85,4.85 L-4.24,3.95 L-4.54,2.98 L-4.76,1.94 L-4.88,0.87 L-4.91,-0.22 L-4.84,-1.31 L-4.68,-2.37 L-4.43,-3.38 L-4.09,-4.33 L-3.67,-5.19 L-3.17,-5.95 L-2.62,-6.60" fill="none" stroke="#111" stroke-width="1.1199999999999999" /></g>
<g transform="translate(576.50,383.50) rotate(-15)"><path d="M28.00,0.00 L27.95,1.74 L27.95,1.74 L27.82,3.47 L25.81,2.88 L25.62,4.30 L25.62,4.30 L25.36,5.68 L27.28,6.84 L26.88,8.45 L26.88,8.45 L26.39,10.00 L24.63,8.30 L24.16,9.52 L24.16,9.52 L23.63,10.67 L25.19,12.86 L24.49,14.14 L24.49,14.14 L23.71,15.32 L22.40,12.72 L21.71,13.60 L21.71,13.60 L20.98,14.38 L22.00,17.32 L21.07,18.13 L21.07,18.13 L20.10,18.79 L19.41,15.60 L18.58,16.03 L18.58,16.03 L17.73,16.35 L18.08,19.70 L17.05,19.92 L17.05,19.92 L16.00,20.00 L16.00,16.60 L15.13,16.54 L15.13,16.54 L14.27,16.35 L13.92,19.70 L12.89,19.32 L12.89,19.32 L11.90,18.79 L12.59,15.60 L11.79,15.04 L11.79,15.04 L11.02,14.38 L10.00,17.32 L9.12,16.38 L9.12,16.38 L8.29,15.32 L9.60,12.72 L8.96,11.74 L8.96,11.74 L8.37,10.67 L6.81,12.86 L6.17,11.47 L6.17,11.47 L5.61,10.00 L7.37,8.30 L6.97,7.02 L6.97,7.02 L6.64,5.68 L4.72,6.84 L4.41,5.18 L4.41,5.18 L4.18,3.47 L6.19,2.88 L6.08,1.45 L6.08,1.45 L6.04,0.00 L4.00,0.00 L4.05,-1.74 L4.05,-1.74 L4.18,-3.47 L6.19,-2.88 L6.38,-4.30 L6.38,-4.30 L6.64,-5.68 L4.72,-6.84 L5.12,-8.45 L5.12,-8.45 L5.61,-10.00 L7.37,-8.30 L7.84,-9.52 L7.84,-9.52 L8.37,-10.67 L6.81,-12.86 L7.51,-14.14 L7.51,-14.14 L8.29,-15.32 L9.60,-12.72 L10.29,-13.60 L10.29,-13.60 L11.02,-14.38 L10.00,-17.32 L10.93,-18.13 L10.93,-18.13 L11.90,-18.79 L12.59,-15.60 L13.42,-16.03 L13.42,-16.03 L14.27,-16.35 L13.92,-19.70 L14.95,-19.92 L14.95,-19.92 L16.00,-20.00 L16.00,-16.60 L16.87,-16.54 L16.87,-16.54 L17.73,-16.35 L18.08,-19.70 L19.11,-19.32 L19.11,-19.32 L20.10,-18.79 L19.41,-15.60 L20.21,-15.04 L20.21,-15.04 L20.98,-14.38 L22.00,-17.32 L22.88,-16.38 L22.88,-16.38 L23.71,-15.32 L22.40,-12.72 L23.04,-11.74 L23.04,-11.74 L23.63,-10.67 L25.19,-12.86 L25.83,-11.47 L25.83,-11.47 L26.39,-10.00 L24.63,-8.30 L25.03,-7.02 L25.03,-7.02 L25.36,-5.68 L27.28,-6.84 L27.59,-5.18 L27.59,-5.18 L27.82,-3.47 L25.81,-2.88 L25.92,-1.45 L25.92,-1.45 L25.96,-0.00Z" fill="#fff" stroke="#111" stroke-width="1.1" /><rect x="0" y="-20" width="16" height="40" fill="#fff"/><line x1="9.62" y1="4.30" x2="25.62" y2="4.30" stroke="#222" stroke-width="1.3" /><line x1="8.16" y1="9.52" x2="24.16" y2="9.52" stroke="#222" stroke-width="1.3" /><line x1="5.71" y1="13.60" x2="21.71" y2="13.60" stroke="#222" stroke-width="1.3" /><line x1="2.58" y1="16.03" x2="18.58" y2="16.03" stroke="#222" stroke-width="1.3" /><line x1="-0.87" y1="16.54" x2="15.13" y2="16.54" stroke="#222" stroke-width="1.3" /><line x1="-2.58" y1="-16.03" x2="13.42" y2="-16.03" stroke="#222" stroke-width="1.3" /><line x1="0.87" y1="-16.54" x2="16.87" y2="-16.54" stroke="#222" stroke-width="1.3" /><line x1="4.21" y1="-15.04" x2="20.21" y2="-15.04" stroke="#222" stroke-width="1.3" /><line x1="7.04" y1="-11.74" x2="23.04" y2="-11.74" stroke="#222" stroke-width="1.3" /><line x1="9.03" y1="-7.02" x2="25.03" y2="-7.02" stroke="#222" stroke-width="1.3" /><line x1="9.92" y1="-1.45" x2="25.92" y2="-1.45" stroke="#222" stroke-width="1.3" /><path d="M-1.84,19.76 L14.16,19.76 L11.66,18.65 L-4.34,18.65Z" fill="#fff" stroke="#111" stroke-width="1.15" /><path d="M-2.33,-19.62 L13.67,-19.62 L16.25,-20.00 L0.25,-20.00Z" fill="#fff" stroke="#111" stroke-width="1.15" /><path d="M2.33,19.62 L18.33,19.62 L15.75,20.00 L-0.25,20.00Z" fill="#fff" stroke="#111" stroke-width="1.15" /><path d="M1.84,-19.76 L17.84,-19.76 L20.34,-18.65 L4.34,-18.65Z" fill="#fff" stroke="#111" stroke-width="1.15" /><path d="M6.22,17.11 L22.22,17.11 L19.87,18.93 L3.87,18.93Z" fill="#fff" stroke="#111" stroke-width="1.15" /><line x1="6.57" y1="18.13" x2="19.57" y2="18.13" stroke="#b4b4b4" stroke-width="0.6" /><path d="M5.78,-17.53 L21.78,-17.53 L23.90,-15.05 L7.90,-15.05Z" fill="#fff" stroke="#111" stroke-width="1.15" /><line x1="8.38" y1="-16.38" x2="21.38" y2="-16.38" stroke="#b4b4b4" stroke-width="0.7433506268888379" /><path d="M9.35,12.53 L25.35,12.53 L23.52,15.59 L7.52,15.59Z" fill="#fff" stroke="#111" stroke-width="1.15" /><line x1="9.99" y1="14.14" x2="22.99" y2="14.14" stroke="#b4b4b4" stroke-width="0.9164049214020822" /><path d="M9.03,-13.17 L25.03,-13.17 L26.52,-9.64 L10.52,-9.64Z" fill="#fff" stroke="#111" stroke-width="1.15" /><line x1="11.33" y1="-11.47" x2="24.33" y2="-11.47" stroke="#b4b4b4" stroke-width="1.0616147161017948" /><path d="M11.36,6.45 L27.36,6.45 L26.26,10.36 L10.26,10.36Z" fill="#fff" stroke="#111" stroke-width="1.15" /><line x1="12.38" y1="8.45" x2="25.38" y2="8.45" stroke="#b4b4b4" stroke-width="1.1745678848557146" /><path d="M11.19,-7.23 L27.19,-7.23 L27.86,-3.06 L11.86,-3.06Z" fill="#fff" stroke="#111" stroke-width="1.15" /><line x1="13.09" y1="-5.18" x2="26.09" y2="-5.18" stroke="#b4b4b4" stroke-width="1.2518324027883296" /><path d="M12.00,-0.42 L28.00,-0.42 L27.77,3.88 L11.77,3.88Z" fill="#fff" stroke="#111" stroke-width="1.15" /><line x1="13.45" y1="1.74" x2="26.45" y2="1.74" stroke="#b4b4b4" stroke-width="1.2910606266199733" /><line x1="0.00" y1="-20.00" x2="16.00" y2="-20.00" stroke="#111" stroke-width="1.1" /><line x1="0.00" y1="20.00" x2="16.00" y2="20.00" stroke="#111" stroke-width="1.1" /><path d="M12.00,0.00 L11.95,1.74 L11.95,1.74 L11.82,3.47 L9.81,2.88 L9.62,4.30 L9.62,4.30 L9.36,5.68 L11.28,6.84 L10.88,8.45 L10.88,8.45 L10.39,10.00 L8.63,8.30 L8.16,9.52 L8.16,9.52 L7.63,10.67 L9.19,12.86 L8.49,14.14 L8.49,14.14 L7.71,15.32 L6.40,12.72 L5.71,13.60 L5.71,13.60 L4.98,14.38 L6.00,17.32 L5.07,18.13 L5.07,18.13 L4.10,18.79 L3.41,15.60 L2.58,16.03 L2.58,16.03 L1.73,16.35 L2.08,19.70 L1.05,19.92 L1.05,19.92 L0.00,20.00 L0.00,16.60 L-0.87,16.54 L-0.87,16.54 L-1.73,16.35 L-2.08,19.70 L-3.11,19.32 L-3.11,19.32 L-4.10,18.79 L-3.41,15.60 L-4.21,15.04 L-4.21,15.04 L-4.98,14.38 L-6.00,17.32 L-6.88,16.38 L-6.88,16.38 L-7.71,15.32 L-6.40,12.72 L-7.04,11.74 L-7.04,11.74 L-7.63,10.67 L-9.19,12.86 L-9.83,11.47 L-9.83,11.47 L-10.39,10.00 L-8.63,8.30 L-9.03,7.02 L-9.03,7.02 L-9.36,5.68 L-11.28,6.84 L-11.59,5.18 L-11.59,5.18 L-11.82,3.47 L-9.81,2.88 L-9.92,1.45 L-9.92,1.45 L-9.96,0.00 L-12.00,0.00 L-11.95,-1.74 L-11.95,-1.74 L-11.82,-3.47 L-9.81,-2.88 L-9.62,-4.30 L-9.62,-4.30 L-9.36,-5.68 L-11.28,-6.84 L-10.88,-8.45 L-10.88,-8.45 L-10.39,-10.00 L-8.63,-8.30 L-8.16,-9.52 L-8.16,-9.52 L-7.63,-10.67 L-9.19,-12.86 L-8.49,-14.14 L-8.49,-14.14 L-7.71,-15.32 L-6.40,-12.72 L-5.71,-13.60 L-5.71,-13.60 L-4.98,-14.38 L-6.00,-17.32 L-5.07,-18.13 L-5.07,-18.13 L-4.10,-18.79 L-3.41,-15.60 L-2.58,-16.03 L-2.58,-16.03 L-1.73,-16.35 L-2.08,-19.70 L-1.05,-19.92 L-1.05,-19.92 L-0.00,-20.00 L-0.00,-16.60 L0.87,-16.54 L0.87,-16.54 L1.73,-16.35 L2.08,-19.70 L3.11,-19.32 L3.11,-19.32 L4.10,-18.79 L3.41,-15.60 L4.21,-15.04 L4.21,-15.04 L4.98,-14.38 L6.00,-17.32 L6.88,-16.38 L6.88,-16.38 L7.71,-15.32 L6.40,-12.72 L7.04,-11.74 L7.04,-11.74 L7.63,-10.67 L9.19,-12.86 L9.83,-11.47 L9.83,-11.47 L10.39,-10.00 L8.63,-8.30 L9.03,-7.02 L9.03,-7.02 L9.36,-5.68 L11.28,-6.84 L11.59,-5.18 L11.59,-5.18 L11.82,-3.47 L9.81,-2.88 L9.92,-1.45 L9.92,-1.45 L9.96,-0.00Z" fill="#fff" stroke="#111" stroke-width="1.1" /><ellipse cx="0.00" cy="0.00" rx="7.48" ry="11.00" fill="#fff" stroke="#111" stroke-width="1.2" /><rect x="-9" y="-11" width="9" height="22" fill="#fff"/><line x1="-9.00" y1="-11.00" x2="0.00" y2="-11.00" stroke="#111" stroke-width="1.2" /><line x1="-9.00" y1="11.00" x2="0.00" y2="11.00" stroke="#111" stroke-width="1.2" /><ellipse cx="-9.00" cy="0.00" rx="7.48" ry="11.00" fill="#fff" stroke="#111" stroke-width="1.4" /><ellipse cx="-9.00" cy="0.00" rx="4.90" ry="7.00" fill="#fff" stroke="#111" stroke-width="1.3" /><path d="M-13.74,-1.79 L-13.54,-2.62 L-13.28,-3.41 L-12.95,-4.14 L-12.56,-4.81 L-12.11,-5.41 L-11.61,-5.92 L-11.08,-6.34 L-10.51,-6.66 L-9.91,-6.88 L-9.31,-6.99 L-8.69,-6.99 L-8.09,-6.88" fill="none" stroke="#111" stroke-width="2.2" /><path d="M-3,12 L6,11 L7,17 L-1,18Z" fill="#111" stroke="#111" stroke-width="0.5" /></g>
<g transform="translate(632.50,368.40) rotate(-15)"><path d="M1.92,-8.11 L2.58,-7.60 L3.19,-6.95 L3.74,-6.16 L4.22,-5.27 L4.63,-4.27 L4.94,-3.19 L5.16,-2.05 L5.28,-0.87 L5.30,0.33 L5.23,1.51 L5.05,2.67 L4.78,3.78 L4.42,4.82 L3.97,5.77 L3.45,6.61 L2.87,7.32 L2.23,7.90 L1.55,8.32 L0.84,8.59 L0.11,8.70 L-0.62,8.64 L-1.33,8.42 L-2.03,8.04 L-2.68,7.51 L-3.28,6.84 L-3.82,6.04 L-4.29,5.12 L-4.68,4.11 L-4.98,3.02 L-5.18,1.87 L-5.29,0.69 L-5.30,-0.51 L-5.21,-1.69 L-5.01,-2.85 L-4.73,-3.95 L-4.35,-4.97 L-3.90,-5.90 L-3.37,-6.72 L-2.77,-7.42 L-2.13,-7.97" fill="none" stroke="#111" stroke-width="1.4" /><path d="M1.55,-6.52 L2.08,-6.12 L2.57,-5.59 L3.01,-4.96 L3.40,-4.24 L3.72,-3.43 L3.97,-2.56 L4.15,-1.65 L4.25,-0.70 L4.27,0.26 L4.20,1.22 L4.06,2.15 L3.84,3.04 L3.55,3.88 L3.20,4.64 L2.78,5.32 L2.31,5.89 L1.79,6.35 L1.24,6.70 L0.67,6.91 L0.09,7.00 L-0.50,6.95 L-1.07,6.78 L-1.63,6.47 L-2.16,6.04 L-2.64,5.50 L-3.08,4.86 L-3.45,4.12 L-3.76,3.30 L-4.01,2.43 L-4.17,1.50 L-4.26,0.55 L-4.26,-0.41 L-4.19,-1.36 L-4.03,-2.29 L-3.81,-3.18 L-3.50,-4.00 L-3.14,-4.75 L-2.71,-5.41 L-2.23,-5.97 L-1.71,-6.41" fill="none" stroke="#111" stroke-width="1.1199999999999999" /><circle cx="1.74" cy="-7.32" r="1.5" fill="#fff" stroke="#111" stroke-width="1.2"/><circle cx="-1.92" cy="-7.19" r="1.5" fill="#fff" stroke="#111" stroke-width="1.2"/></g>
<g transform="translate(619.80,373.10) rotate(-15)"><ellipse cx="0.00" cy="0.00" rx="8.00" ry="11.40" fill="#fff" stroke="#111" stroke-width="1.5" /><ellipse cx="0.50" cy="0.00" rx="4.00" ry="7.40" fill="#fff" stroke="#111" stroke-width="1.6" /></g>
<g transform="translate(606.80,375.80) rotate(-15)"><path d="M0.60,-8.74 L1.30,-8.50 L1.97,-8.09 L2.60,-7.53 L3.18,-6.81 L3.69,-5.96 L4.13,-4.99 L4.49,-3.92 L4.76,-2.77 L4.94,-1.56 L5.01,-0.33 L4.99,0.91 L4.87,2.13 L4.65,3.32 L4.33,4.43 L3.94,5.46 L3.46,6.37 L2.91,7.16 L2.31,7.81 L1.66,8.30 L0.98,8.63 L0.27,8.79 L-0.43,8.77 L-1.13,8.57 L-1.81,8.21 L-2.45,7.68 L-3.04,7.00 L-3.57,6.18 L-4.03,5.23 L-4.41,4.18 L-4.70,3.05 L-4.90,1.86 L-5.00,0.63 L-5.00,-0.61 L-4.90,-1.84 L-4.71,-3.04 L-4.42,-4.17 L-4.04,-5.22 L-3.58,-6.16 L-3.05,-6.99 L-2.46,-7.67" fill="none" stroke="#111" stroke-width="1.4" /><path d="M0.49,-7.05 L1.05,-6.86 L1.59,-6.53 L2.10,-6.07 L2.56,-5.49 L2.98,-4.81 L3.33,-4.02 L3.62,-3.16 L3.84,-2.23 L3.98,-1.26 L4.04,-0.27 L4.03,0.74 L3.93,1.72 L3.75,2.67 L3.50,3.57 L3.18,4.40 L2.79,5.14 L2.35,5.78 L1.86,6.30 L1.34,6.70 L0.79,6.96 L0.22,7.09 L-0.35,7.07 L-0.91,6.92 L-1.46,6.62 L-1.98,6.19 L-2.45,5.64 L-2.88,4.98 L-3.25,4.22 L-3.56,3.37 L-3.80,2.46 L-3.96,1.50 L-4.04,0.51 L-4.04,-0.49 L-3.96,-1.49 L-3.80,-2.45 L-3.56,-3.36 L-3.26,-4.21 L-2.89,-4.97 L-2.46,-5.64 L-1.98,-6.19" fill="none" stroke="#111" stroke-width="1.1199999999999999" /></g>
<line x1="510.00" y1="321.00" x2="564.00" y2="364.00" stroke="#111" stroke-width="3" />
<path d="M632,109 C646,107 662,113 665,125 C666.5,133 659,140 649.3,144.4 L647.5,146 L638.4,146.1 L645.1,137.8 L646.4,139.4 C655,135 661,130 662,125.5 C660,118 648,114 632,114 Q629.5,111.5 632,109Z" fill="#fff" stroke="#111" stroke-width="1.1" />
<path d="M665,125 C666.5,133 659,140 649.3,144.4 L647.5,146 L638.4,146.1 L645.1,137.8 L646.4,139.4 C655,135 661,130 662,125.5 Z" fill="#111" stroke="#111" stroke-width="0.9" />
<path d="M194.5,341.5 C186,343 178,348 175,357.5 C173,366 180,372 188,375 C194,377 200,377.5 204,377.5 L205.2,381 L214.8,376 L204.3,371 L204,373 C197,373 190,371 186,368.5 C179,364 176,360 178,356 C180,351 188,347.5 196.4,346.3 Q197.5,343 194.5,341.5 Z" fill="#fff" stroke="#111" stroke-width="1.1" />
<path d="M175,357.5 C173,366 180,372 188,375 C194,377 200,377.5 204,377.5 L205.2,381 L214.8,376 L204.3,371 L204,373 C197,373 190,371 186,368.5 C180,365 177,362 177,358 Z" fill="#111" stroke="#111" stroke-width="0.9" />
<line x1="0" y1="535" x2="67" y2="535" stroke="#111" stroke-width="2"/>
<line x1="154" y1="535" x2="900" y2="535" stroke="#111" stroke-width="2"/>
<line x1="225" y1="535" x2="225" y2="597" stroke="#111" stroke-width="1.6"/>
<line x1="709" y1="537" x2="709" y2="597" stroke="#111" stroke-width="1.6"/>
<line x1="712" y1="558" x2="900" y2="558" stroke="#333" stroke-width="1"/>
<line x1="712" y1="576" x2="900" y2="576" stroke="#333" stroke-width="1"/>
<text x="241" y="569.7" class="tt" style="font-size:11.6px" textLength="221" lengthAdjust="spacingAndGlyphs">RUOTISMI ALBERO PRIMARIO CAMBIO</text>
<text x="714.5" y="553.8" class="tt" style="font-size:16.5px" textLength="32.7" lengthAdjust="spacingAndGlyphs">TAV.</text>
<text x="757.5" y="553.8" class="tt" style="font-size:19.5px" textLength="21.2" lengthAdjust="spacingAndGlyphs">25</text>
<text x="714.5" y="571.8" class="tt" style="font-size:10.6px;font-weight:normal;stroke:#111;stroke-width:.35" textLength="117.4" lengthAdjust="spacingAndGlyphs">ESPONENTE MODIFICA :</text>
<text x="714.5" y="590" class="tt" style="font-size:10.6px;font-weight:normal;stroke:#111;stroke-width:.35" textLength="31.5" lengthAdjust="spacingAndGlyphs">DATA :</text>
<text x="757.7" y="589.5" class="tt" style="font-size:12px" textLength="81.6" lengthAdjust="spacingAndGlyphs">GIUGNO 1980</text>
<text x="81.8" y="541" style="font-family:'Liberation Serif',serif;font-weight:bold;font-size:25.5px;stroke:#111;stroke-width:0.3" fill="#111" textLength="61.8" lengthAdjust="spacingAndGlyphs">errarı</text>
<rect x="71.8" y="525.7" width="64" height="1.7" fill="#111"/>
<rect x="71.8" y="525.4" width="8" height="2.4" fill="#111"/>
<rect x="138.2" y="525.8" width="4.9" height="1.6" fill="#111"/>
<rect x="73.3" y="526" width="4.4" height="15" fill="#111"/>
<rect x="71.3" y="539.3" width="7.8" height="1.8" fill="#111"/>
<path d="M77.5,531.4 L80,531.6 L79.6,534.6 L77.5,534.4Z" fill="#111"/>
<path d="M33.0,552.6 H46.3 A3.6,3.6 0 0 1 49.9,556.2 A3.6,3.6 0 0 1 46.3,559.9 H38.2 M46.3,559.9 A3.6,3.6 0 0 1 49.9,563.5 A3.6,3.6 0 0 1 46.3,567.2 H33.0 M61.1,552.6 H68.9 A3.6,3.6 0 0 1 72.5,556.2 V563.6 A3.6,3.6 0 0 1 68.9,567.2 H61.1 A3.6,3.6 0 0 1 57.5,563.6 V556.2 A3.6,3.6 0 0 1 61.1,552.6Z M82.8,552.6 H92.00000000000001 A3.6,3.6 0 0 1 92.00000000000001,559.9 H82.8 A3.6,3.6 0 0 1 82.8,552.6Z M82.8,559.9 H92.00000000000001 A3.6,3.6 0 0 1 92.00000000000001,567.2 H82.8 A3.6,3.6 0 0 1 82.8,559.9Z" fill="none" stroke="#111" stroke-width="4.7" stroke-linejoin="round" stroke-linecap="round"/>
<path d="M33.0,552.6 H46.3 A3.6,3.6 0 0 1 49.9,556.2 A3.6,3.6 0 0 1 46.3,559.9 H38.2 M46.3,559.9 A3.6,3.6 0 0 1 49.9,563.5 A3.6,3.6 0 0 1 46.3,567.2 H33.0 M61.1,552.6 H68.9 A3.6,3.6 0 0 1 72.5,556.2 V563.6 A3.6,3.6 0 0 1 68.9,567.2 H61.1 A3.6,3.6 0 0 1 57.5,563.6 V556.2 A3.6,3.6 0 0 1 61.1,552.6Z M82.8,552.6 H92.00000000000001 A3.6,3.6 0 0 1 92.00000000000001,559.9 H82.8 A3.6,3.6 0 0 1 82.8,552.6Z M82.8,559.9 H92.00000000000001 A3.6,3.6 0 0 1 92.00000000000001,567.2 H82.8 A3.6,3.6 0 0 1 82.8,559.9Z" fill="none" stroke="#fff" stroke-width="0.6" stroke-linejoin="round" stroke-linecap="round"/>
<path d="M121.39999999999999,552.6 H134.7 A3.6,3.6 0 0 1 138.29999999999998,556.2 A3.6,3.6 0 0 1 134.7,559.9 H126.6 M134.7,559.9 A3.6,3.6 0 0 1 138.29999999999998,563.5 A3.6,3.6 0 0 1 134.7,567.2 H121.39999999999999 M149.5,552.6 H157.29999999999998 A3.6,3.6 0 0 1 160.89999999999998,556.2 V563.6 A3.6,3.6 0 0 1 157.29999999999998,567.2 H149.5 A3.6,3.6 0 0 1 145.9,563.6 V556.2 A3.6,3.6 0 0 1 149.5,552.6Z M171.2,552.6 H180.4 A3.6,3.6 0 0 1 180.4,559.9 H171.2 A3.6,3.6 0 0 1 171.2,552.6Z M171.2,559.9 H180.4 A3.6,3.6 0 0 1 180.4,567.2 H171.2 A3.6,3.6 0 0 1 171.2,559.9Z" fill="none" stroke="#111" stroke-width="4.7" stroke-linejoin="round" stroke-linecap="round"/>
<path d="M121.39999999999999,552.6 H134.7 A3.6,3.6 0 0 1 138.29999999999998,556.2 A3.6,3.6 0 0 1 134.7,559.9 H126.6 M134.7,559.9 A3.6,3.6 0 0 1 138.29999999999998,563.5 A3.6,3.6 0 0 1 134.7,567.2 H121.39999999999999 M149.5,552.6 H157.29999999999998 A3.6,3.6 0 0 1 160.89999999999998,556.2 V563.6 A3.6,3.6 0 0 1 157.29999999999998,567.2 H149.5 A3.6,3.6 0 0 1 145.9,563.6 V556.2 A3.6,3.6 0 0 1 149.5,552.6Z M171.2,552.6 H180.4 A3.6,3.6 0 0 1 180.4,559.9 H171.2 A3.6,3.6 0 0 1 171.2,552.6Z M171.2,559.9 H180.4 A3.6,3.6 0 0 1 180.4,567.2 H171.2 A3.6,3.6 0 0 1 171.2,559.9Z" fill="none" stroke="#fff" stroke-width="0.6" stroke-linejoin="round" stroke-linecap="round"/>
<path d="M49.7,577.4 A3.2,3.2 0 0 0 46.5,573.8 H37.300000000000004 A3.2,3.2 0 0 0 34.1,577.0 V585.0 A3.2,3.2 0 0 0 37.300000000000004,588.2 H46.5 A3.2,3.2 0 0 0 49.7,585.0 V581.2 H42.1 M55,573.8 H73.7 M64.35,573.8 V588.2 M78.6,573.8 H93.2 A3.6,3.6 0 0 1 93.2,581 H78.6 M93.2,581 A3.6,3.6 0 0 1 93.2,588.2 H78.6 V573.8" fill="none" stroke="#111" stroke-width="5.0" stroke-linejoin="round" stroke-linecap="round"/>
<path d="M49.7,577.4 A3.2,3.2 0 0 0 46.5,573.8 H37.300000000000004 A3.2,3.2 0 0 0 34.1,577.0 V585.0 A3.2,3.2 0 0 0 37.300000000000004,588.2 H46.5 A3.2,3.2 0 0 0 49.7,585.0 V581.2 H42.1 M55,573.8 H73.7 M64.35,573.8 V588.2 M78.6,573.8 H93.2 A3.6,3.6 0 0 1 93.2,581 H78.6 M93.2,581 A3.6,3.6 0 0 1 93.2,588.2 H78.6 V573.8" fill="none" stroke="#fff" stroke-width="3.1" stroke-linejoin="round" stroke-linecap="round"/>
<path d="M49.7,577.4 A3.2,3.2 0 0 0 46.5,573.8 H37.300000000000004 A3.2,3.2 0 0 0 34.1,577.0 V585.0 A3.2,3.2 0 0 0 37.300000000000004,588.2 H46.5 A3.2,3.2 0 0 0 49.7,585.0 V581.2 H42.1 M55,573.8 H73.7 M64.35,573.8 V588.2 M78.6,573.8 H93.2 A3.6,3.6 0 0 1 93.2,581 H78.6 M93.2,581 A3.6,3.6 0 0 1 93.2,588.2 H78.6 V573.8" fill="none" stroke="#555" stroke-width="0.55" stroke-linejoin="round" stroke-linecap="round"/>
<path d="M136.7,577.4 A3.2,3.2 0 0 0 133.5,573.8 H124.3 A3.2,3.2 0 0 0 121.1,577.0 V585.0 A3.2,3.2 0 0 0 124.3,588.2 H133.5 A3.2,3.2 0 0 0 136.7,585.0 V581.2 H129.1 M142.9,573.8 H161.6 M152.25,573.8 V588.2 M184.70000000000002,573.8 H170.0 A3.6,3.6 0 0 0 170.0,581 H181.10000000000002 A3.6,3.6 0 0 1 181.10000000000002,588.2 H166.4" fill="none" stroke="#111" stroke-width="5.0" stroke-linejoin="round" stroke-linecap="round"/>
<path d="M136.7,577.4 A3.2,3.2 0 0 0 133.5,573.8 H124.3 A3.2,3.2 0 0 0 121.1,577.0 V585.0 A3.2,3.2 0 0 0 124.3,588.2 H133.5 A3.2,3.2 0 0 0 136.7,585.0 V581.2 H129.1 M142.9,573.8 H161.6 M152.25,573.8 V588.2 M184.70000000000002,573.8 H170.0 A3.6,3.6 0 0 0 170.0,581 H181.10000000000002 A3.6,3.6 0 0 1 181.10000000000002,588.2 H166.4" fill="none" stroke="#fff" stroke-width="3.1" stroke-linejoin="round" stroke-linecap="round"/>
<path d="M136.7,577.4 A3.2,3.2 0 0 0 133.5,573.8 H124.3 A3.2,3.2 0 0 0 121.1,577.0 V585.0 A3.2,3.2 0 0 0 124.3,588.2 H133.5 A3.2,3.2 0 0 0 136.7,585.0 V581.2 H129.1 M142.9,573.8 H161.6 M152.25,573.8 V588.2 M184.70000000000002,573.8 H170.0 A3.6,3.6 0 0 0 170.0,581 H181.10000000000002 A3.6,3.6 0 0 1 181.10000000000002,588.2 H166.4" fill="none" stroke="#555" stroke-width="0.55" stroke-linejoin="round" stroke-linecap="round"/>
<text x="244" y="118.9" class="lb" style="font-size:12px" textLength="6.3" lengthAdjust="spacingAndGlyphs">8</text>
<text x="273" y="112.9" class="lb" style="font-size:12px" textLength="12.5" lengthAdjust="spacingAndGlyphs">11</text>
<text x="301" y="104.9" class="lb" style="font-size:12px" textLength="6.3" lengthAdjust="spacingAndGlyphs">5</text>
<text x="330" y="97.9" class="lb" style="font-size:12px" textLength="6.3" lengthAdjust="spacingAndGlyphs">2</text>
<text x="359" y="89.9" class="lb" style="font-size:12px" textLength="12.5" lengthAdjust="spacingAndGlyphs">16</text>
<text x="388" y="83.9" class="lb" style="font-size:12px" textLength="12.5" lengthAdjust="spacingAndGlyphs">15</text>
<text x="418" y="75.9" class="lb" style="font-size:12px" textLength="12.5" lengthAdjust="spacingAndGlyphs">14</text>
<text x="446" y="68.9" class="lb" style="font-size:12px" textLength="12.5" lengthAdjust="spacingAndGlyphs">17</text>
<text x="475" y="59.9" class="lb" style="font-size:12px" textLength="12.5" lengthAdjust="spacingAndGlyphs">18</text>
<text x="504" y="53.4" class="lb" style="font-size:12px" textLength="12.5" lengthAdjust="spacingAndGlyphs">15</text>
<text x="532" y="45.9" class="lb" style="font-size:12px" textLength="12.5" lengthAdjust="spacingAndGlyphs">16</text>
<text x="557" y="38.3" class="lb" style="font-size:12px" textLength="6.3" lengthAdjust="spacingAndGlyphs">3</text>
<text x="561" y="196.4" class="lb" style="font-size:12px" textLength="12.5" lengthAdjust="spacingAndGlyphs">13</text>
<text x="590" y="188.9" class="lb" style="font-size:12px" textLength="6.3" lengthAdjust="spacingAndGlyphs">6</text>
<text x="620" y="181.9" class="lb" style="font-size:12px" textLength="6.3" lengthAdjust="spacingAndGlyphs">7</text>
<text x="648" y="174.9" class="lb" style="font-size:12px" textLength="12.5" lengthAdjust="spacingAndGlyphs">12</text>
<text x="676" y="164.9" class="lb" style="font-size:12px" textLength="6.3" lengthAdjust="spacingAndGlyphs">9</text>
<text x="481" y="217.4" class="lb" style="font-size:12px" textLength="6.3" lengthAdjust="spacingAndGlyphs">1</text>
<text x="298" y="264.9" class="lb" style="font-size:12px" textLength="12.5" lengthAdjust="spacingAndGlyphs">10</text>
<text x="318" y="260.9" class="lb" style="font-size:12px" textLength="6.3" lengthAdjust="spacingAndGlyphs">4</text>
<text x="392" y="241.9" class="lb" style="font-size:12px" textLength="12.5" lengthAdjust="spacingAndGlyphs">26</text>
<text x="440" y="490.9" class="lb" style="font-size:12px" textLength="12.5" lengthAdjust="spacingAndGlyphs">25</text>
<text x="462" y="490.9" class="lb" style="font-size:12px" textLength="12.5" lengthAdjust="spacingAndGlyphs">24</text>
<text x="487" y="490.9" class="lb" style="font-size:12px" textLength="12.5" lengthAdjust="spacingAndGlyphs">19</text>
<text x="508" y="490.9" class="lb" style="font-size:12px" textLength="12.5" lengthAdjust="spacingAndGlyphs">23</text>
<text x="530" y="490.9" class="lb" style="font-size:12px" textLength="12.5" lengthAdjust="spacingAndGlyphs">21</text>
<text x="554" y="490.9" class="lb" style="font-size:12px" textLength="12.5" lengthAdjust="spacingAndGlyphs">22</text>
<text x="577" y="490.9" class="lb" style="font-size:12px" textLength="12.5" lengthAdjust="spacingAndGlyphs">20</text>
<line x1="244" y1="121" x2="244" y2="196" stroke="#333" stroke-width="1"/>
<line x1="273" y1="115" x2="272" y2="182" stroke="#333" stroke-width="1"/>
<line x1="301" y1="107" x2="300" y2="181" stroke="#333" stroke-width="1"/>
<line x1="330" y1="100" x2="330" y2="162" stroke="#333" stroke-width="1"/>
<line x1="359" y1="92" x2="361" y2="155" stroke="#333" stroke-width="1"/>
<line x1="388" y1="86" x2="395" y2="147" stroke="#333" stroke-width="1"/>
<line x1="418" y1="78" x2="422" y2="136" stroke="#333" stroke-width="1"/>
<line x1="446" y1="71" x2="438" y2="114" stroke="#333" stroke-width="1"/>
<line x1="475" y1="62" x2="474" y2="120" stroke="#333" stroke-width="1"/>
<line x1="504" y1="56" x2="518" y2="117" stroke="#333" stroke-width="1"/>
<line x1="532" y1="48" x2="541" y2="108" stroke="#333" stroke-width="1"/>
<line x1="557" y1="41" x2="572" y2="95" stroke="#333" stroke-width="1"/>
<line x1="561" y1="198" x2="567" y2="262" stroke="#333" stroke-width="1"/>
<line x1="590" y1="191" x2="601" y2="256" stroke="#333" stroke-width="1"/>
<line x1="620" y1="184" x2="624" y2="253" stroke="#333" stroke-width="1"/>
<line x1="648" y1="177" x2="647" y2="240" stroke="#333" stroke-width="1"/>
<line x1="676" y1="167" x2="681" y2="237" stroke="#333" stroke-width="1"/>
<line x1="481" y1="220" x2="481" y2="297" stroke="#333" stroke-width="1"/>
<line x1="298" y1="267" x2="298" y2="287" stroke="#333" stroke-width="1"/>
<line x1="318" y1="263" x2="318" y2="285" stroke="#333" stroke-width="1"/>
<line x1="392" y1="244" x2="392" y2="265" stroke="#333" stroke-width="1"/>
<line x1="441" y1="443" x2="441" y2="479" stroke="#333" stroke-width="1"/>
<line x1="442" y1="402" x2="463" y2="479" stroke="#333" stroke-width="1"/>
<line x1="455" y1="399" x2="447" y2="422" stroke="#333" stroke-width="1"/>
<line x1="488" y1="412" x2="487" y2="479" stroke="#333" stroke-width="1"/>
<line x1="520" y1="407" x2="509" y2="479" stroke="#333" stroke-width="1"/>
<line x1="537" y1="405" x2="531" y2="479" stroke="#333" stroke-width="1"/>
<line x1="555" y1="400" x2="554" y2="479" stroke="#333" stroke-width="1"/>
<line x1="577" y1="400" x2="577" y2="479" stroke="#333" stroke-width="1"/>
<circle cx="341" cy="223" r="9.5" fill="#fff" stroke="#111" stroke-width="1.3"/>
<text x="339" y="227.6" class="lb" style="font-size:12.5px;stroke:#111;stroke-width:0.35">4</text>
<text x="346.2" y="222.5" class="lb" style="font-size:7.5px;stroke:#111;stroke-width:0.2">a</text>
<circle cx="591" cy="161" r="9.5" fill="#fff" stroke="#111" stroke-width="1.3"/>
<text x="589" y="165.6" class="lb" style="font-size:12.5px;stroke:#111;stroke-width:0.35">5</text>
<text x="596.2" y="160.5" class="lb" style="font-size:7.5px;stroke:#111;stroke-width:0.2">a</text>
<circle cx="413" cy="353" r="9.5" fill="#fff" stroke="#111" stroke-width="1.3"/>
<text x="411" y="357.6" class="lb" style="font-size:12.5px;stroke:#111;stroke-width:0.35">2</text>
<text x="418.2" y="352.5" class="lb" style="font-size:7.5px;stroke:#111;stroke-width:0.2">a</text>
<circle cx="453" cy="348.5" r="9.5" fill="#fff" stroke="#111" stroke-width="1.3"/>
<text x="451" y="353.1" class="lb" style="font-size:12.5px;stroke:#111;stroke-width:0.35">3</text>
<text x="458.2" y="348.0" class="lb" style="font-size:7.5px;stroke:#111;stroke-width:0.2">a</text>
<circle cx="537" cy="319" r="9.5" fill="#fff" stroke="#111" stroke-width="1.3"/>
<text x="535" y="323.6" class="lb" style="font-size:12.5px;stroke:#111;stroke-width:0.35">1</text>
<text x="542.2" y="318.5" class="lb" style="font-size:7.5px;stroke:#111;stroke-width:0.2">a</text>
<circle cx="499" cy="329" r="10.5" fill="#fff" stroke="#111" stroke-width="1.3"/>
<text x="499" y="333" class="lb" style="font-size:11px">RM</text>
</svg></body></html>
